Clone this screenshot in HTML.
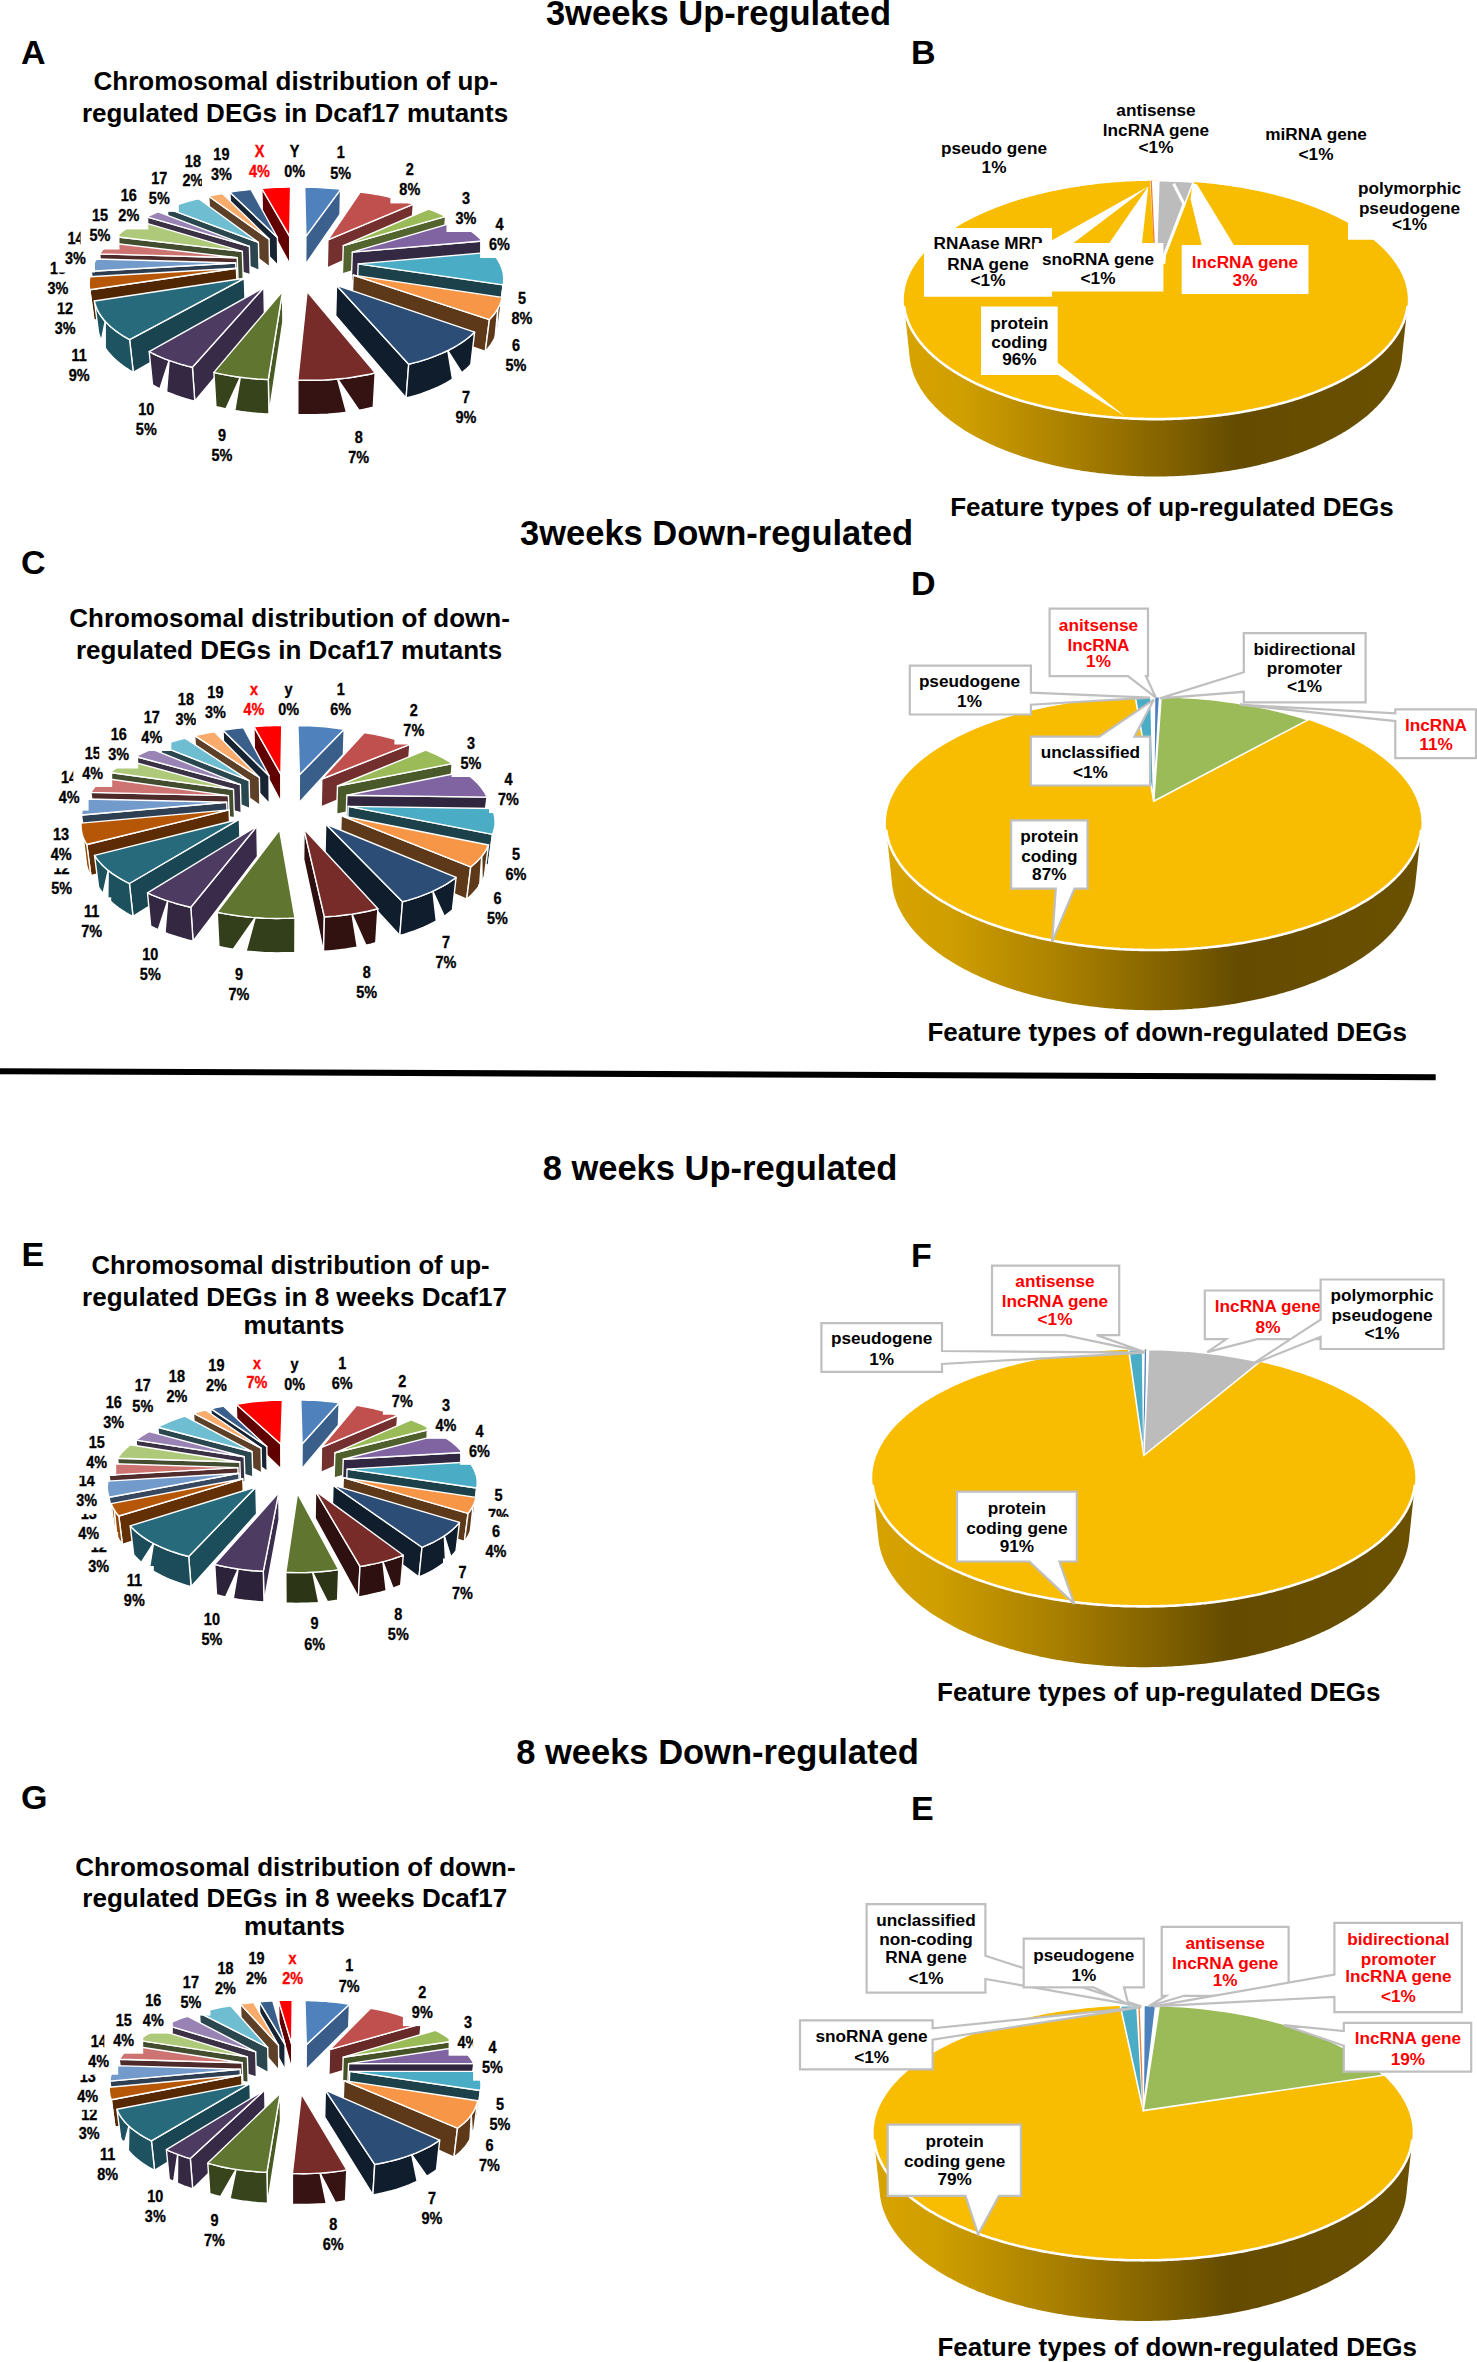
<!DOCTYPE html>
<html><head><meta charset="utf-8"><style>
html,body{margin:0;padding:0;background:#fff;overflow:hidden;}
svg{display:block;}
text{font-family:"Liberation Sans",sans-serif;font-weight:bold;}
</style></head><body>
<svg width="1477" height="2362" viewBox="0 0 1477 2362">
<defs><linearGradient id="gB" gradientUnits="userSpaceOnUse" x1="903.8" y1="0" x2="1407.8" y2="0"><stop offset="0.00" stop-color="#D7A300"/><stop offset="0.12" stop-color="#CF9E00"/><stop offset="0.35" stop-color="#A67D00"/><stop offset="0.55" stop-color="#7D5E00"/><stop offset="0.66" stop-color="#644B00"/><stop offset="1.00" stop-color="#6A5000"/></linearGradient>
<linearGradient id="gD" gradientUnits="userSpaceOnUse" x1="885.9" y1="0" x2="1421.5" y2="0"><stop offset="0.00" stop-color="#D7A300"/><stop offset="0.12" stop-color="#CF9E00"/><stop offset="0.35" stop-color="#A67D00"/><stop offset="0.55" stop-color="#7D5E00"/><stop offset="0.66" stop-color="#644B00"/><stop offset="1.00" stop-color="#6A5000"/></linearGradient>
<linearGradient id="gF" gradientUnits="userSpaceOnUse" x1="872.2" y1="0" x2="1415.3" y2="0"><stop offset="0.00" stop-color="#D7A300"/><stop offset="0.12" stop-color="#CF9E00"/><stop offset="0.35" stop-color="#A67D00"/><stop offset="0.55" stop-color="#7D5E00"/><stop offset="0.66" stop-color="#644B00"/><stop offset="1.00" stop-color="#6A5000"/></linearGradient>
<linearGradient id="gH" gradientUnits="userSpaceOnUse" x1="873.7" y1="0" x2="1412.7" y2="0"><stop offset="0.00" stop-color="#D7A300"/><stop offset="0.12" stop-color="#CF9E00"/><stop offset="0.35" stop-color="#A67D00"/><stop offset="0.55" stop-color="#7D5E00"/><stop offset="0.66" stop-color="#644B00"/><stop offset="1.00" stop-color="#6A5000"/></linearGradient></defs>
<rect width="1477" height="2362" fill="#fff"/>
<text x="718.5" y="24.5" font-size="34.5" text-anchor="middle" fill="#000">3weeks Up-regulated</text>
<text x="716.5" y="545.4" font-size="34.5" text-anchor="middle" fill="#000">3weeks Down-regulated</text>
<text x="720.0" y="1180.3" font-size="34.5" text-anchor="middle" fill="#000">8 weeks Up-regulated</text>
<text x="717.5" y="1764.0" font-size="34.5" text-anchor="middle" fill="#000">8 weeks Down-regulated</text>
<text x="21.0" y="63.5" font-size="34.0" text-anchor="start" fill="#000">A</text>
<text x="911.0" y="64.3" font-size="34.0" text-anchor="start" fill="#000">B</text>
<text x="21.0" y="573.5" font-size="34.0" text-anchor="start" fill="#000">C</text>
<text x="911.0" y="594.8" font-size="34.0" text-anchor="start" fill="#000">D</text>
<text x="21.5" y="1266.3" font-size="34.0" text-anchor="start" fill="#000">E</text>
<text x="911.0" y="1266.7" font-size="34.0" text-anchor="start" fill="#000">F</text>
<text x="21.0" y="1808.7" font-size="34.0" text-anchor="start" fill="#000">G</text>
<text x="911.0" y="1820.0" font-size="34.0" text-anchor="start" fill="#000">E</text>
<text x="295.7" y="90.0" font-size="26.0" text-anchor="middle" fill="#000">Chromosomal distribution of up-</text>
<text x="295.0" y="122.3" font-size="26.0" text-anchor="middle" fill="#000">regulated DEGs in Dcaf17 mutants</text>
<text x="289.6" y="627.3" font-size="26.0" text-anchor="middle" fill="#000">Chromosomal distribution of down-</text>
<text x="289.1" y="659.0" font-size="26.0" text-anchor="middle" fill="#000">regulated DEGs in Dcaf17 mutants</text>
<text x="290.5" y="1274.0" font-size="25.6" text-anchor="middle" fill="#000">Chromosomal distribution of up-</text>
<text x="294.5" y="1305.7" font-size="26.0" text-anchor="middle" fill="#000">regulated DEGs in 8 weeks Dcaf17</text>
<text x="294.0" y="1333.9" font-size="26.0" text-anchor="middle" fill="#000">mutants</text>
<text x="295.4" y="1875.6" font-size="26.0" text-anchor="middle" fill="#000">Chromosomal distribution of down-</text>
<text x="294.8" y="1906.6" font-size="26.0" text-anchor="middle" fill="#000">regulated DEGs in 8 weeks Dcaf17</text>
<text x="294.5" y="1934.8" font-size="26.0" text-anchor="middle" fill="#000">mutants</text>
<text x="1171.9" y="515.5" font-size="26.0" text-anchor="middle" fill="#000">Feature types of up-regulated DEGs</text>
<text x="1167.2" y="1040.5" font-size="26.0" text-anchor="middle" fill="#000">Feature types of down-regulated DEGs</text>
<text x="1158.8" y="1701.0" font-size="26.0" text-anchor="middle" fill="#000">Feature types of up-regulated DEGs</text>
<text x="1177.2" y="2355.7" font-size="26.0" text-anchor="middle" fill="#000">Feature types of down-regulated DEGs</text>
<polygon points="0,1068.2 1435.7,1074.3 1435.7,1080.3 0,1074.3" fill="#000"/>
<polygon points="289.7,236.3 261.8,188.5 262.4,213.5 289.8,264.0" fill="#600000" stroke="#fff" stroke-width="1.4" stroke-linejoin="round"/>
<polygon points="289.7,236.3 290.6,187.1 290.7,212.1 289.8,264.0" fill="#c60000" stroke="#fff" stroke-width="1.4" stroke-linejoin="round"/>
<polygon points="305.9,236.4 304.7,187.2 304.6,212.2 305.7,264.1" fill="#1e3147" stroke="#fff" stroke-width="1.4" stroke-linejoin="round"/>
<polygon points="305.9,236.4 340.6,189.3 340.0,214.4 305.7,264.1" fill="#3b608d" stroke="#fff" stroke-width="1.4" stroke-linejoin="round"/>
<polygon points="277.4,237.5 229.9,192.2 230.9,217.5 277.8,265.3" fill="#162434" stroke="#fff" stroke-width="1.4" stroke-linejoin="round"/>
<polygon points="269.1,239.1 208.7,196.2 210.1,221.7 269.6,267.0" fill="#5e4028" stroke="#fff" stroke-width="1.4" stroke-linejoin="round"/>
<polygon points="327.9,239.9 413.4,204.2 411.5,230.1 327.3,267.8" fill="#74302e" stroke="#fff" stroke-width="1.4" stroke-linejoin="round"/>
<polygon points="258.4,242.3 167.2,208.4 169.3,234.6 259.1,270.3" fill="#2a474f" stroke="#fff" stroke-width="1.4" stroke-linejoin="round"/>
<polygon points="343.3,245.7 445.7,216.4 443.3,243.0 342.4,274.0" fill="#53642f" stroke="#fff" stroke-width="1.4" stroke-linejoin="round"/>
<polygon points="249.4,246.4 146.8,216.9 149.3,243.6 250.2,274.7" fill="#3a3144" stroke="#fff" stroke-width="1.4" stroke-linejoin="round"/>
<polygon points="242.3,251.4 115.9,236.8 119.1,264.5 243.3,279.9" fill="#424c2e" stroke="#fff" stroke-width="1.4" stroke-linejoin="round"/>
<polygon points="352.3,252.1 482.4,241.0 479.1,269.0 351.3,280.7" fill="#342942" stroke="#fff" stroke-width="1.4" stroke-linejoin="round"/>
<polygon points="237.2,257.8 99.6,253.9 103.2,282.5 238.3,286.7" fill="#4d2b2a" stroke="#fff" stroke-width="1.4" stroke-linejoin="round"/>
<polygon points="235.7,263.0 91.2,271.2 95.1,300.8 236.8,292.1" fill="#2d3d50" stroke="#fff" stroke-width="1.4" stroke-linejoin="round"/>
<polygon points="358.2,263.9 503.2,284.9 499.1,315.1 357.0,293.0" fill="#1c414b" stroke="#fff" stroke-width="1.4" stroke-linejoin="round"/>
<polygon points="503.5,282.6 503.2,284.9 499.1,315.1 499.5,312.7" fill="#1c414b" stroke="#fff" stroke-width="1.4" stroke-linejoin="round"/>
<polygon points="236.4,268.3 89.8,289.8 93.9,320.2 237.5,297.6" fill="#512703" stroke="#fff" stroke-width="1.4" stroke-linejoin="round"/>
<polygon points="89.8,289.8 89.4,287.6 93.5,317.9 93.9,320.2" fill="#974806" stroke="#fff" stroke-width="1.4" stroke-linejoin="round"/>
<polygon points="353.1,275.1 489.4,319.6 485.3,351.4 352.0,304.9" fill="#5d391a" stroke="#fff" stroke-width="1.4" stroke-linejoin="round"/>
<polygon points="502.0,297.4 501.5,299.6 500.8,301.9 500.0,304.2 498.9,306.4 497.8,308.7 496.4,310.9 494.9,313.1 493.2,315.3 491.4,317.4 489.4,319.6 485.3,351.4 487.3,349.2 489.1,346.9 490.8,344.7 492.3,342.3 493.6,340.0 494.8,337.7 495.8,335.3 496.7,333.0 497.4,330.6 497.9,328.2" fill="#5d391a" stroke="#fff" stroke-width="1.4" stroke-linejoin="round"/>
<polygon points="497.8,308.7 495.1,337.0 496.7,333.0" fill="#fff" stroke="#fff" stroke-width="1.4" stroke-linejoin="round"/>
<polygon points="244.3,278.3 129.6,339.6 133.3,372.3 245.4,308.2" fill="#194450" stroke="#fff" stroke-width="1.4" stroke-linejoin="round"/>
<polygon points="129.6,339.6 126.1,337.6 122.7,335.6 119.5,333.5 116.5,331.4 113.7,329.2 111.0,327.0 108.6,324.8 106.3,322.5 104.2,320.2 102.3,317.8 100.7,315.5 99.1,313.1 97.8,310.7 96.7,308.3 95.8,305.8 95.0,303.4 94.4,301.0 98.5,332.0 99.1,334.5 99.9,337.1 100.8,339.6 102.0,342.1 103.3,344.6 104.8,347.1 106.4,349.6 108.3,352.1 110.4,354.5 112.6,356.9 115.0,359.2 117.6,361.6 120.4,363.8 123.4,366.0 126.5,368.2 129.8,370.3 133.3,372.3" fill="#1e5361" stroke="#fff" stroke-width="1.4" stroke-linejoin="round"/>
<polygon points="105.2,321.3 105.2,347.9 101.3,340.6" fill="#fff" stroke="#fff" stroke-width="1.4" stroke-linejoin="round"/>
<polygon points="336.5,285.3 408.7,364.2 406.1,398.0 335.7,315.6" fill="#101d2c" stroke="#fff" stroke-width="1.4" stroke-linejoin="round"/>
<polygon points="474.6,332.1 472.2,334.4 469.5,336.7 466.7,339.0 463.7,341.2 460.5,343.4 457.1,345.5 453.5,347.6 449.7,349.6 445.8,351.5 441.7,353.4 437.4,355.2 433.0,356.9 428.4,358.6 423.7,360.1 418.9,361.6 413.8,362.9 408.7,364.2 406.1,398.0 411.2,396.7 416.0,395.3 420.8,393.8 425.4,392.1 429.9,390.4 434.3,388.6 438.4,386.8 442.5,384.8 446.3,382.8 450.0,380.7 453.5,378.6 456.8,376.3 460.0,374.1 463.0,371.7 465.8,369.4 468.4,367.0 470.8,364.5" fill="#101d2c" stroke="#fff" stroke-width="1.4" stroke-linejoin="round"/>
<polygon points="447.8,350.6 452.5,379.2 461.8,372.7" fill="#fff" stroke="#fff" stroke-width="1.4" stroke-linejoin="round"/>
<polygon points="263.9,287.5 192.4,367.3 194.8,401.3 264.5,317.9" fill="#382b48" stroke="#fff" stroke-width="1.4" stroke-linejoin="round"/>
<polygon points="192.4,367.3 187.5,366.1 182.7,364.8 178.0,363.4 173.5,361.9 169.1,360.4 164.8,358.8 160.7,357.1 156.7,355.3 152.9,353.5 149.2,351.6 152.5,384.9 156.1,386.9 159.9,388.8 163.8,390.6 167.8,392.4 172.0,394.0 176.3,395.7 180.8,397.2 185.4,398.6 190.0,400.0 194.8,401.3" fill="#342842" stroke="#fff" stroke-width="1.4" stroke-linejoin="round"/>
<polygon points="169.1,360.4 166.6,391.8 159.9,388.8" fill="#fff" stroke="#fff" stroke-width="1.4" stroke-linejoin="round"/>
<polygon points="282.6,291.2 268.3,379.6 269.0,414.0 282.9,321.7" fill="#495b25" stroke="#fff" stroke-width="1.4" stroke-linejoin="round"/>
<polygon points="268.3,379.6 262.6,379.3 257.0,379.0 251.4,378.5 245.8,377.9 240.3,377.2 234.9,376.5 229.5,375.6 224.2,374.6 219.0,373.6 213.9,372.4 215.9,406.6 220.9,407.8 225.9,408.9 231.1,409.9 236.3,410.8 241.7,411.6 247.0,412.3 252.5,412.9 257.9,413.4 263.5,413.8 269.0,414.0" fill="#36431b" stroke="#fff" stroke-width="1.4" stroke-linejoin="round"/>
<polygon points="240.3,377.2 234.8,410.5 225.9,408.9" fill="#fff" stroke="#fff" stroke-width="1.4" stroke-linejoin="round"/>
<polygon points="375.2,372.9 369.7,374.2 364.0,375.3 358.3,376.3 352.5,377.3 346.6,378.1 340.6,378.7 334.6,379.3 328.5,379.7 322.4,380.1 316.3,380.3 310.1,380.3 303.9,380.3 297.8,380.1 297.8,414.6 303.8,414.8 309.8,414.8 315.8,414.7 321.8,414.5 327.8,414.2 333.7,413.7 339.6,413.1 345.4,412.4 351.2,411.6 356.9,410.7 362.4,409.6 367.9,408.4 373.3,407.1" fill="#341312" stroke="#fff" stroke-width="1.4" stroke-linejoin="round"/>
<polygon points="337.6,379.0 346.5,412.3 359.1,410.3" fill="#fff" stroke="#fff" stroke-width="1.4" stroke-linejoin="round"/>
<polygon points="305.9,236.4 304.7,187.2 308.3,187.2 312.0,187.3 315.6,187.4 319.2,187.5 322.8,187.7 326.4,188.0 330.0,188.2 333.6,188.5 337.1,188.9 340.6,189.3" fill="#4F81BD" stroke="#fff" stroke-width="1.4" stroke-linejoin="round"/>
<polygon points="327.9,239.9 360.2,192.0 364.0,192.5 367.8,193.0 371.5,193.6 375.3,194.2 379.0,194.9 382.6,195.6 386.2,196.4 389.8,197.2 393.3,198.1 396.8,199.0 400.2,199.9 403.6,200.9 406.9,202.0 410.2,203.1 413.4,204.2" fill="#C0504D" stroke="#fff" stroke-width="1.4" stroke-linejoin="round"/>
<polygon points="343.3,245.7 428.5,209.0 431.6,210.1 434.5,211.3 437.4,212.5 440.3,213.8 443.0,215.1 445.7,216.4" fill="#9BBB59" stroke="#fff" stroke-width="1.4" stroke-linejoin="round"/>
<polygon points="352.3,252.1 455.7,221.8 458.6,223.4 461.5,224.9 464.2,226.6 466.9,228.2 469.4,229.9 471.9,231.7 474.2,233.5 476.4,235.3 478.6,237.2 480.5,239.0 482.4,241.0" fill="#8064A2" stroke="#fff" stroke-width="1.4" stroke-linejoin="round"/>
<polygon points="358.2,263.9 491.8,252.1 493.5,254.1 495.2,256.1 496.7,258.2 498.1,260.4 499.3,262.5 500.4,264.7 501.4,266.9 502.2,269.1 502.8,271.3 503.3,273.5 503.6,275.8 503.7,278.1 503.7,280.3 503.5,282.6 503.2,284.9" fill="#4BACC6" stroke="#fff" stroke-width="1.4" stroke-linejoin="round"/>
<polygon points="353.1,275.1 502.0,297.4 501.5,299.6 500.8,301.9 500.0,304.2 498.9,306.4 497.8,308.7 496.4,310.9 494.9,313.1 493.2,315.3 491.4,317.4 489.4,319.6" fill="#F79646" stroke="#fff" stroke-width="1.4" stroke-linejoin="round"/>
<polygon points="336.5,285.3 474.6,332.1 472.2,334.4 469.5,336.7 466.7,339.0 463.7,341.2 460.5,343.4 457.1,345.5 453.5,347.6 449.7,349.6 445.8,351.5 441.7,353.4 437.4,355.2 433.0,356.9 428.4,358.6 423.7,360.1 418.9,361.6 413.8,362.9 408.7,364.2" fill="#2C4D75" stroke="#fff" stroke-width="1.4" stroke-linejoin="round"/>
<polygon points="307.1,291.5 375.2,372.9 369.7,374.2 364.0,375.3 358.3,376.3 352.5,377.3 346.6,378.1 340.6,378.7 334.6,379.3 328.5,379.7 322.4,380.1 316.3,380.3 310.1,380.3 303.9,380.3 297.8,380.1" fill="#772C2A" stroke="#fff" stroke-width="1.4" stroke-linejoin="round"/>
<polygon points="282.6,291.2 268.3,379.6 262.6,379.3 257.0,379.0 251.4,378.5 245.8,377.9 240.3,377.2 234.9,376.5 229.5,375.6 224.2,374.6 219.0,373.6 213.9,372.4" fill="#5F7530" stroke="#fff" stroke-width="1.4" stroke-linejoin="round"/>
<polygon points="263.9,287.5 192.4,367.3 187.5,366.1 182.7,364.8 178.0,363.4 173.5,361.9 169.1,360.4 164.8,358.8 160.7,357.1 156.7,355.3 152.9,353.5 149.2,351.6" fill="#4D3B62" stroke="#fff" stroke-width="1.4" stroke-linejoin="round"/>
<polygon points="244.3,278.3 129.6,339.6 126.1,337.6 122.7,335.6 119.5,333.5 116.5,331.4 113.7,329.2 111.0,327.0 108.6,324.8 106.3,322.5 104.2,320.2 102.3,317.8 100.7,315.5 99.1,313.1 97.8,310.7 96.7,308.3 95.8,305.8 95.0,303.4 94.4,301.0" fill="#276A7C" stroke="#fff" stroke-width="1.4" stroke-linejoin="round"/>
<polygon points="236.4,268.3 89.8,289.8 89.4,287.6 89.2,285.4 89.2,283.2 89.3,281.0 89.5,278.9 89.9,276.7" fill="#B65708" stroke="#fff" stroke-width="1.4" stroke-linejoin="round"/>
<polygon points="235.7,263.0 91.2,271.2 91.7,269.1 92.4,267.1 93.2,265.0 94.1,263.0 95.2,261.0 96.4,259.0" fill="#729ACA" stroke="#fff" stroke-width="1.4" stroke-linejoin="round"/>
<polygon points="237.2,257.8 99.6,253.9 100.9,252.0 102.3,250.1 103.8,248.2 105.4,246.3 107.2,244.5 109.0,242.7" fill="#CD7371" stroke="#fff" stroke-width="1.4" stroke-linejoin="round"/>
<polygon points="242.3,251.4 115.9,236.8 117.8,235.0 119.8,233.4 121.9,231.7 124.1,230.1 126.4,228.5 128.8,227.0 131.2,225.5 133.8,224.0 136.4,222.6 139.1,221.2" fill="#AFC97A" stroke="#fff" stroke-width="1.4" stroke-linejoin="round"/>
<polygon points="249.4,246.4 146.8,216.9 149.5,215.6 152.3,214.3 155.1,213.1 158.1,211.8" fill="#9983B5" stroke="#fff" stroke-width="1.4" stroke-linejoin="round"/>
<polygon points="258.4,242.3 167.2,208.4 170.2,207.3 173.1,206.1 176.2,205.1 179.3,204.0 182.4,203.0 185.6,202.1 188.8,201.2 192.1,200.3 195.4,199.4 198.8,198.7" fill="#6FBDD1" stroke="#fff" stroke-width="1.4" stroke-linejoin="round"/>
<polygon points="269.1,239.1 208.7,196.2 212.1,195.4 215.5,194.7 218.9,194.1 222.4,193.5" fill="#F9AB6B" stroke="#fff" stroke-width="1.4" stroke-linejoin="round"/>
<polygon points="277.4,237.5 229.9,192.2 233.3,191.6 236.8,191.1 240.3,190.6 243.9,190.2 247.4,189.8 251.0,189.4" fill="#3A5F8B" stroke="#fff" stroke-width="1.4" stroke-linejoin="round"/>
<polygon points="289.7,236.3 261.8,188.5 265.4,188.1 269.0,187.9 272.6,187.6 276.2,187.4 279.8,187.3 283.4,187.2 287.0,187.1 290.6,187.1" fill="#FF0000" stroke="#fff" stroke-width="1.4" stroke-linejoin="round"/>
<rect x="321.3" y="137.8" width="38.9" height="49.0" fill="#fff"/><g transform="translate(340.7,0) scale(0.86,1)" fill="#000" stroke="#000" stroke-width="0.35"><text x="0" y="157.8" font-size="16.8" text-anchor="middle">1</text><text x="0" y="178.8" font-size="16.8" text-anchor="middle">5%</text></g>
<rect x="390.4" y="155.3" width="38.9" height="48.1" fill="#fff"/><g transform="translate(409.8,0) scale(0.86,1)" fill="#000" stroke="#000" stroke-width="0.35"><text x="0" y="175.3" font-size="16.8" text-anchor="middle">2</text><text x="0" y="195.4" font-size="16.8" text-anchor="middle">8%</text></g>
<rect x="446.5" y="183.9" width="38.9" height="48.1" fill="#fff"/><g transform="translate(465.9,0) scale(0.86,1)" fill="#000" stroke="#000" stroke-width="0.35"><text x="0" y="203.9" font-size="16.8" text-anchor="middle">3</text><text x="0" y="224.0" font-size="16.8" text-anchor="middle">3%</text></g>
<rect x="480.1" y="210.0" width="38.9" height="48.0" fill="#fff"/><g transform="translate(499.5,0) scale(0.86,1)" fill="#000" stroke="#000" stroke-width="0.35"><text x="0" y="230.0" font-size="16.8" text-anchor="middle">4</text><text x="0" y="250.0" font-size="16.8" text-anchor="middle">6%</text></g>
<rect x="502.6" y="284.0" width="38.9" height="48.0" fill="#fff"/><g transform="translate(522.0,0) scale(0.86,1)" fill="#000" stroke="#000" stroke-width="0.35"><text x="0" y="304.0" font-size="16.8" text-anchor="middle">5</text><text x="0" y="324.0" font-size="16.8" text-anchor="middle">8%</text></g>
<rect x="496.6" y="330.7" width="38.9" height="48.0" fill="#fff"/><g transform="translate(516.0,0) scale(0.86,1)" fill="#000" stroke="#000" stroke-width="0.35"><text x="0" y="350.7" font-size="16.8" text-anchor="middle">6</text><text x="0" y="370.7" font-size="16.8" text-anchor="middle">5%</text></g>
<rect x="446.6" y="382.8" width="38.9" height="48.0" fill="#fff"/><g transform="translate(466.0,0) scale(0.86,1)" fill="#000" stroke="#000" stroke-width="0.35"><text x="0" y="402.8" font-size="16.8" text-anchor="middle">7</text><text x="0" y="422.8" font-size="16.8" text-anchor="middle">9%</text></g>
<rect x="339.3" y="422.9" width="38.9" height="48.1" fill="#fff"/><g transform="translate(358.7,0) scale(0.86,1)" fill="#000" stroke="#000" stroke-width="0.35"><text x="0" y="442.9" font-size="16.8" text-anchor="middle">8</text><text x="0" y="463.0" font-size="16.8" text-anchor="middle">7%</text></g>
<rect x="202.6" y="420.9" width="38.9" height="48.1" fill="#fff"/><g transform="translate(222.0,0) scale(0.86,1)" fill="#000" stroke="#000" stroke-width="0.35"><text x="0" y="440.9" font-size="16.8" text-anchor="middle">9</text><text x="0" y="461.0" font-size="16.8" text-anchor="middle">5%</text></g>
<rect x="126.9" y="395.3" width="38.9" height="48.1" fill="#fff"/><g transform="translate(146.3,0) scale(0.86,1)" fill="#000" stroke="#000" stroke-width="0.35"><text x="0" y="415.3" font-size="16.8" text-anchor="middle">10</text><text x="0" y="435.4" font-size="16.8" text-anchor="middle">5%</text></g>
<rect x="59.8" y="340.7" width="38.9" height="48.1" fill="#fff"/><g transform="translate(79.2,0) scale(0.86,1)" fill="#000" stroke="#000" stroke-width="0.35"><text x="0" y="360.7" font-size="16.8" text-anchor="middle">11</text><text x="0" y="380.8" font-size="16.8" text-anchor="middle">9%</text></g>
<rect x="45.7" y="294.1" width="38.9" height="48.1" fill="#fff"/><g transform="translate(65.1,0) scale(0.86,1)" fill="#000" stroke="#000" stroke-width="0.35"><text x="0" y="314.1" font-size="16.8" text-anchor="middle">12</text><text x="0" y="334.2" font-size="16.8" text-anchor="middle">3%</text></g>
<rect x="38.6" y="254.4" width="38.9" height="48.1" fill="#fff"/><g transform="translate(58.0,0) scale(0.86,1)" fill="#000" stroke="#000" stroke-width="0.35"><text x="0" y="274.4" font-size="16.8" text-anchor="middle">13</text><text x="0" y="294.5" font-size="16.8" text-anchor="middle">3%</text></g>
<rect x="56.1" y="224.0" width="38.9" height="48.5" fill="#fff"/><g transform="translate(75.5,0) scale(0.86,1)" fill="#000" stroke="#000" stroke-width="0.35"><text x="0" y="244.0" font-size="16.8" text-anchor="middle">14</text><text x="0" y="264.5" font-size="16.8" text-anchor="middle">3%</text></g>
<rect x="80.6" y="201.0" width="38.9" height="48.5" fill="#fff"/><g transform="translate(100.0,0) scale(0.86,1)" fill="#000" stroke="#000" stroke-width="0.35"><text x="0" y="221.0" font-size="16.8" text-anchor="middle">15</text><text x="0" y="241.5" font-size="16.8" text-anchor="middle">5%</text></g>
<rect x="109.4" y="181.4" width="38.9" height="48.0" fill="#fff"/><g transform="translate(128.8,0) scale(0.86,1)" fill="#000" stroke="#000" stroke-width="0.35"><text x="0" y="201.4" font-size="16.8" text-anchor="middle">16</text><text x="0" y="221.4" font-size="16.8" text-anchor="middle">2%</text></g>
<rect x="139.9" y="163.9" width="38.9" height="48.0" fill="#fff"/><g transform="translate(159.3,0) scale(0.86,1)" fill="#000" stroke="#000" stroke-width="0.35"><text x="0" y="183.9" font-size="16.8" text-anchor="middle">17</text><text x="0" y="203.9" font-size="16.8" text-anchor="middle">5%</text></g>
<rect x="173.5" y="147.3" width="38.9" height="47.1" fill="#fff"/><g transform="translate(192.9,0) scale(0.86,1)" fill="#000" stroke="#000" stroke-width="0.35"><text x="0" y="167.3" font-size="16.8" text-anchor="middle">18</text><text x="0" y="186.4" font-size="16.8" text-anchor="middle">2%</text></g>
<rect x="202.0" y="139.8" width="38.9" height="48.0" fill="#fff"/><g transform="translate(221.4,0) scale(0.86,1)" fill="#000" stroke="#000" stroke-width="0.35"><text x="0" y="159.8" font-size="16.8" text-anchor="middle">19</text><text x="0" y="179.8" font-size="16.8" text-anchor="middle">3%</text></g>
<rect x="240.1" y="137.3" width="38.9" height="48.0" fill="#fff"/><g transform="translate(259.5,0) scale(0.86,1)" fill="#f00" stroke="#f00" stroke-width="0.35"><text x="0" y="157.3" font-size="16.8" text-anchor="middle">X</text><text x="0" y="177.3" font-size="16.8" text-anchor="middle">4%</text></g>
<rect x="275.2" y="137.3" width="38.9" height="48.0" fill="#fff"/><g transform="translate(294.6,0) scale(0.86,1)" fill="#000" stroke="#000" stroke-width="0.35"><text x="0" y="157.3" font-size="16.8" text-anchor="middle">Y</text><text x="0" y="177.3" font-size="16.8" text-anchor="middle">0%</text></g>
<polygon points="280.9,774.5 253.9,726.7 254.4,751.7 281.0,802.2" fill="#600000" stroke="#fff" stroke-width="1.4" stroke-linejoin="round"/>
<polygon points="280.9,774.5 281.8,725.5 281.9,750.4 281.0,802.2" fill="#c60000" stroke="#fff" stroke-width="1.4" stroke-linejoin="round"/>
<polygon points="299.4,774.8 297.9,725.7 297.7,750.6 299.2,802.5" fill="#1e3147" stroke="#fff" stroke-width="1.4" stroke-linejoin="round"/>
<polygon points="299.4,774.8 344.2,729.3 343.4,754.4 299.2,802.5" fill="#395e8a" stroke="#fff" stroke-width="1.4" stroke-linejoin="round"/>
<polygon points="269.0,775.7 223.0,730.2 224.0,755.4 269.3,803.4" fill="#162434" stroke="#fff" stroke-width="1.4" stroke-linejoin="round"/>
<polygon points="259.4,777.5 194.7,735.7 196.2,761.2 259.9,805.4" fill="#5e4028" stroke="#fff" stroke-width="1.4" stroke-linejoin="round"/>
<polygon points="321.8,779.0 409.9,744.4 408.0,770.4 321.2,806.9" fill="#722f2d" stroke="#fff" stroke-width="1.4" stroke-linejoin="round"/>
<polygon points="249.1,780.6 160.8,745.8 162.8,771.8 249.8,808.6" fill="#2a474f" stroke="#fff" stroke-width="1.4" stroke-linejoin="round"/>
<polygon points="240.4,784.6 135.7,756.5 138.3,783.1 241.2,812.8" fill="#3a3144" stroke="#fff" stroke-width="1.4" stroke-linejoin="round"/>
<polygon points="337.5,786.0 452.4,763.6 449.6,790.7 336.6,814.2" fill="#4a592a" stroke="#fff" stroke-width="1.4" stroke-linejoin="round"/>
<polygon points="233.5,789.4 110.1,772.5 113.2,800.1 234.5,817.8" fill="#424c2e" stroke="#fff" stroke-width="1.4" stroke-linejoin="round"/>
<polygon points="346.9,795.2 487.0,797.1 483.3,826.0 345.9,823.9" fill="#30263d" stroke="#fff" stroke-width="1.4" stroke-linejoin="round"/>
<polygon points="228.4,795.6 90.9,792.4 94.5,821.0 229.5,824.4" fill="#4d2b2a" stroke="#fff" stroke-width="1.4" stroke-linejoin="round"/>
<polygon points="226.7,802.3 81.5,815.0 85.4,844.7 227.8,831.4" fill="#2f3f53" stroke="#fff" stroke-width="1.4" stroke-linejoin="round"/>
<polygon points="348.2,806.4 492.5,834.4 488.4,865.2 347.1,835.8" fill="#1c414b" stroke="#fff" stroke-width="1.4" stroke-linejoin="round"/>
<polygon points="494.9,824.9 494.6,827.3 494.0,829.7 493.4,832.1 492.5,834.4 488.4,865.2 489.2,862.7 490.0,860.2 490.5,857.7 490.8,855.2" fill="#1c414b" stroke="#fff" stroke-width="1.4" stroke-linejoin="round"/>
<polygon points="229.1,809.9 86.8,844.5 90.9,875.6 230.2,839.4" fill="#5d2c04" stroke="#fff" stroke-width="1.4" stroke-linejoin="round"/>
<polygon points="86.8,844.5 85.4,842.1 84.2,839.8 83.2,837.4 82.4,835.0 81.8,832.6 81.4,830.2 85.5,860.7 85.9,863.2 86.6,865.7 87.4,868.2 88.4,870.7 89.5,873.2 90.9,875.6" fill="#954706" stroke="#fff" stroke-width="1.4" stroke-linejoin="round"/>
<polygon points="83.2,837.4 86.7,866.3 86.0,863.7" fill="#fff" stroke="#fff" stroke-width="1.4" stroke-linejoin="round"/>
<polygon points="341.2,815.7 470.7,866.9 466.7,899.1 340.2,845.5" fill="#5d391a" stroke="#fff" stroke-width="1.4" stroke-linejoin="round"/>
<polygon points="488.5,845.0 487.4,847.3 486.3,849.6 484.9,851.8 483.4,854.1 481.7,856.3 479.8,858.4 477.8,860.6 475.6,862.7 473.2,864.8 470.7,866.9 466.7,899.1 469.2,897.0 471.6,894.8 473.7,892.5 475.7,890.3 477.6,888.0 479.3,885.7 480.8,883.3 482.1,881.0 483.3,878.6 484.3,876.3" fill="#5d391a" stroke="#fff" stroke-width="1.4" stroke-linejoin="round"/>
<polygon points="481.7,856.3 479.7,885.0 482.1,881.0" fill="#fff" stroke="#fff" stroke-width="1.4" stroke-linejoin="round"/>
<polygon points="239.4,819.2 129.4,883.5 133.0,916.4 240.3,849.1" fill="#194652" stroke="#fff" stroke-width="1.4" stroke-linejoin="round"/>
<polygon points="129.4,883.5 125.7,881.6 122.1,879.7 118.7,877.7 115.5,875.7 112.4,873.6 109.5,871.4 106.8,869.2 104.3,867.0 102.0,864.7 99.9,862.4 97.9,860.1 96.1,857.8 94.5,855.4 98.6,887.1 100.2,889.6 101.9,892.0 103.9,894.5 106.0,896.9 108.3,899.2 110.8,901.5 113.4,903.8 116.2,906.1 119.2,908.3 122.4,910.4 125.8,912.5 129.3,914.5 133.0,916.4" fill="#1d515e" stroke="#fff" stroke-width="1.4" stroke-linejoin="round"/>
<polygon points="108.2,870.3 107.8,898.8 103.1,893.5" fill="#fff" stroke="#fff" stroke-width="1.4" stroke-linejoin="round"/>
<polygon points="325.7,824.0 402.5,901.8 399.8,935.5 325.0,854.2" fill="#101d2c" stroke="#fff" stroke-width="1.4" stroke-linejoin="round"/>
<polygon points="456.1,877.4 453.1,879.7 449.8,881.9 446.4,884.1 442.8,886.2 439.0,888.2 435.0,890.2 430.8,892.1 426.5,893.9 422.0,895.7 417.3,897.3 412.5,898.9 407.6,900.4 402.5,901.8 399.8,935.5 404.8,934.1 409.7,932.5 414.4,930.9 418.9,929.1 423.3,927.3 427.6,925.4 431.7,923.4 435.6,921.4 439.3,919.2 442.9,917.0 446.2,914.8 449.4,912.4 452.4,910.1" fill="#101d2c" stroke="#fff" stroke-width="1.4" stroke-linejoin="round"/>
<polygon points="432.9,891.2 436.3,921.0 444.2,916.1" fill="#fff" stroke="#fff" stroke-width="1.4" stroke-linejoin="round"/>
<polygon points="256.9,826.2 190.8,907.2 193.1,941.1 257.5,856.5" fill="#392b49" stroke="#fff" stroke-width="1.4" stroke-linejoin="round"/>
<polygon points="190.8,907.2 185.4,906.0 180.2,904.6 175.1,903.2 170.1,901.7 165.3,900.1 160.6,898.4 156.1,896.6 151.7,894.8 147.5,892.8 150.7,926.2 154.8,928.2 159.1,930.1 163.5,932.0 168.1,933.8 172.8,935.4 177.7,937.0 182.7,938.5 187.8,939.9 193.1,941.1" fill="#332741" stroke="#fff" stroke-width="1.4" stroke-linejoin="round"/>
<polygon points="167.7,900.9 165.0,932.6 158.2,929.8" fill="#fff" stroke="#fff" stroke-width="1.4" stroke-linejoin="round"/>
<polygon points="304.0,829.1 324.4,916.9 323.5,951.3 303.7,859.5" fill="#2d100f" stroke="#fff" stroke-width="1.4" stroke-linejoin="round"/>
<polygon points="377.9,908.8 372.9,910.0 367.8,911.2 362.6,912.2 357.4,913.2 352.0,914.1 346.6,914.8 341.1,915.5 335.6,916.1 330.0,916.5 324.4,916.9 323.5,951.3 329.0,950.9 334.4,950.4 339.9,949.8 345.2,949.1 350.5,948.3 355.7,947.4 360.9,946.4 365.9,945.3 370.9,944.1 375.8,942.8" fill="#311211" stroke="#fff" stroke-width="1.4" stroke-linejoin="round"/>
<polygon points="352.0,914.1 357.3,947.1 365.9,945.3" fill="#fff" stroke="#fff" stroke-width="1.4" stroke-linejoin="round"/>
<polygon points="295.0,918.0 288.9,918.3 282.8,918.4 276.6,918.5 270.5,918.4 264.4,918.2 258.3,917.8 252.2,917.4 246.2,916.8 240.2,916.1 234.3,915.3 228.5,914.4 222.8,913.4 217.2,912.2 218.9,946.4 224.4,947.6 229.9,948.6 235.6,949.6 241.3,950.4 247.2,951.2 253.0,951.7 259.0,952.2 264.9,952.6 270.9,952.8 276.9,952.9 282.9,952.8 288.9,952.7 294.9,952.4" fill="#333f1a" stroke="#fff" stroke-width="1.4" stroke-linejoin="round"/>
<polygon points="255.2,917.6 246.1,951.0 233.3,949.2" fill="#fff" stroke="#fff" stroke-width="1.4" stroke-linejoin="round"/>
<polygon points="299.4,774.8 297.9,725.7 301.8,725.8 305.7,725.8 309.7,725.9 313.6,726.1 317.5,726.3 321.3,726.6 325.2,726.9 329.1,727.3 332.9,727.7 336.7,728.2 340.5,728.7 344.2,729.3" fill="#4F81BD" stroke="#fff" stroke-width="1.4" stroke-linejoin="round"/>
<polygon points="321.8,779.0 364.4,732.5 368.1,733.2 371.9,733.8 375.6,734.6 379.2,735.3 382.8,736.1 386.4,737.0 389.9,737.9 393.4,738.9 396.9,739.9 400.2,740.9 403.5,742.0 406.8,743.2 409.9,744.4" fill="#C0504D" stroke="#fff" stroke-width="1.4" stroke-linejoin="round"/>
<polygon points="337.5,786.0 425.6,750.1 429.0,751.4 432.2,752.8 435.4,754.2 438.4,755.6 441.4,757.1 444.3,758.7 447.1,760.3 449.8,761.9 452.4,763.6" fill="#9BBB59" stroke="#fff" stroke-width="1.4" stroke-linejoin="round"/>
<polygon points="346.9,795.2 463.8,771.8 466.3,773.5 468.7,775.3 471.0,777.1 473.2,779.0 475.2,780.9 477.2,782.8 479.0,784.8 480.7,786.8 482.2,788.8 483.6,790.8 484.9,792.9 486.0,795.0 487.0,797.1" fill="#8064A2" stroke="#fff" stroke-width="1.4" stroke-linejoin="round"/>
<polygon points="348.2,806.4 492.2,808.5 493.1,810.8 493.8,813.1 494.4,815.5 494.8,817.8 495.0,820.2 495.0,822.6 494.9,824.9 494.6,827.3 494.0,829.7 493.4,832.1 492.5,834.4" fill="#4BACC6" stroke="#fff" stroke-width="1.4" stroke-linejoin="round"/>
<polygon points="341.2,815.7 488.5,845.0 487.4,847.3 486.3,849.6 484.9,851.8 483.4,854.1 481.7,856.3 479.8,858.4 477.8,860.6 475.6,862.7 473.2,864.8 470.7,866.9" fill="#F79646" stroke="#fff" stroke-width="1.4" stroke-linejoin="round"/>
<polygon points="325.7,824.0 456.1,877.4 453.1,879.7 449.8,881.9 446.4,884.1 442.8,886.2 439.0,888.2 435.0,890.2 430.8,892.1 426.5,893.9 422.0,895.7 417.3,897.3 412.5,898.9 407.6,900.4 402.5,901.8" fill="#2C4D75" stroke="#fff" stroke-width="1.4" stroke-linejoin="round"/>
<polygon points="304.0,829.1 377.9,908.8 372.9,910.0 367.8,911.2 362.6,912.2 357.4,913.2 352.0,914.1 346.6,914.8 341.1,915.5 335.6,916.1 330.0,916.5 324.4,916.9" fill="#772C2A" stroke="#fff" stroke-width="1.4" stroke-linejoin="round"/>
<polygon points="279.6,829.8 295.0,918.0 288.9,918.3 282.8,918.4 276.6,918.5 270.5,918.4 264.4,918.2 258.3,917.8 252.2,917.4 246.2,916.8 240.2,916.1 234.3,915.3 228.5,914.4 222.8,913.4 217.2,912.2" fill="#5F7530" stroke="#fff" stroke-width="1.4" stroke-linejoin="round"/>
<polygon points="256.9,826.2 190.8,907.2 185.4,906.0 180.2,904.6 175.1,903.2 170.1,901.7 165.3,900.1 160.6,898.4 156.1,896.6 151.7,894.8 147.5,892.8" fill="#4D3B62" stroke="#fff" stroke-width="1.4" stroke-linejoin="round"/>
<polygon points="239.4,819.2 129.4,883.5 125.7,881.6 122.1,879.7 118.7,877.7 115.5,875.7 112.4,873.6 109.5,871.4 106.8,869.2 104.3,867.0 102.0,864.7 99.9,862.4 97.9,860.1 96.1,857.8 94.5,855.4" fill="#276A7C" stroke="#fff" stroke-width="1.4" stroke-linejoin="round"/>
<polygon points="229.1,809.9 86.8,844.5 85.4,842.1 84.2,839.8 83.2,837.4 82.4,835.0 81.8,832.6 81.4,830.2 81.1,827.8 81.0,825.5 81.1,823.1" fill="#B65708" stroke="#fff" stroke-width="1.4" stroke-linejoin="round"/>
<polygon points="226.7,802.3 81.5,815.0 81.7,812.6 82.2,810.3 82.8,808.0 83.6,805.7 84.5,803.4 85.6,801.2 86.9,799.0" fill="#729ACA" stroke="#fff" stroke-width="1.4" stroke-linejoin="round"/>
<polygon points="228.4,795.6 90.9,792.4 92.2,790.3 93.8,788.2 95.4,786.1 97.2,784.1 99.2,782.1 101.2,780.1 103.4,778.2" fill="#CD7371" stroke="#fff" stroke-width="1.4" stroke-linejoin="round"/>
<polygon points="233.5,789.4 110.1,772.5 112.4,770.7 114.7,768.9 117.2,767.1 119.8,765.4 122.5,763.8 125.3,762.1 128.2,760.6" fill="#AFC97A" stroke="#fff" stroke-width="1.4" stroke-linejoin="round"/>
<polygon points="240.4,784.6 135.7,756.5 138.3,755.1 140.9,753.9 143.6,752.6 146.3,751.4 149.1,750.2 152.0,749.1" fill="#9983B5" stroke="#fff" stroke-width="1.4" stroke-linejoin="round"/>
<polygon points="249.1,780.6 160.8,745.8 164.1,744.5 167.4,743.4 170.9,742.2 174.3,741.1 177.9,740.1 181.5,739.1 185.1,738.2" fill="#6FBDD1" stroke="#fff" stroke-width="1.4" stroke-linejoin="round"/>
<polygon points="259.4,777.5 194.7,735.7 197.9,734.9 201.1,734.2 204.4,733.5 207.7,732.9 211.0,732.3 214.4,731.7" fill="#F9AB6B" stroke="#fff" stroke-width="1.4" stroke-linejoin="round"/>
<polygon points="269.0,775.7 223.0,730.2 226.4,729.7 229.8,729.2 233.2,728.8 236.6,728.3 240.0,728.0 243.5,727.6" fill="#3A5F8B" stroke="#fff" stroke-width="1.4" stroke-linejoin="round"/>
<polygon points="280.9,774.5 253.9,726.7 257.9,726.4 261.8,726.1 265.8,725.9 269.8,725.7 273.8,725.6 277.8,725.5 281.8,725.5" fill="#FF0000" stroke="#fff" stroke-width="1.4" stroke-linejoin="round"/>
<rect x="321.3" y="675.4" width="38.9" height="48.0" fill="#fff"/><g transform="translate(340.7,0) scale(0.86,1)" fill="#000" stroke="#000" stroke-width="0.35"><text x="0" y="695.4" font-size="16.8" text-anchor="middle">1</text><text x="0" y="715.4" font-size="16.8" text-anchor="middle">6%</text></g>
<rect x="394.4" y="696.4" width="38.9" height="48.1" fill="#fff"/><g transform="translate(413.8,0) scale(0.86,1)" fill="#000" stroke="#000" stroke-width="0.35"><text x="0" y="716.4" font-size="16.8" text-anchor="middle">2</text><text x="0" y="736.5" font-size="16.8" text-anchor="middle">7%</text></g>
<rect x="451.6" y="729.0" width="38.9" height="48.0" fill="#fff"/><g transform="translate(471.0,0) scale(0.86,1)" fill="#000" stroke="#000" stroke-width="0.35"><text x="0" y="749.0" font-size="16.8" text-anchor="middle">3</text><text x="0" y="769.0" font-size="16.8" text-anchor="middle">5%</text></g>
<rect x="489.1" y="765.0" width="38.9" height="48.0" fill="#fff"/><g transform="translate(508.5,0) scale(0.86,1)" fill="#000" stroke="#000" stroke-width="0.35"><text x="0" y="785.0" font-size="16.8" text-anchor="middle">4</text><text x="0" y="805.0" font-size="16.8" text-anchor="middle">7%</text></g>
<rect x="496.6" y="840.2" width="38.9" height="48.1" fill="#fff"/><g transform="translate(516.0,0) scale(0.86,1)" fill="#000" stroke="#000" stroke-width="0.35"><text x="0" y="860.2" font-size="16.8" text-anchor="middle">5</text><text x="0" y="880.3" font-size="16.8" text-anchor="middle">6%</text></g>
<rect x="478.1" y="884.3" width="38.9" height="48.0" fill="#fff"/><g transform="translate(497.5,0) scale(0.86,1)" fill="#000" stroke="#000" stroke-width="0.35"><text x="0" y="904.3" font-size="16.8" text-anchor="middle">6</text><text x="0" y="924.3" font-size="16.8" text-anchor="middle">5%</text></g>
<rect x="426.5" y="927.9" width="38.9" height="48.1" fill="#fff"/><g transform="translate(445.9,0) scale(0.86,1)" fill="#000" stroke="#000" stroke-width="0.35"><text x="0" y="947.9" font-size="16.8" text-anchor="middle">7</text><text x="0" y="968.0" font-size="16.8" text-anchor="middle">7%</text></g>
<rect x="347.3" y="958.0" width="38.9" height="48.0" fill="#fff"/><g transform="translate(366.7,0) scale(0.86,1)" fill="#000" stroke="#000" stroke-width="0.35"><text x="0" y="978.0" font-size="16.8" text-anchor="middle">8</text><text x="0" y="998.0" font-size="16.8" text-anchor="middle">5%</text></g>
<rect x="219.6" y="960.5" width="38.9" height="48.0" fill="#fff"/><g transform="translate(239.0,0) scale(0.86,1)" fill="#000" stroke="#000" stroke-width="0.35"><text x="0" y="980.5" font-size="16.8" text-anchor="middle">9</text><text x="0" y="1000.5" font-size="16.8" text-anchor="middle">7%</text></g>
<rect x="130.9" y="940.4" width="38.9" height="48.0" fill="#fff"/><g transform="translate(150.3,0) scale(0.86,1)" fill="#000" stroke="#000" stroke-width="0.35"><text x="0" y="960.4" font-size="16.8" text-anchor="middle">10</text><text x="0" y="980.4" font-size="16.8" text-anchor="middle">5%</text></g>
<rect x="72.3" y="897.3" width="38.9" height="48.1" fill="#fff"/><g transform="translate(91.7,0) scale(0.86,1)" fill="#000" stroke="#000" stroke-width="0.35"><text x="0" y="917.3" font-size="16.8" text-anchor="middle">11</text><text x="0" y="937.4" font-size="16.8" text-anchor="middle">7%</text></g>
<rect x="42.2" y="854.3" width="38.9" height="48.0" fill="#fff"/><g transform="translate(61.6,0) scale(0.86,1)" fill="#000" stroke="#000" stroke-width="0.35"><text x="0" y="874.3" font-size="16.8" text-anchor="middle">12</text><text x="0" y="894.3" font-size="16.8" text-anchor="middle">5%</text></g>
<rect x="41.7" y="820.2" width="38.9" height="48.0" fill="#fff"/><g transform="translate(61.1,0) scale(0.86,1)" fill="#000" stroke="#000" stroke-width="0.35"><text x="0" y="840.2" font-size="16.8" text-anchor="middle">13</text><text x="0" y="860.2" font-size="16.8" text-anchor="middle">4%</text></g>
<rect x="49.7" y="762.6" width="38.9" height="48.0" fill="#fff"/><g transform="translate(69.1,0) scale(0.86,1)" fill="#000" stroke="#000" stroke-width="0.35"><text x="0" y="782.6" font-size="16.8" text-anchor="middle">14</text><text x="0" y="802.6" font-size="16.8" text-anchor="middle">4%</text></g>
<rect x="73.3" y="739.0" width="38.9" height="48.0" fill="#fff"/><g transform="translate(92.7,0) scale(0.86,1)" fill="#000" stroke="#000" stroke-width="0.35"><text x="0" y="759.0" font-size="16.8" text-anchor="middle">15</text><text x="0" y="779.0" font-size="16.8" text-anchor="middle">4%</text></g>
<rect x="99.3" y="720.5" width="38.9" height="48.0" fill="#fff"/><g transform="translate(118.7,0) scale(0.86,1)" fill="#000" stroke="#000" stroke-width="0.35"><text x="0" y="740.5" font-size="16.8" text-anchor="middle">16</text><text x="0" y="760.5" font-size="16.8" text-anchor="middle">3%</text></g>
<rect x="132.4" y="703.0" width="38.9" height="48.0" fill="#fff"/><g transform="translate(151.8,0) scale(0.86,1)" fill="#000" stroke="#000" stroke-width="0.35"><text x="0" y="723.0" font-size="16.8" text-anchor="middle">17</text><text x="0" y="743.0" font-size="16.8" text-anchor="middle">4%</text></g>
<rect x="166.5" y="685.4" width="38.9" height="48.0" fill="#fff"/><g transform="translate(185.9,0) scale(0.86,1)" fill="#000" stroke="#000" stroke-width="0.35"><text x="0" y="705.4" font-size="16.8" text-anchor="middle">18</text><text x="0" y="725.4" font-size="16.8" text-anchor="middle">3%</text></g>
<rect x="196.0" y="677.9" width="38.9" height="48.0" fill="#fff"/><g transform="translate(215.4,0) scale(0.86,1)" fill="#000" stroke="#000" stroke-width="0.35"><text x="0" y="697.9" font-size="16.8" text-anchor="middle">19</text><text x="0" y="717.9" font-size="16.8" text-anchor="middle">3%</text></g>
<rect x="234.6" y="675.4" width="38.9" height="48.0" fill="#fff"/><g transform="translate(254.0,0) scale(0.86,1)" fill="#f00" stroke="#f00" stroke-width="0.35"><text x="0" y="695.4" font-size="16.8" text-anchor="middle">x</text><text x="0" y="715.4" font-size="16.8" text-anchor="middle">4%</text></g>
<rect x="269.2" y="675.4" width="38.9" height="48.0" fill="#fff"/><g transform="translate(288.6,0) scale(0.86,1)" fill="#000" stroke="#000" stroke-width="0.35"><text x="0" y="695.4" font-size="16.8" text-anchor="middle">y</text><text x="0" y="715.4" font-size="16.8" text-anchor="middle">0%</text></g>
<polygon points="302.1,1444.0 300.8,1400.1 300.7,1422.4 301.9,1468.7" fill="#1e3147" stroke="#fff" stroke-width="1.4" stroke-linejoin="round"/>
<polygon points="302.1,1444.0 339.2,1402.8 338.4,1425.2 301.9,1468.7" fill="#3a5f8b" stroke="#fff" stroke-width="1.4" stroke-linejoin="round"/>
<polygon points="280.9,1444.2 236.2,1404.2 237.0,1426.7 281.1,1468.9" fill="#600000" stroke="#fff" stroke-width="1.4" stroke-linejoin="round"/>
<polygon points="280.9,1444.2 282.4,1400.2 282.5,1422.5 281.1,1468.9" fill="#c60000" stroke="#fff" stroke-width="1.4" stroke-linejoin="round"/>
<polygon points="266.8,1446.5 210.8,1408.7 212.1,1431.5 267.2,1471.4" fill="#162434" stroke="#fff" stroke-width="1.4" stroke-linejoin="round"/>
<polygon points="321.5,1447.4 397.7,1415.5 396.1,1438.6 321.0,1472.3" fill="#74302e" stroke="#fff" stroke-width="1.4" stroke-linejoin="round"/>
<polygon points="261.1,1448.1 193.4,1413.2 195.0,1436.3 261.6,1473.1" fill="#5e4028" stroke="#fff" stroke-width="1.4" stroke-linejoin="round"/>
<polygon points="252.1,1451.7 157.8,1427.2 160.0,1451.0 252.9,1476.9" fill="#2a474f" stroke="#fff" stroke-width="1.4" stroke-linejoin="round"/>
<polygon points="334.9,1452.8 431.0,1429.0 428.7,1452.9 334.1,1478.0" fill="#4f602d" stroke="#fff" stroke-width="1.4" stroke-linejoin="round"/>
<polygon points="244.2,1456.8 136.0,1440.1 138.7,1464.7 245.1,1482.2" fill="#3a3144" stroke="#fff" stroke-width="1.4" stroke-linejoin="round"/>
<polygon points="343.3,1459.3 462.4,1452.5 459.4,1477.7 342.3,1484.8" fill="#322740" stroke="#fff" stroke-width="1.4" stroke-linejoin="round"/>
<polygon points="239.8,1462.0 117.5,1458.3 120.7,1483.8 240.7,1487.7" fill="#424c2e" stroke="#fff" stroke-width="1.4" stroke-linejoin="round"/>
<polygon points="237.9,1467.6 109.0,1475.1 112.5,1501.5 238.9,1493.5" fill="#512d2d" stroke="#fff" stroke-width="1.4" stroke-linejoin="round"/>
<polygon points="347.1,1469.1 476.7,1488.0 473.1,1515.0 346.1,1495.2" fill="#1c414b" stroke="#fff" stroke-width="1.4" stroke-linejoin="round"/>
<polygon points="477.0,1485.9 476.7,1488.0 473.1,1515.0 473.4,1512.8" fill="#1c414b" stroke="#fff" stroke-width="1.4" stroke-linejoin="round"/>
<polygon points="238.9,1473.3 109.1,1497.3 112.8,1524.8 239.9,1499.5" fill="#36485f" stroke="#fff" stroke-width="1.4" stroke-linejoin="round"/>
<polygon points="109.1,1497.3 108.5,1495.3 107.9,1493.3 107.6,1491.2 111.2,1518.4 111.6,1520.5 112.1,1522.7 112.8,1524.8" fill="#5e7fa7" stroke="#fff" stroke-width="1.4" stroke-linejoin="round"/>
<polygon points="343.3,1477.7 468.1,1513.3 464.4,1541.5 342.3,1504.2" fill="#5d391a" stroke="#fff" stroke-width="1.4" stroke-linejoin="round"/>
<polygon points="475.9,1497.4 475.4,1499.5 474.8,1501.5 474.0,1503.5 473.1,1505.5 472.1,1507.4 470.9,1509.4 469.6,1511.4 468.1,1513.3 464.4,1541.5 465.9,1539.5 467.2,1537.4 468.4,1535.4 469.4,1533.3 470.3,1531.2 471.1,1529.1 471.7,1527.0 472.2,1524.9" fill="#5d391a" stroke="#fff" stroke-width="1.4" stroke-linejoin="round"/>
<polygon points="473.1,1505.5 470.4,1531.1 471.3,1528.3" fill="#fff" stroke="#fff" stroke-width="1.4" stroke-linejoin="round"/>
<polygon points="242.8,1478.8 118.8,1516.0 122.4,1544.3 243.7,1505.4" fill="#632f04" stroke="#fff" stroke-width="1.4" stroke-linejoin="round"/>
<polygon points="118.8,1516.0 117.1,1514.0 115.6,1511.9 114.3,1509.9 113.1,1507.8 112.1,1505.7 111.2,1503.6 114.9,1531.4 115.8,1533.6 116.8,1535.8 118.0,1537.9 119.3,1540.1 120.8,1542.2 122.4,1544.3" fill="#934606" stroke="#fff" stroke-width="1.4" stroke-linejoin="round"/>
<polygon points="114.3,1509.9 117.0,1536.2 116.0,1534.0" fill="#fff" stroke="#fff" stroke-width="1.4" stroke-linejoin="round"/>
<polygon points="333.0,1485.2 422.0,1547.3 419.0,1577.0 332.2,1512.1" fill="#101d2c" stroke="#fff" stroke-width="1.4" stroke-linejoin="round"/>
<polygon points="459.5,1522.4 457.7,1524.6 455.6,1526.7 453.4,1528.8 451.0,1530.9 448.5,1532.9 445.7,1534.9 442.8,1536.8 439.8,1538.7 436.5,1540.5 433.1,1542.3 429.5,1544.0 425.8,1545.7 422.0,1547.3 419.0,1577.0 422.8,1575.3 426.5,1573.6 430.0,1571.8 433.3,1570.0 436.5,1568.0 439.5,1566.1 442.4,1564.0 445.1,1562.0 447.6,1559.9 449.9,1557.7 452.1,1555.5 454.1,1553.3 456.0,1551.0" fill="#101d2c" stroke="#fff" stroke-width="1.4" stroke-linejoin="round"/>
<polygon points="444.3,1535.8 445.6,1561.6 450.8,1556.8" fill="#fff" stroke="#fff" stroke-width="1.4" stroke-linejoin="round"/>
<polygon points="255.9,1487.0 188.7,1556.5 191.1,1586.6 256.6,1513.9" fill="#1c4d5b" stroke="#fff" stroke-width="1.4" stroke-linejoin="round"/>
<polygon points="188.7,1556.5 184.1,1555.3 179.5,1554.0 175.1,1552.5 170.8,1551.1 166.7,1549.5 162.7,1547.8 158.9,1546.1 155.2,1544.3 151.7,1542.5 148.4,1540.6 145.3,1538.6 142.3,1536.6 139.5,1534.5 136.9,1532.4 134.5,1530.3 132.3,1528.1 130.2,1525.9 133.7,1554.7 135.8,1557.0 138.0,1559.3 140.3,1561.5 142.9,1563.7 145.6,1565.9 148.5,1568.0 151.6,1570.0 154.9,1572.0 158.3,1573.9 161.9,1575.8 165.6,1577.6 169.5,1579.3 173.6,1580.9 177.8,1582.5 182.1,1584.0 186.5,1585.3 191.1,1586.6" fill="#1c4c59" stroke="#fff" stroke-width="1.4" stroke-linejoin="round"/>
<polygon points="153.5,1543.4 149.4,1568.6 141.3,1562.4" fill="#fff" stroke="#fff" stroke-width="1.4" stroke-linejoin="round"/>
<polygon points="315.6,1491.1 360.0,1566.4 358.4,1597.0 315.1,1518.2" fill="#2d100f" stroke="#fff" stroke-width="1.4" stroke-linejoin="round"/>
<polygon points="403.3,1555.2 399.4,1556.6 395.4,1558.0 391.4,1559.4 387.2,1560.6 382.9,1561.8 378.5,1562.9 374.0,1563.9 369.4,1564.8 364.7,1565.7 360.0,1566.4 358.4,1597.0 363.0,1596.2 367.6,1595.3 372.0,1594.3 376.4,1593.2 380.8,1592.1 385.0,1590.9 389.1,1589.6 393.1,1588.2 397.0,1586.7 400.7,1585.2" fill="#2d100f" stroke="#fff" stroke-width="1.4" stroke-linejoin="round"/>
<polygon points="382.9,1561.8 386.2,1590.5 393.1,1588.2" fill="#fff" stroke="#fff" stroke-width="1.4" stroke-linejoin="round"/>
<polygon points="278.8,1492.6 263.3,1571.3 264.0,1602.0 279.1,1519.8" fill="#3b2d4c" stroke="#fff" stroke-width="1.4" stroke-linejoin="round"/>
<polygon points="263.3,1571.3 258.2,1571.0 253.1,1570.7 248.1,1570.2 243.1,1569.6 238.2,1569.0 233.3,1568.2 228.6,1567.4 223.8,1566.5 219.2,1565.5 214.7,1564.4 216.5,1594.8 220.9,1595.9 225.5,1597.0 230.1,1597.9 234.7,1598.8 239.5,1599.6 244.3,1600.3 249.2,1600.8 254.1,1601.3 259.0,1601.7 264.0,1602.0" fill="#2c2239" stroke="#fff" stroke-width="1.4" stroke-linejoin="round"/>
<polygon points="238.2,1569.0 233.3,1598.5 225.5,1597.0" fill="#fff" stroke="#fff" stroke-width="1.4" stroke-linejoin="round"/>
<polygon points="338.7,1569.6 333.6,1570.4 328.4,1571.0 323.2,1571.5 317.9,1571.9 312.6,1572.2 307.2,1572.5 301.9,1572.6 296.5,1572.6 291.2,1572.5 285.8,1572.3 286.0,1603.1 291.2,1603.3 296.4,1603.4 301.7,1603.3 306.9,1603.2 312.1,1603.0 317.3,1602.7 322.4,1602.2 327.5,1601.7 332.6,1601.0 337.6,1600.3" fill="#2c3616" stroke="#fff" stroke-width="1.4" stroke-linejoin="round"/>
<polygon points="312.6,1572.2 318.8,1602.5 327.5,1601.7" fill="#fff" stroke="#fff" stroke-width="1.4" stroke-linejoin="round"/>
<polygon points="302.1,1444.0 300.8,1400.1 304.4,1400.1 307.9,1400.2 311.4,1400.3 314.9,1400.4 318.4,1400.6 321.9,1400.9 325.4,1401.2 328.9,1401.5 332.3,1401.9 335.8,1402.3 339.2,1402.8" fill="#4F81BD" stroke="#fff" stroke-width="1.4" stroke-linejoin="round"/>
<polygon points="321.5,1447.4 356.6,1405.4 359.9,1405.9 363.3,1406.5 366.6,1407.1 369.9,1407.8 373.2,1408.4 376.4,1409.2 379.6,1410.0 382.8,1410.8 385.9,1411.6 388.9,1412.5 391.9,1413.5 394.8,1414.5 397.7,1415.5" fill="#C0504D" stroke="#fff" stroke-width="1.4" stroke-linejoin="round"/>
<polygon points="334.9,1452.8 411.0,1419.9 413.7,1420.9 416.3,1422.0 418.9,1423.1 421.5,1424.2 423.9,1425.3 426.3,1426.5 428.7,1427.7 431.0,1429.0" fill="#9BBB59" stroke="#fff" stroke-width="1.4" stroke-linejoin="round"/>
<polygon points="343.3,1459.3 440.4,1434.6 442.9,1436.1 445.3,1437.6 447.6,1439.1 449.9,1440.7 452.0,1442.3 454.0,1443.9 455.9,1445.6 457.7,1447.3 459.4,1449.0 461.0,1450.8 462.4,1452.5" fill="#8064A2" stroke="#fff" stroke-width="1.4" stroke-linejoin="round"/>
<polygon points="347.1,1469.1 469.4,1462.0 470.8,1463.9 472.1,1465.8 473.2,1467.8 474.2,1469.7 475.0,1471.7 475.8,1473.7 476.4,1475.7 476.8,1477.7 477.1,1479.8 477.2,1481.8 477.2,1483.9 477.0,1485.9 476.7,1488.0" fill="#4BACC6" stroke="#fff" stroke-width="1.4" stroke-linejoin="round"/>
<polygon points="343.3,1477.7 475.9,1497.4 475.4,1499.5 474.8,1501.5 474.0,1503.5 473.1,1505.5 472.1,1507.4 470.9,1509.4 469.6,1511.4 468.1,1513.3" fill="#F79646" stroke="#fff" stroke-width="1.4" stroke-linejoin="round"/>
<polygon points="333.0,1485.2 459.5,1522.4 457.7,1524.6 455.6,1526.7 453.4,1528.8 451.0,1530.9 448.5,1532.9 445.7,1534.9 442.8,1536.8 439.8,1538.7 436.5,1540.5 433.1,1542.3 429.5,1544.0 425.8,1545.7 422.0,1547.3" fill="#2C4D75" stroke="#fff" stroke-width="1.4" stroke-linejoin="round"/>
<polygon points="315.6,1491.1 403.3,1555.2 399.4,1556.6 395.4,1558.0 391.4,1559.4 387.2,1560.6 382.9,1561.8 378.5,1562.9 374.0,1563.9 369.4,1564.8 364.7,1565.7 360.0,1566.4" fill="#772C2A" stroke="#fff" stroke-width="1.4" stroke-linejoin="round"/>
<polygon points="297.5,1493.3 338.7,1569.6 333.6,1570.4 328.4,1571.0 323.2,1571.5 317.9,1571.9 312.6,1572.2 307.2,1572.5 301.9,1572.6 296.5,1572.6 291.2,1572.5 285.8,1572.3" fill="#5F7530" stroke="#fff" stroke-width="1.4" stroke-linejoin="round"/>
<polygon points="278.8,1492.6 263.3,1571.3 258.2,1571.0 253.1,1570.7 248.1,1570.2 243.1,1569.6 238.2,1569.0 233.3,1568.2 228.6,1567.4 223.8,1566.5 219.2,1565.5 214.7,1564.4" fill="#4D3B62" stroke="#fff" stroke-width="1.4" stroke-linejoin="round"/>
<polygon points="255.9,1487.0 188.7,1556.5 184.1,1555.3 179.5,1554.0 175.1,1552.5 170.8,1551.1 166.7,1549.5 162.7,1547.8 158.9,1546.1 155.2,1544.3 151.7,1542.5 148.4,1540.6 145.3,1538.6 142.3,1536.6 139.5,1534.5 136.9,1532.4 134.5,1530.3 132.3,1528.1 130.2,1525.9" fill="#276A7C" stroke="#fff" stroke-width="1.4" stroke-linejoin="round"/>
<polygon points="242.8,1478.8 118.8,1516.0 117.1,1514.0 115.6,1511.9 114.3,1509.9 113.1,1507.8 112.1,1505.7 111.2,1503.6" fill="#B65708" stroke="#fff" stroke-width="1.4" stroke-linejoin="round"/>
<polygon points="238.9,1473.3 109.1,1497.3 108.5,1495.3 107.9,1493.3 107.6,1491.2 107.4,1489.2 107.3,1487.1 107.4,1485.1 107.6,1483.1 107.9,1481.1" fill="#729ACA" stroke="#fff" stroke-width="1.4" stroke-linejoin="round"/>
<polygon points="237.9,1467.6 109.0,1475.1 109.5,1473.2 110.1,1471.3 110.8,1469.4 111.7,1467.5 112.7,1465.6 113.8,1463.7" fill="#CD7371" stroke="#fff" stroke-width="1.4" stroke-linejoin="round"/>
<polygon points="239.8,1462.0 117.5,1458.3 118.7,1456.5 120.1,1454.8 121.5,1453.0 123.0,1451.3 124.7,1449.7 126.4,1448.0 128.3,1446.4 130.2,1444.8" fill="#AFC97A" stroke="#fff" stroke-width="1.4" stroke-linejoin="round"/>
<polygon points="244.2,1456.8 136.0,1440.1 138.0,1438.6 140.0,1437.2 142.2,1435.7 144.4,1434.3 146.8,1432.9 149.2,1431.6" fill="#9983B5" stroke="#fff" stroke-width="1.4" stroke-linejoin="round"/>
<polygon points="252.1,1451.7 157.8,1427.2 160.2,1425.9 162.7,1424.7 165.2,1423.5 167.9,1422.3 170.5,1421.2 173.3,1420.1 176.1,1419.0 178.9,1418.0 181.8,1417.1 184.8,1416.1" fill="#6FBDD1" stroke="#fff" stroke-width="1.4" stroke-linejoin="round"/>
<polygon points="261.1,1448.1 193.4,1413.2 196.4,1412.4 199.4,1411.5 202.4,1410.7 205.5,1410.0" fill="#F9AB6B" stroke="#fff" stroke-width="1.4" stroke-linejoin="round"/>
<polygon points="266.8,1446.5 210.8,1408.7 213.9,1408.0 217.1,1407.3 220.2,1406.7 223.4,1406.1" fill="#3A5F8B" stroke="#fff" stroke-width="1.4" stroke-linejoin="round"/>
<polygon points="280.9,1444.2 236.2,1404.2 239.3,1403.7 242.5,1403.2 245.8,1402.7 249.0,1402.3 252.3,1401.9 255.6,1401.5 258.9,1401.2 262.3,1401.0 265.6,1400.7 268.9,1400.6 272.3,1400.4 275.7,1400.3 279.0,1400.2 282.4,1400.2" fill="#FF0000" stroke="#fff" stroke-width="1.4" stroke-linejoin="round"/>
<rect x="322.8" y="1349.1" width="38.9" height="48.1" fill="#fff"/><g transform="translate(342.2,0) scale(0.86,1)" fill="#000" stroke="#000" stroke-width="0.35"><text x="0" y="1369.1" font-size="16.8" text-anchor="middle">1</text><text x="0" y="1389.2" font-size="16.8" text-anchor="middle">6%</text></g>
<rect x="382.9" y="1366.7" width="38.9" height="48.0" fill="#fff"/><g transform="translate(402.3,0) scale(0.86,1)" fill="#000" stroke="#000" stroke-width="0.35"><text x="0" y="1386.7" font-size="16.8" text-anchor="middle">2</text><text x="0" y="1406.7" font-size="16.8" text-anchor="middle">7%</text></g>
<rect x="426.5" y="1390.7" width="38.9" height="48.1" fill="#fff"/><g transform="translate(445.9,0) scale(0.86,1)" fill="#000" stroke="#000" stroke-width="0.35"><text x="0" y="1410.7" font-size="16.8" text-anchor="middle">3</text><text x="0" y="1430.8" font-size="16.8" text-anchor="middle">4%</text></g>
<rect x="460.1" y="1416.8" width="38.9" height="48.0" fill="#fff"/><g transform="translate(479.5,0) scale(0.86,1)" fill="#000" stroke="#000" stroke-width="0.35"><text x="0" y="1436.8" font-size="16.8" text-anchor="middle">4</text><text x="0" y="1456.8" font-size="16.8" text-anchor="middle">6%</text></g>
<rect x="479.1" y="1480.9" width="38.9" height="48.1" fill="#fff"/><g transform="translate(498.5,0) scale(0.86,1)" fill="#000" stroke="#000" stroke-width="0.35"><text x="0" y="1500.9" font-size="16.8" text-anchor="middle">5</text><text x="0" y="1521.0" font-size="16.8" text-anchor="middle">7%</text></g>
<rect x="476.6" y="1517.0" width="38.9" height="48.0" fill="#fff"/><g transform="translate(496.0,0) scale(0.86,1)" fill="#000" stroke="#000" stroke-width="0.35"><text x="0" y="1537.0" font-size="16.8" text-anchor="middle">6</text><text x="0" y="1557.0" font-size="16.8" text-anchor="middle">4%</text></g>
<rect x="443.0" y="1558.5" width="38.9" height="48.1" fill="#fff"/><g transform="translate(462.4,0) scale(0.86,1)" fill="#000" stroke="#000" stroke-width="0.35"><text x="0" y="1578.5" font-size="16.8" text-anchor="middle">7</text><text x="0" y="1598.6" font-size="16.8" text-anchor="middle">7%</text></g>
<rect x="378.9" y="1599.6" width="38.9" height="48.1" fill="#fff"/><g transform="translate(398.3,0) scale(0.86,1)" fill="#000" stroke="#000" stroke-width="0.35"><text x="0" y="1619.6" font-size="16.8" text-anchor="middle">8</text><text x="0" y="1639.7" font-size="16.8" text-anchor="middle">5%</text></g>
<rect x="295.2" y="1608.6" width="38.9" height="49.1" fill="#fff"/><g transform="translate(314.6,0) scale(0.86,1)" fill="#000" stroke="#000" stroke-width="0.35"><text x="0" y="1628.6" font-size="16.8" text-anchor="middle">9</text><text x="0" y="1649.7" font-size="16.8" text-anchor="middle">6%</text></g>
<rect x="192.5" y="1604.6" width="38.9" height="48.1" fill="#fff"/><g transform="translate(211.9,0) scale(0.86,1)" fill="#000" stroke="#000" stroke-width="0.35"><text x="0" y="1624.6" font-size="16.8" text-anchor="middle">10</text><text x="0" y="1644.7" font-size="16.8" text-anchor="middle">5%</text></g>
<rect x="114.9" y="1566.0" width="38.9" height="48.0" fill="#fff"/><g transform="translate(134.3,0) scale(0.86,1)" fill="#000" stroke="#000" stroke-width="0.35"><text x="0" y="1586.0" font-size="16.8" text-anchor="middle">11</text><text x="0" y="1606.0" font-size="16.8" text-anchor="middle">9%</text></g>
<rect x="79.3" y="1532.0" width="38.9" height="48.0" fill="#fff"/><g transform="translate(98.7,0) scale(0.86,1)" fill="#000" stroke="#000" stroke-width="0.35"><text x="0" y="1552.0" font-size="16.8" text-anchor="middle">12</text><text x="0" y="1572.0" font-size="16.8" text-anchor="middle">3%</text></g>
<rect x="69.3" y="1499.5" width="38.9" height="48.0" fill="#fff"/><g transform="translate(88.7,0) scale(0.86,1)" fill="#000" stroke="#000" stroke-width="0.35"><text x="0" y="1519.5" font-size="16.8" text-anchor="middle">13</text><text x="0" y="1539.5" font-size="16.8" text-anchor="middle">4%</text></g>
<rect x="67.3" y="1465.9" width="38.9" height="48.0" fill="#fff"/><g transform="translate(86.7,0) scale(0.86,1)" fill="#000" stroke="#000" stroke-width="0.35"><text x="0" y="1485.9" font-size="16.8" text-anchor="middle">14</text><text x="0" y="1505.9" font-size="16.8" text-anchor="middle">3%</text></g>
<rect x="77.3" y="1427.8" width="38.9" height="48.0" fill="#fff"/><g transform="translate(96.7,0) scale(0.86,1)" fill="#000" stroke="#000" stroke-width="0.35"><text x="0" y="1447.8" font-size="16.8" text-anchor="middle">15</text><text x="0" y="1467.8" font-size="16.8" text-anchor="middle">4%</text></g>
<rect x="94.3" y="1388.2" width="38.9" height="48.0" fill="#fff"/><g transform="translate(113.7,0) scale(0.86,1)" fill="#000" stroke="#000" stroke-width="0.35"><text x="0" y="1408.2" font-size="16.8" text-anchor="middle">16</text><text x="0" y="1428.2" font-size="16.8" text-anchor="middle">3%</text></g>
<rect x="123.4" y="1370.7" width="38.9" height="49.0" fill="#fff"/><g transform="translate(142.8,0) scale(0.86,1)" fill="#000" stroke="#000" stroke-width="0.35"><text x="0" y="1390.7" font-size="16.8" text-anchor="middle">17</text><text x="0" y="1411.7" font-size="16.8" text-anchor="middle">5%</text></g>
<rect x="157.5" y="1361.7" width="38.9" height="48.0" fill="#fff"/><g transform="translate(176.9,0) scale(0.86,1)" fill="#000" stroke="#000" stroke-width="0.35"><text x="0" y="1381.7" font-size="16.8" text-anchor="middle">18</text><text x="0" y="1401.7" font-size="16.8" text-anchor="middle">2%</text></g>
<rect x="197.0" y="1350.6" width="38.9" height="48.1" fill="#fff"/><g transform="translate(216.4,0) scale(0.86,1)" fill="#000" stroke="#000" stroke-width="0.35"><text x="0" y="1370.6" font-size="16.8" text-anchor="middle">19</text><text x="0" y="1390.7" font-size="16.8" text-anchor="middle">2%</text></g>
<rect x="237.6" y="1349.1" width="38.9" height="47.1" fill="#fff"/><g transform="translate(257.0,0) scale(0.86,1)" fill="#f00" stroke="#f00" stroke-width="0.35"><text x="0" y="1369.1" font-size="16.8" text-anchor="middle">x</text><text x="0" y="1388.2" font-size="16.8" text-anchor="middle">7%</text></g>
<rect x="275.2" y="1350.1" width="38.9" height="48.1" fill="#fff"/><g transform="translate(294.6,0) scale(0.86,1)" fill="#000" stroke="#000" stroke-width="0.35"><text x="0" y="1370.1" font-size="16.8" text-anchor="middle">y</text><text x="0" y="1390.2" font-size="16.8" text-anchor="middle">0%</text></g>
<polygon points="291.7,2044.2 278.6,2000.6 278.9,2023.0 291.8,2069.1" fill="#600000" stroke="#fff" stroke-width="1.4" stroke-linejoin="round"/>
<polygon points="291.7,2044.2 292.2,2000.3 292.2,2022.6 291.8,2069.1" fill="#c60000" stroke="#fff" stroke-width="1.4" stroke-linejoin="round"/>
<polygon points="285.1,2044.6 259.4,2001.9 259.9,2024.3 285.2,2069.5" fill="#162434" stroke="#fff" stroke-width="1.4" stroke-linejoin="round"/>
<polygon points="306.3,2044.7 304.9,2000.6 304.7,2023.0 306.1,2069.6" fill="#1e3147" stroke="#fff" stroke-width="1.4" stroke-linejoin="round"/>
<polygon points="306.3,2044.7 349.5,2004.3 348.7,2026.9 306.1,2069.6" fill="#395d88" stroke="#fff" stroke-width="1.4" stroke-linejoin="round"/>
<polygon points="278.5,2045.4 240.4,2004.1 241.3,2026.7 278.8,2070.2" fill="#5e4028" stroke="#fff" stroke-width="1.4" stroke-linejoin="round"/>
<polygon points="267.7,2047.5 199.4,2012.8 200.9,2035.9 268.2,2072.5" fill="#2a474f" stroke="#fff" stroke-width="1.4" stroke-linejoin="round"/>
<polygon points="329.5,2049.7 421.1,2023.9 419.0,2047.6 328.9,2074.8" fill="#672a29" stroke="#fff" stroke-width="1.4" stroke-linejoin="round"/>
<polygon points="255.7,2051.8 165.6,2024.9 167.8,2048.6 256.4,2077.0" fill="#3a3144" stroke="#fff" stroke-width="1.4" stroke-linejoin="round"/>
<polygon points="247.4,2056.9 138.6,2040.4 141.3,2065.0 248.2,2082.4" fill="#424c2e" stroke="#fff" stroke-width="1.4" stroke-linejoin="round"/>
<polygon points="343.2,2057.2 452.7,2041.2 450.0,2065.8 342.4,2082.7" fill="#455327" stroke="#fff" stroke-width="1.4" stroke-linejoin="round"/>
<polygon points="242.1,2062.8 119.2,2059.3 122.3,2084.9 243.1,2088.6" fill="#4d2b2a" stroke="#fff" stroke-width="1.4" stroke-linejoin="round"/>
<polygon points="348.6,2063.6 473.8,2063.6 470.5,2089.5 347.6,2089.5" fill="#30263d" stroke="#fff" stroke-width="1.4" stroke-linejoin="round"/>
<polygon points="240.2,2069.2 109.9,2081.1 113.4,2107.9 241.3,2095.4" fill="#2f3f53" stroke="#fff" stroke-width="1.4" stroke-linejoin="round"/>
<polygon points="349.7,2071.4 480.4,2090.5 476.8,2117.7 348.7,2097.7" fill="#1c414b" stroke="#fff" stroke-width="1.4" stroke-linejoin="round"/>
<polygon points="480.7,2088.6 480.4,2090.5 476.8,2117.7 477.1,2115.7" fill="#1c414b" stroke="#fff" stroke-width="1.4" stroke-linejoin="round"/>
<polygon points="241.7,2075.0 111.3,2099.7 115.0,2127.3 242.7,2101.4" fill="#562903" stroke="#fff" stroke-width="1.4" stroke-linejoin="round"/>
<polygon points="111.3,2099.7 110.6,2097.6 110.0,2095.5 109.6,2093.5 113.3,2120.8 113.7,2123.0 114.3,2125.1 115.0,2127.3" fill="#964806" stroke="#fff" stroke-width="1.4" stroke-linejoin="round"/>
<polygon points="343.9,2080.6 457.5,2128.2 454.0,2157.1 343.0,2107.3" fill="#5d391a" stroke="#fff" stroke-width="1.4" stroke-linejoin="round"/>
<polygon points="477.7,2100.7 477.2,2102.9 476.5,2105.1 475.6,2107.3 474.6,2109.5 473.4,2111.7 472.0,2113.8 470.5,2116.0 468.8,2118.1 466.9,2120.2 464.8,2122.2 462.5,2124.3 460.1,2126.2 457.5,2128.2 454.0,2157.1 456.6,2155.1 459.0,2153.0 461.2,2150.9 463.2,2148.8 465.1,2146.6 466.8,2144.4 468.3,2142.1 469.7,2139.9 470.9,2137.6 471.9,2135.3 472.8,2133.0 473.5,2130.7 474.0,2128.4" fill="#5d391a" stroke="#fff" stroke-width="1.4" stroke-linejoin="round"/>
<polygon points="471.3,2114.9 470.0,2139.4 472.3,2134.4" fill="#fff" stroke="#fff" stroke-width="1.4" stroke-linejoin="round"/>
<polygon points="250.0,2083.4 151.4,2140.8 154.6,2170.3 250.8,2110.3" fill="#194652" stroke="#fff" stroke-width="1.4" stroke-linejoin="round"/>
<polygon points="151.4,2140.8 148.0,2139.1 144.8,2137.4 141.8,2135.6 138.9,2133.8 136.2,2131.9 133.6,2130.0 131.2,2128.1 128.9,2126.1 126.8,2124.0 124.9,2122.0 123.2,2119.9 121.6,2117.8 120.2,2115.7 118.9,2113.6 117.9,2111.4 116.9,2109.3 120.6,2137.4 121.5,2139.6 122.6,2141.9 123.9,2144.1 125.3,2146.3 126.8,2148.5 128.6,2150.7 130.4,2152.8 132.5,2154.9 134.7,2157.0 137.1,2159.1 139.6,2161.1 142.3,2163.0 145.1,2164.9 148.1,2166.8 151.3,2168.6 154.6,2170.3" fill="#1e5260" stroke="#fff" stroke-width="1.4" stroke-linejoin="round"/>
<polygon points="128.9,2126.1 128.4,2150.5 124.1,2144.5" fill="#fff" stroke="#fff" stroke-width="1.4" stroke-linejoin="round"/>
<polygon points="264.7,2090.0 190.3,2158.6 192.7,2188.9 265.3,2117.2" fill="#372a46" stroke="#fff" stroke-width="1.4" stroke-linejoin="round"/>
<polygon points="190.3,2158.6 186.0,2157.3 181.8,2155.9 177.7,2154.4 173.8,2152.9 170.0,2151.3 166.4,2149.6 169.3,2179.5 172.9,2181.2 176.6,2182.9 180.4,2184.5 184.4,2186.1 188.5,2187.5 192.7,2188.9" fill="#342842" stroke="#fff" stroke-width="1.4" stroke-linejoin="round"/>
<polygon points="177.7,2154.4 177.4,2183.3 173.6,2181.6" fill="#fff" stroke="#fff" stroke-width="1.4" stroke-linejoin="round"/>
<polygon points="325.3,2090.1 374.7,2164.4 372.9,2194.9 324.7,2117.2" fill="#101d2c" stroke="#fff" stroke-width="1.4" stroke-linejoin="round"/>
<polygon points="439.7,2140.2 436.8,2142.2 433.7,2144.2 430.5,2146.1 427.0,2147.9 423.4,2149.7 419.7,2151.4 415.8,2153.1 411.7,2154.7 407.6,2156.2 403.2,2157.6 398.8,2159.0 394.2,2160.2 389.5,2161.4 384.7,2162.5 379.8,2163.5 374.7,2164.4 372.9,2194.9 377.8,2194.0 382.6,2192.9 387.3,2191.8 391.9,2190.6 396.4,2189.3 400.7,2187.9 405.0,2186.4 409.1,2184.8 413.0,2183.1 416.9,2181.4 420.5,2179.6 424.1,2177.8 427.4,2175.8 430.6,2173.8 433.7,2171.8 436.5,2169.7" fill="#101d2c" stroke="#fff" stroke-width="1.4" stroke-linejoin="round"/>
<polygon points="411.7,2154.7 417.2,2181.3 426.8,2176.2" fill="#fff" stroke="#fff" stroke-width="1.4" stroke-linejoin="round"/>
<polygon points="280.2,2093.3 266.9,2172.3 267.6,2203.2 280.5,2120.6" fill="#495b25" stroke="#fff" stroke-width="1.4" stroke-linejoin="round"/>
<polygon points="266.9,2172.3 261.7,2172.1 256.5,2171.7 251.3,2171.3 246.2,2170.8 241.1,2170.1 236.1,2169.4 231.1,2168.6 226.3,2167.7 221.5,2166.7 216.8,2165.6 212.2,2164.4 207.8,2163.1 209.8,2193.6 214.2,2194.9 218.7,2196.1 223.2,2197.3 227.9,2198.3 232.6,2199.3 237.5,2200.1 242.4,2200.9 247.3,2201.5 252.3,2202.1 257.4,2202.6 262.5,2202.9 267.6,2203.2" fill="#37441c" stroke="#fff" stroke-width="1.4" stroke-linejoin="round"/>
<polygon points="236.1,2169.4 230.0,2198.7 220.5,2196.6" fill="#fff" stroke="#fff" stroke-width="1.4" stroke-linejoin="round"/>
<polygon points="346.8,2170.0 341.5,2170.9 336.2,2171.6 330.9,2172.2 325.5,2172.7 320.0,2173.1 314.5,2173.4 309.0,2173.6 303.4,2173.7 297.9,2173.6 292.4,2173.5 292.4,2204.3 297.8,2204.5 303.2,2204.5 308.6,2204.5 314.0,2204.3 319.4,2204.0 324.7,2203.6 330.0,2203.0 335.3,2202.4 340.4,2201.6 345.5,2200.8" fill="#371413" stroke="#fff" stroke-width="1.4" stroke-linejoin="round"/>
<polygon points="320.0,2173.1 326.3,2203.4 335.3,2202.4" fill="#fff" stroke="#fff" stroke-width="1.4" stroke-linejoin="round"/>
<polygon points="306.3,2044.7 304.9,2000.6 308.4,2000.6 311.9,2000.7 315.3,2000.8 318.8,2001.0 322.3,2001.2 325.8,2001.4 329.2,2001.7 332.7,2002.0 336.1,2002.4 339.5,2002.8 342.9,2003.3 346.2,2003.8 349.5,2004.3" fill="#4F81BD" stroke="#fff" stroke-width="1.4" stroke-linejoin="round"/>
<polygon points="329.5,2049.7 370.6,2008.2 373.9,2008.8 377.2,2009.5 380.4,2010.1 383.6,2010.8 386.8,2011.6 390.0,2012.4 393.1,2013.3 396.1,2014.1 399.1,2015.1 402.1,2016.0 405.0,2017.0 407.8,2018.1 410.6,2019.2 413.3,2020.3 416.0,2021.5 418.6,2022.7 421.1,2023.9" fill="#C0504D" stroke="#fff" stroke-width="1.4" stroke-linejoin="round"/>
<polygon points="343.2,2057.2 435.5,2030.3 437.9,2031.5 440.3,2032.8 442.5,2034.1 444.7,2035.5 446.8,2036.9 448.9,2038.3 450.8,2039.7 452.7,2041.2" fill="#9BBB59" stroke="#fff" stroke-width="1.4" stroke-linejoin="round"/>
<polygon points="348.6,2063.6 459.7,2047.0 461.6,2048.6 463.3,2050.2 465.0,2051.8 466.5,2053.4 468.0,2055.0 469.4,2056.7 470.6,2058.4 471.8,2060.1 472.8,2061.9 473.8,2063.6" fill="#8064A2" stroke="#fff" stroke-width="1.4" stroke-linejoin="round"/>
<polygon points="349.7,2071.4 477.6,2071.4 478.4,2073.3 479.2,2075.2 479.8,2077.1 480.3,2079.0 480.6,2080.9 480.9,2082.8 481.0,2084.7 480.9,2086.7 480.7,2088.6 480.4,2090.5" fill="#4BACC6" stroke="#fff" stroke-width="1.4" stroke-linejoin="round"/>
<polygon points="343.9,2080.6 477.7,2100.7 477.2,2102.9 476.5,2105.1 475.6,2107.3 474.6,2109.5 473.4,2111.7 472.0,2113.8 470.5,2116.0 468.8,2118.1 466.9,2120.2 464.8,2122.2 462.5,2124.3 460.1,2126.2 457.5,2128.2" fill="#F79646" stroke="#fff" stroke-width="1.4" stroke-linejoin="round"/>
<polygon points="325.3,2090.1 439.7,2140.2 436.8,2142.2 433.7,2144.2 430.5,2146.1 427.0,2147.9 423.4,2149.7 419.7,2151.4 415.8,2153.1 411.7,2154.7 407.6,2156.2 403.2,2157.6 398.8,2159.0 394.2,2160.2 389.5,2161.4 384.7,2162.5 379.8,2163.5 374.7,2164.4" fill="#2C4D75" stroke="#fff" stroke-width="1.4" stroke-linejoin="round"/>
<polygon points="301.4,2094.0 346.8,2170.0 341.5,2170.9 336.2,2171.6 330.9,2172.2 325.5,2172.7 320.0,2173.1 314.5,2173.4 309.0,2173.6 303.4,2173.7 297.9,2173.6 292.4,2173.5" fill="#772C2A" stroke="#fff" stroke-width="1.4" stroke-linejoin="round"/>
<polygon points="280.2,2093.3 266.9,2172.3 261.7,2172.1 256.5,2171.7 251.3,2171.3 246.2,2170.8 241.1,2170.1 236.1,2169.4 231.1,2168.6 226.3,2167.7 221.5,2166.7 216.8,2165.6 212.2,2164.4 207.8,2163.1" fill="#5F7530" stroke="#fff" stroke-width="1.4" stroke-linejoin="round"/>
<polygon points="264.7,2090.0 190.3,2158.6 186.0,2157.3 181.8,2155.9 177.7,2154.4 173.8,2152.9 170.0,2151.3 166.4,2149.6" fill="#4D3B62" stroke="#fff" stroke-width="1.4" stroke-linejoin="round"/>
<polygon points="250.0,2083.4 151.4,2140.8 148.0,2139.1 144.8,2137.4 141.8,2135.6 138.9,2133.8 136.2,2131.9 133.6,2130.0 131.2,2128.1 128.9,2126.1 126.8,2124.0 124.9,2122.0 123.2,2119.9 121.6,2117.8 120.2,2115.7 118.9,2113.6 117.9,2111.4 116.9,2109.3" fill="#276A7C" stroke="#fff" stroke-width="1.4" stroke-linejoin="round"/>
<polygon points="241.7,2075.0 111.3,2099.7 110.6,2097.6 110.0,2095.5 109.6,2093.5 109.4,2091.4 109.2,2089.3 109.3,2087.3" fill="#B65708" stroke="#fff" stroke-width="1.4" stroke-linejoin="round"/>
<polygon points="240.2,2069.2 109.9,2081.1 110.1,2079.2 110.4,2077.2 110.9,2075.2 111.5,2073.3 112.2,2071.3 113.1,2069.4 114.0,2067.5 115.2,2065.6" fill="#729ACA" stroke="#fff" stroke-width="1.4" stroke-linejoin="round"/>
<polygon points="242.1,2062.8 119.2,2059.3 120.4,2057.5 121.7,2055.8 123.1,2054.0 124.6,2052.3 126.3,2050.6 128.0,2049.0 129.9,2047.3 131.8,2045.7" fill="#CD7371" stroke="#fff" stroke-width="1.4" stroke-linejoin="round"/>
<polygon points="247.4,2056.9 138.6,2040.4 140.6,2038.8 142.6,2037.4 144.8,2035.9 147.0,2034.5 149.4,2033.1 151.8,2031.8 154.3,2030.4 156.8,2029.2" fill="#AFC97A" stroke="#fff" stroke-width="1.4" stroke-linejoin="round"/>
<polygon points="255.7,2051.8 165.6,2024.9 168.2,2023.7 170.8,2022.5 173.5,2021.4 176.2,2020.3 179.0,2019.2 181.9,2018.2 184.8,2017.2 187.8,2016.3" fill="#9983B5" stroke="#fff" stroke-width="1.4" stroke-linejoin="round"/>
<polygon points="267.7,2047.5 199.4,2012.8 202.4,2011.9 205.4,2011.1 208.4,2010.3 211.5,2009.5 214.6,2008.8 217.8,2008.1 220.9,2007.4 224.2,2006.8 227.4,2006.3 230.7,2005.8" fill="#6FBDD1" stroke="#fff" stroke-width="1.4" stroke-linejoin="round"/>
<polygon points="278.5,2045.4 240.4,2004.1 243.7,2003.6 247.0,2003.2 250.3,2002.8 253.6,2002.4" fill="#F9AB6B" stroke="#fff" stroke-width="1.4" stroke-linejoin="round"/>
<polygon points="285.1,2044.6 259.4,2001.9 262.7,2001.6 266.1,2001.3 269.4,2001.1 272.8,2000.9" fill="#3A5F8B" stroke="#fff" stroke-width="1.4" stroke-linejoin="round"/>
<polygon points="291.7,2044.2 278.6,2000.6 282.0,2000.4 285.4,2000.3 288.8,2000.3 292.2,2000.3" fill="#FF0000" stroke="#fff" stroke-width="1.4" stroke-linejoin="round"/>
<rect x="329.8" y="1951.5" width="38.9" height="48.1" fill="#fff"/><g transform="translate(349.2,0) scale(0.86,1)" fill="#000" stroke="#000" stroke-width="0.35"><text x="0" y="1971.5" font-size="16.8" text-anchor="middle">1</text><text x="0" y="1991.6" font-size="16.8" text-anchor="middle">7%</text></g>
<rect x="402.9" y="1978.1" width="38.9" height="48.0" fill="#fff"/><g transform="translate(422.3,0) scale(0.86,1)" fill="#000" stroke="#000" stroke-width="0.35"><text x="0" y="1998.1" font-size="16.8" text-anchor="middle">2</text><text x="0" y="2018.1" font-size="16.8" text-anchor="middle">9%</text></g>
<rect x="448.6" y="2007.6" width="38.9" height="48.1" fill="#fff"/><g transform="translate(468.0,0) scale(0.86,1)" fill="#000" stroke="#000" stroke-width="0.35"><text x="0" y="2027.6" font-size="16.8" text-anchor="middle">3</text><text x="0" y="2047.7" font-size="16.8" text-anchor="middle">4%</text></g>
<rect x="473.1" y="2032.7" width="38.9" height="48.0" fill="#fff"/><g transform="translate(492.5,0) scale(0.86,1)" fill="#000" stroke="#000" stroke-width="0.35"><text x="0" y="2052.7" font-size="16.8" text-anchor="middle">4</text><text x="0" y="2072.7" font-size="16.8" text-anchor="middle">5%</text></g>
<rect x="480.6" y="2090.3" width="38.9" height="48.0" fill="#fff"/><g transform="translate(500.0,0) scale(0.86,1)" fill="#000" stroke="#000" stroke-width="0.35"><text x="0" y="2110.3" font-size="16.8" text-anchor="middle">5</text><text x="0" y="2130.3" font-size="16.8" text-anchor="middle">5%</text></g>
<rect x="470.1" y="2130.9" width="38.9" height="48.0" fill="#fff"/><g transform="translate(489.5,0) scale(0.86,1)" fill="#000" stroke="#000" stroke-width="0.35"><text x="0" y="2150.9" font-size="16.8" text-anchor="middle">6</text><text x="0" y="2170.9" font-size="16.8" text-anchor="middle">7%</text></g>
<rect x="412.5" y="2184.5" width="38.9" height="48.0" fill="#fff"/><g transform="translate(431.9,0) scale(0.86,1)" fill="#000" stroke="#000" stroke-width="0.35"><text x="0" y="2204.5" font-size="16.8" text-anchor="middle">7</text><text x="0" y="2224.5" font-size="16.8" text-anchor="middle">9%</text></g>
<rect x="313.8" y="2209.6" width="38.9" height="48.0" fill="#fff"/><g transform="translate(333.2,0) scale(0.86,1)" fill="#000" stroke="#000" stroke-width="0.35"><text x="0" y="2229.6" font-size="16.8" text-anchor="middle">8</text><text x="0" y="2249.6" font-size="16.8" text-anchor="middle">6%</text></g>
<rect x="195.0" y="2206.0" width="38.9" height="48.0" fill="#fff"/><g transform="translate(214.4,0) scale(0.86,1)" fill="#000" stroke="#000" stroke-width="0.35"><text x="0" y="2226.0" font-size="16.8" text-anchor="middle">9</text><text x="0" y="2246.0" font-size="16.8" text-anchor="middle">7%</text></g>
<rect x="135.9" y="2182.0" width="38.9" height="48.0" fill="#fff"/><g transform="translate(155.3,0) scale(0.86,1)" fill="#000" stroke="#000" stroke-width="0.35"><text x="0" y="2202.0" font-size="16.8" text-anchor="middle">10</text><text x="0" y="2222.0" font-size="16.8" text-anchor="middle">3%</text></g>
<rect x="88.3" y="2140.4" width="38.9" height="48.0" fill="#fff"/><g transform="translate(107.7,0) scale(0.86,1)" fill="#000" stroke="#000" stroke-width="0.35"><text x="0" y="2160.4" font-size="16.8" text-anchor="middle">11</text><text x="0" y="2180.4" font-size="16.8" text-anchor="middle">8%</text></g>
<rect x="69.8" y="2099.8" width="38.9" height="47.1" fill="#fff"/><g transform="translate(89.2,0) scale(0.86,1)" fill="#000" stroke="#000" stroke-width="0.35"><text x="0" y="2119.8" font-size="16.8" text-anchor="middle">12</text><text x="0" y="2138.9" font-size="16.8" text-anchor="middle">3%</text></g>
<rect x="68.3" y="2061.8" width="38.9" height="48.0" fill="#fff"/><g transform="translate(87.7,0) scale(0.86,1)" fill="#000" stroke="#000" stroke-width="0.35"><text x="0" y="2081.8" font-size="16.8" text-anchor="middle">13</text><text x="0" y="2101.8" font-size="16.8" text-anchor="middle">4%</text></g>
<rect x="79.3" y="2026.7" width="38.9" height="48.0" fill="#fff"/><g transform="translate(98.7,0) scale(0.86,1)" fill="#000" stroke="#000" stroke-width="0.35"><text x="0" y="2046.7" font-size="16.8" text-anchor="middle">14</text><text x="0" y="2066.7" font-size="16.8" text-anchor="middle">4%</text></g>
<rect x="104.3" y="2005.6" width="38.9" height="48.1" fill="#fff"/><g transform="translate(123.7,0) scale(0.86,1)" fill="#000" stroke="#000" stroke-width="0.35"><text x="0" y="2025.6" font-size="16.8" text-anchor="middle">15</text><text x="0" y="2045.7" font-size="16.8" text-anchor="middle">4%</text></g>
<rect x="133.9" y="1985.6" width="38.9" height="48.0" fill="#fff"/><g transform="translate(153.3,0) scale(0.86,1)" fill="#000" stroke="#000" stroke-width="0.35"><text x="0" y="2005.6" font-size="16.8" text-anchor="middle">16</text><text x="0" y="2025.6" font-size="16.8" text-anchor="middle">4%</text></g>
<rect x="171.5" y="1967.6" width="38.9" height="48.0" fill="#fff"/><g transform="translate(190.9,0) scale(0.86,1)" fill="#000" stroke="#000" stroke-width="0.35"><text x="0" y="1987.6" font-size="16.8" text-anchor="middle">17</text><text x="0" y="2007.6" font-size="16.8" text-anchor="middle">5%</text></g>
<rect x="206.1" y="1954.0" width="38.9" height="48.0" fill="#fff"/><g transform="translate(225.5,0) scale(0.86,1)" fill="#000" stroke="#000" stroke-width="0.35"><text x="0" y="1974.0" font-size="16.8" text-anchor="middle">18</text><text x="0" y="1994.0" font-size="16.8" text-anchor="middle">2%</text></g>
<rect x="237.1" y="1944.0" width="38.9" height="48.0" fill="#fff"/><g transform="translate(256.5,0) scale(0.86,1)" fill="#000" stroke="#000" stroke-width="0.35"><text x="0" y="1964.0" font-size="16.8" text-anchor="middle">19</text><text x="0" y="1984.0" font-size="16.8" text-anchor="middle">2%</text></g>
<rect x="273.2" y="1944.0" width="38.9" height="48.0" fill="#fff"/><g transform="translate(292.6,0) scale(0.86,1)" fill="#f00" stroke="#f00" stroke-width="0.35"><text x="0" y="1964.0" font-size="16.8" text-anchor="middle">x</text><text x="0" y="1984.0" font-size="16.8" text-anchor="middle">2%</text></g>
<polygon points="1407.5,306.1 1407.4,307.2 1407.2,308.2 1407.0,309.3 1406.9,310.4 1406.7,311.4 1406.4,312.5 1406.2,313.6 1405.9,314.6 1405.6,315.7 1405.3,316.8 1405.0,317.9 1404.6,318.9 1404.2,320.0 1403.8,321.1 1403.4,322.2 1403.0,323.2 1402.5,324.3 1402.0,325.4 1401.5,326.4 1401.0,327.5 1400.4,328.6 1399.9,329.6 1399.3,330.7 1398.7,331.8 1398.0,332.8 1397.4,333.9 1396.7,335.0 1396.0,336.0 1395.3,337.1 1394.5,338.1 1393.8,339.2 1393.0,340.3 1392.2,341.3 1391.3,342.4 1390.5,343.4 1389.6,344.4 1388.7,345.5 1387.8,346.5 1386.8,347.6 1385.9,348.6 1384.9,349.6 1383.9,350.7 1382.8,351.7 1381.8,352.7 1380.7,353.7 1379.6,354.7 1378.5,355.8 1377.3,356.8 1376.2,357.8 1375.0,358.8 1373.8,359.8 1372.5,360.8 1371.3,361.7 1370.0,362.7 1368.7,363.7 1367.4,364.7 1366.1,365.6 1364.7,366.6 1363.3,367.6 1361.9,368.5 1360.5,369.5 1359.0,370.4 1357.6,371.4 1356.1,372.3 1354.6,373.2 1353.0,374.1 1351.5,375.0 1349.9,376.0 1348.3,376.9 1346.7,377.7 1345.1,378.6 1343.4,379.5 1341.7,380.4 1340.0,381.3 1338.3,382.1 1336.6,383.0 1334.8,383.8 1333.1,384.7 1331.3,385.5 1329.4,386.3 1327.6,387.1 1325.8,387.9 1323.9,388.7 1322.0,389.5 1320.1,390.3 1318.2,391.1 1316.2,391.9 1314.2,392.6 1312.3,393.4 1310.3,394.1 1308.2,394.8 1306.2,395.6 1304.1,396.3 1302.1,397.0 1300.0,397.7 1297.9,398.4 1295.8,399.0 1293.6,399.7 1291.5,400.4 1289.3,401.0 1287.1,401.7 1284.9,402.3 1282.7,402.9 1280.5,403.5 1278.2,404.1 1276.0,404.7 1273.7,405.3 1271.4,405.8 1269.1,406.4 1266.8,406.9 1264.5,407.5 1262.1,408.0 1259.8,408.5 1257.4,409.0 1255.0,409.5 1252.6,410.0 1250.2,410.4 1247.8,410.9 1245.4,411.3 1243.0,411.8 1240.5,412.2 1238.1,412.6 1235.6,413.0 1233.1,413.4 1230.6,413.7 1228.2,414.1 1225.6,414.4 1223.1,414.8 1220.6,415.1 1218.1,415.4 1215.6,415.7 1213.0,416.0 1210.5,416.3 1207.9,416.5 1205.3,416.8 1202.8,417.0 1200.2,417.2 1197.6,417.5 1195.0,417.7 1192.4,417.8 1189.8,418.0 1187.2,418.2 1184.6,418.3 1182.0,418.5 1179.4,418.6 1176.8,418.7 1174.2,418.8 1171.6,418.9 1169.0,418.9 1166.3,419.0 1163.7,419.1 1161.1,419.1 1158.5,419.1 1155.8,419.1 1153.2,419.1 1150.6,419.1 1148.0,419.1 1145.3,419.0 1142.7,418.9 1140.1,418.9 1137.5,418.8 1134.9,418.7 1132.2,418.6 1129.6,418.5 1127.0,418.3 1124.4,418.2 1121.8,418.0 1119.2,417.8 1116.6,417.7 1114.1,417.5 1111.5,417.2 1108.9,417.0 1106.3,416.8 1103.8,416.5 1101.2,416.3 1098.7,416.0 1096.1,415.7 1093.6,415.4 1091.1,415.1 1088.5,414.8 1086.0,414.4 1083.5,414.1 1081.0,413.7 1078.5,413.4 1076.1,413.0 1073.6,412.6 1071.1,412.2 1068.7,411.8 1066.3,411.3 1063.8,410.9 1061.4,410.4 1059.0,410.0 1056.6,409.5 1054.2,409.0 1051.9,408.5 1049.5,408.0 1047.2,407.5 1044.9,406.9 1042.5,406.4 1040.2,405.8 1038.0,405.3 1035.7,404.7 1033.4,404.1 1031.2,403.5 1029.0,402.9 1026.7,402.3 1024.5,401.7 1022.4,401.0 1020.2,400.4 1018.0,399.7 1015.9,399.0 1013.8,398.4 1011.7,397.7 1009.6,397.0 1007.5,396.3 1005.5,395.6 1003.4,394.8 1001.4,394.1 999.4,393.4 997.4,392.6 995.5,391.9 993.5,391.1 991.6,390.3 989.7,389.5 987.8,388.7 985.9,387.9 984.1,387.1 982.2,386.3 980.4,385.5 978.6,384.7 976.8,383.8 975.1,383.0 973.3,382.1 971.6,381.3 969.9,380.4 968.3,379.5 966.6,378.6 965.0,377.7 963.3,376.9 961.8,376.0 960.2,375.0 958.6,374.1 957.1,373.2 955.6,372.3 954.1,371.4 952.6,370.4 951.2,369.5 949.8,368.5 948.4,367.6 947.0,366.6 945.6,365.6 944.3,364.7 942.9,363.7 941.7,362.7 940.4,361.7 939.1,360.8 937.9,359.8 936.7,358.8 935.5,357.8 934.3,356.8 933.2,355.8 932.1,354.7 931.0,353.7 929.9,352.7 928.8,351.7 927.8,350.7 926.8,349.6 925.8,348.6 924.8,347.6 923.9,346.5 923.0,345.5 922.1,344.4 921.2,343.4 920.3,342.4 919.5,341.3 918.7,340.3 917.9,339.2 917.1,338.1 916.4,337.1 915.7,336.0 915.0,335.0 914.3,333.9 913.6,332.8 913.0,331.8 912.4,330.7 911.8,329.6 911.2,328.6 910.7,327.5 910.1,326.4 909.6,325.4 909.2,324.3 908.7,323.2 908.3,322.2 907.8,321.1 907.4,320.0 907.1,318.9 906.7,317.9 906.4,316.8 906.1,315.7 905.8,314.6 905.5,313.6 905.2,312.5 905.0,311.4 904.8,310.4 904.6,309.3 904.5,308.2 904.3,307.2 904.2,306.1 909.7,358.0 909.9,359.2 910.0,360.3 910.2,361.4 910.4,362.5 910.6,363.6 910.8,364.8 911.1,365.9 911.4,367.0 911.6,368.2 912.0,369.3 912.3,370.4 912.6,371.5 913.0,372.7 913.4,373.8 913.8,374.9 914.3,376.0 914.7,377.2 915.2,378.3 915.7,379.4 916.2,380.5 916.8,381.7 917.4,382.8 917.9,383.9 918.6,385.0 919.2,386.1 919.8,387.3 920.5,388.4 921.2,389.5 921.9,390.6 922.6,391.7 923.4,392.8 924.2,393.9 925.0,395.0 925.8,396.1 926.6,397.2 927.5,398.3 928.4,399.4 929.3,400.5 930.2,401.6 931.2,402.7 932.2,403.8 933.2,404.8 934.2,405.9 935.2,407.0 936.3,408.1 937.3,409.1 938.4,410.2 939.6,411.2 940.7,412.3 941.9,413.3 943.1,414.4 944.3,415.4 945.5,416.5 946.8,417.5 948.0,418.5 949.3,419.5 950.6,420.6 952.0,421.6 953.3,422.6 954.7,423.6 956.1,424.6 957.5,425.6 959.0,426.5 960.4,427.5 961.9,428.5 963.4,429.4 964.9,430.4 966.5,431.4 968.0,432.3 969.6,433.2 971.2,434.2 972.8,435.1 974.5,436.0 976.1,436.9 977.8,437.8 979.5,438.7 981.2,439.6 983.0,440.5 984.7,441.3 986.5,442.2 988.3,443.1 990.1,443.9 991.9,444.7 993.8,445.6 995.6,446.4 997.5,447.2 999.4,448.0 1001.4,448.8 1003.3,449.6 1005.2,450.4 1007.2,451.1 1009.2,451.9 1011.2,452.6 1013.2,453.4 1015.3,454.1 1017.3,454.8 1019.4,455.5 1021.5,456.2 1023.6,456.9 1025.7,457.6 1027.8,458.2 1030.0,458.9 1032.1,459.6 1034.3,460.2 1036.5,460.8 1038.7,461.4 1040.9,462.0 1043.2,462.6 1045.4,463.2 1047.7,463.8 1049.9,464.3 1052.2,464.9 1054.5,465.4 1056.8,465.9 1059.1,466.4 1061.5,466.9 1063.8,467.4 1066.2,467.9 1068.5,468.4 1070.9,468.8 1073.3,469.2 1075.7,469.7 1078.1,470.1 1080.5,470.5 1082.9,470.9 1085.4,471.3 1087.8,471.6 1090.2,472.0 1092.7,472.3 1095.2,472.6 1097.6,472.9 1100.1,473.2 1102.6,473.5 1105.1,473.8 1107.6,474.1 1110.1,474.3 1112.6,474.5 1115.1,474.8 1117.6,475.0 1120.2,475.2 1122.7,475.3 1125.2,475.5 1127.8,475.7 1130.3,475.8 1132.8,475.9 1135.4,476.1 1137.9,476.2 1140.5,476.2 1143.0,476.3 1145.6,476.4 1148.2,476.4 1150.7,476.5 1153.3,476.5 1155.8,476.5 1158.4,476.5 1160.9,476.5 1163.5,476.4 1166.1,476.4 1168.6,476.3 1171.2,476.2 1173.7,476.2 1176.3,476.1 1178.8,475.9 1181.4,475.8 1183.9,475.7 1186.4,475.5 1189.0,475.3 1191.5,475.2 1194.0,475.0 1196.5,474.8 1199.1,474.5 1201.6,474.3 1204.1,474.1 1206.6,473.8 1209.1,473.5 1211.6,473.2 1214.0,472.9 1216.5,472.6 1219.0,472.3 1221.4,472.0 1223.9,471.6 1226.3,471.3 1228.7,470.9 1231.2,470.5 1233.6,470.1 1236.0,469.7 1238.4,469.2 1240.8,468.8 1243.1,468.4 1245.5,467.9 1247.9,467.4 1250.2,466.9 1252.5,466.4 1254.8,465.9 1257.2,465.4 1259.5,464.9 1261.7,464.3 1264.0,463.8 1266.3,463.2 1268.5,462.6 1270.7,462.0 1273.0,461.4 1275.2,460.8 1277.4,460.2 1279.5,459.6 1281.7,458.9 1283.8,458.2 1286.0,457.6 1288.1,456.9 1290.2,456.2 1292.3,455.5 1294.3,454.8 1296.4,454.1 1298.4,453.4 1300.5,452.6 1302.5,451.9 1304.5,451.1 1306.4,450.4 1308.4,449.6 1310.3,448.8 1312.2,448.0 1314.1,447.2 1316.0,446.4 1317.9,445.6 1319.7,444.7 1321.6,443.9 1323.4,443.1 1325.2,442.2 1326.9,441.3 1328.7,440.5 1330.4,439.6 1332.2,438.7 1333.9,437.8 1335.5,436.9 1337.2,436.0 1338.8,435.1 1340.5,434.2 1342.1,433.2 1343.6,432.3 1345.2,431.4 1346.7,430.4 1348.3,429.4 1349.8,428.5 1351.2,427.5 1352.7,426.5 1354.1,425.6 1355.6,424.6 1357.0,423.6 1358.3,422.6 1359.7,421.6 1361.0,420.6 1362.3,419.5 1363.6,418.5 1364.9,417.5 1366.2,416.5 1367.4,415.4 1368.6,414.4 1369.8,413.3 1370.9,412.3 1372.1,411.2 1373.2,410.2 1374.3,409.1 1375.4,408.1 1376.5,407.0 1377.5,405.9 1378.5,404.8 1379.5,403.8 1380.5,402.7 1381.4,401.6 1382.4,400.5 1383.3,399.4 1384.2,398.3 1385.0,397.2 1385.9,396.1 1386.7,395.0 1387.5,393.9 1388.3,392.8 1389.0,391.7 1389.8,390.6 1390.5,389.5 1391.2,388.4 1391.8,387.3 1392.5,386.1 1393.1,385.0 1393.7,383.9 1394.3,382.8 1394.9,381.7 1395.4,380.5 1395.9,379.4 1396.4,378.3 1396.9,377.2 1397.4,376.0 1397.8,374.9 1398.2,373.8 1398.6,372.7 1399.0,371.5 1399.4,370.4 1399.7,369.3 1400.0,368.2 1400.3,367.0 1400.6,365.9 1400.8,364.8 1401.1,363.6 1401.3,362.5 1401.5,361.4 1401.7,360.3 1401.8,359.2 1401.9,358.0" fill="url(#gB)"/>
<polygon points="1155.8,180.8 1157.7,180.8 1159.5,180.8 1161.4,180.8 1163.2,180.8 1165.0,180.9 1166.9,180.9 1168.7,180.9 1170.6,181.0 1172.4,181.0 1174.2,181.1 1176.1,181.2 1177.9,181.2 1179.8,181.3 1181.6,181.4 1183.4,181.5 1185.3,181.6 1187.1,181.7 1188.9,181.8 1190.7,181.9 1192.6,182.0 1194.4,182.2 1196.2,182.3 1198.0,182.5 1199.9,182.6 1201.7,182.8 1203.5,182.9 1205.3,183.1 1207.1,183.3 1208.9,183.5 1210.7,183.6 1212.6,183.8 1214.4,184.0 1216.2,184.2 1218.0,184.5 1219.8,184.7 1221.5,184.9 1223.3,185.1 1225.1,185.4 1226.9,185.6 1228.7,185.9 1230.5,186.1 1232.2,186.4 1234.0,186.7 1235.8,186.9 1237.5,187.2 1239.3,187.5 1241.1,187.8 1242.8,188.1 1244.6,188.4 1246.3,188.7 1248.0,189.0 1249.8,189.4 1251.5,189.7 1253.2,190.0 1255.0,190.4 1256.7,190.7 1258.4,191.1 1260.1,191.5 1261.8,191.8 1263.5,192.2 1265.2,192.6 1266.9,193.0 1268.6,193.4 1270.3,193.8 1272.0,194.2 1273.6,194.6 1275.3,195.0 1277.0,195.4 1278.6,195.9 1280.3,196.3 1281.9,196.8 1283.5,197.2 1285.2,197.7 1286.8,198.1 1288.4,198.6 1290.0,199.1 1291.6,199.6 1293.2,200.1 1294.8,200.5 1296.4,201.0 1298.0,201.6 1299.6,202.1 1301.1,202.6 1302.7,203.1 1304.3,203.6 1305.8,204.2 1307.3,204.7 1308.9,205.3 1310.4,205.8 1311.9,206.4 1313.4,207.0 1314.9,207.5 1316.4,208.1 1317.9,208.7 1319.4,209.3 1320.8,209.9 1322.3,210.5 1323.8,211.1 1325.2,211.7 1326.6,212.3 1328.1,213.0 1329.5,213.6 1330.9,214.2 1332.3,214.9 1333.7,215.5 1335.1,216.2 1336.4,216.8 1337.8,217.5 1339.1,218.2 1340.5,218.9 1341.8,219.5 1343.2,220.2 1344.5,220.9 1345.8,221.6 1347.1,222.3 1348.3,223.0 1349.6,223.8 1350.9,224.5 1352.1,225.2 1353.4,226.0 1354.6,226.7 1355.8,227.4 1357.0,228.2 1358.2,229.0 1359.4,229.7 1360.6,230.5 1361.8,231.3 1362.9,232.0 1364.0,232.8 1365.2,233.6 1366.3,234.4 1367.4,235.2 1368.5,236.0 1369.6,236.8 1370.6,237.6 1371.7,238.5 1372.7,239.3 1373.8,240.1 1374.8,240.9 1375.8,241.8 1376.8,242.6 1377.7,243.5 1378.7,244.3 1379.7,245.2 1380.6,246.1 1381.5,246.9 1382.4,247.8 1383.3,248.7 1384.2,249.6 1385.1,250.5 1385.9,251.4 1386.8,252.2 1387.6,253.2 1388.4,254.1 1389.2,255.0 1390.0,255.9 1390.7,256.8 1391.5,257.7 1392.2,258.7 1392.9,259.6 1393.6,260.5 1394.3,261.5 1395.0,262.4 1395.7,263.4 1396.3,264.3 1396.9,265.3 1397.5,266.2 1398.1,267.2 1398.7,268.2 1399.3,269.1 1399.8,270.1 1400.3,271.1 1400.8,272.1 1401.3,273.1 1401.8,274.1 1402.3,275.0 1402.7,276.0 1403.1,277.0 1403.5,278.0 1403.9,279.1 1404.3,280.1 1404.6,281.1 1405.0,282.1 1405.3,283.1 1405.6,284.1 1405.9,285.2 1406.1,286.2 1406.4,287.2 1406.6,288.2 1406.8,289.3 1407.0,290.3 1407.2,291.4 1407.3,292.4 1407.5,293.4 1407.6,294.5 1407.7,295.5 1407.7,296.6 1407.8,297.6 1407.8,298.7 1407.8,299.7 1407.8,300.8 1407.8,301.9 1407.7,302.9 1407.7,304.0 1407.6,305.0 1407.5,306.1 1407.4,307.2 1407.2,308.2 1407.0,309.3 1406.9,310.4 1406.7,311.4 1406.4,312.5 1406.2,313.6 1405.9,314.6 1405.6,315.7 1405.3,316.8 1405.0,317.9 1404.6,318.9 1404.2,320.0 1403.8,321.1 1403.4,322.2 1403.0,323.2 1402.5,324.3 1402.0,325.4 1401.5,326.4 1401.0,327.5 1400.4,328.6 1399.9,329.6 1399.3,330.7 1398.7,331.8 1398.0,332.8 1397.4,333.9 1396.7,335.0 1396.0,336.0 1395.3,337.1 1394.5,338.1 1393.8,339.2 1393.0,340.3 1392.2,341.3 1391.3,342.4 1390.5,343.4 1389.6,344.4 1388.7,345.5 1387.8,346.5 1386.8,347.6 1385.9,348.6 1384.9,349.6 1383.9,350.7 1382.8,351.7 1381.8,352.7 1380.7,353.7 1379.6,354.7 1378.5,355.8 1377.3,356.8 1376.2,357.8 1375.0,358.8 1373.8,359.8 1372.5,360.8 1371.3,361.7 1370.0,362.7 1368.7,363.7 1367.4,364.7 1366.1,365.6 1364.7,366.6 1363.3,367.6 1361.9,368.5 1360.5,369.5 1359.0,370.4 1357.6,371.4 1356.1,372.3 1354.6,373.2 1353.0,374.1 1351.5,375.0 1349.9,376.0 1348.3,376.9 1346.7,377.7 1345.1,378.6 1343.4,379.5 1341.7,380.4 1340.0,381.3 1338.3,382.1 1336.6,383.0 1334.8,383.8 1333.1,384.7 1331.3,385.5 1329.4,386.3 1327.6,387.1 1325.8,387.9 1323.9,388.7 1322.0,389.5 1320.1,390.3 1318.2,391.1 1316.2,391.9 1314.2,392.6 1312.3,393.4 1310.3,394.1 1308.2,394.8 1306.2,395.6 1304.1,396.3 1302.1,397.0 1300.0,397.7 1297.9,398.4 1295.8,399.0 1293.6,399.7 1291.5,400.4 1289.3,401.0 1287.1,401.7 1284.9,402.3 1282.7,402.9 1280.5,403.5 1278.2,404.1 1276.0,404.7 1273.7,405.3 1271.4,405.8 1269.1,406.4 1266.8,406.9 1264.5,407.5 1262.1,408.0 1259.8,408.5 1257.4,409.0 1255.0,409.5 1252.6,410.0 1250.2,410.4 1247.8,410.9 1245.4,411.3 1243.0,411.8 1240.5,412.2 1238.1,412.6 1235.6,413.0 1233.1,413.4 1230.6,413.7 1228.2,414.1 1225.6,414.4 1223.1,414.8 1220.6,415.1 1218.1,415.4 1215.6,415.7 1213.0,416.0 1210.5,416.3 1207.9,416.5 1205.3,416.8 1202.8,417.0 1200.2,417.2 1197.6,417.5 1195.0,417.7 1192.4,417.8 1189.8,418.0 1187.2,418.2 1184.6,418.3 1182.0,418.5 1179.4,418.6 1176.8,418.7 1174.2,418.8 1171.6,418.9 1169.0,418.9 1166.3,419.0 1163.7,419.1 1161.1,419.1 1158.5,419.1 1155.8,419.1 1153.2,419.1 1150.6,419.1 1148.0,419.1 1145.3,419.0 1142.7,418.9 1140.1,418.9 1137.5,418.8 1134.9,418.7 1132.2,418.6 1129.6,418.5 1127.0,418.3 1124.4,418.2 1121.8,418.0 1119.2,417.8 1116.6,417.7 1114.1,417.5 1111.5,417.2 1108.9,417.0 1106.3,416.8 1103.8,416.5 1101.2,416.3 1098.7,416.0 1096.1,415.7 1093.6,415.4 1091.1,415.1 1088.5,414.8 1086.0,414.4 1083.5,414.1 1081.0,413.7 1078.5,413.4 1076.1,413.0 1073.6,412.6 1071.1,412.2 1068.7,411.8 1066.3,411.3 1063.8,410.9 1061.4,410.4 1059.0,410.0 1056.6,409.5 1054.2,409.0 1051.9,408.5 1049.5,408.0 1047.2,407.5 1044.9,406.9 1042.5,406.4 1040.2,405.8 1038.0,405.3 1035.7,404.7 1033.4,404.1 1031.2,403.5 1029.0,402.9 1026.7,402.3 1024.5,401.7 1022.4,401.0 1020.2,400.4 1018.0,399.7 1015.9,399.0 1013.8,398.4 1011.7,397.7 1009.6,397.0 1007.5,396.3 1005.5,395.6 1003.4,394.8 1001.4,394.1 999.4,393.4 997.4,392.6 995.5,391.9 993.5,391.1 991.6,390.3 989.7,389.5 987.8,388.7 985.9,387.9 984.1,387.1 982.2,386.3 980.4,385.5 978.6,384.7 976.8,383.8 975.1,383.0 973.3,382.1 971.6,381.3 969.9,380.4 968.3,379.5 966.6,378.6 965.0,377.7 963.3,376.9 961.8,376.0 960.2,375.0 958.6,374.1 957.1,373.2 955.6,372.3 954.1,371.4 952.6,370.4 951.2,369.5 949.8,368.5 948.4,367.6 947.0,366.6 945.6,365.6 944.3,364.7 942.9,363.7 941.7,362.7 940.4,361.7 939.1,360.8 937.9,359.8 936.7,358.8 935.5,357.8 934.3,356.8 933.2,355.8 932.1,354.7 931.0,353.7 929.9,352.7 928.8,351.7 927.8,350.7 926.8,349.6 925.8,348.6 924.8,347.6 923.9,346.5 923.0,345.5 922.1,344.4 921.2,343.4 920.3,342.4 919.5,341.3 918.7,340.3 917.9,339.2 917.1,338.1 916.4,337.1 915.7,336.0 915.0,335.0 914.3,333.9 913.6,332.8 913.0,331.8 912.4,330.7 911.8,329.6 911.2,328.6 910.7,327.5 910.1,326.4 909.6,325.4 909.2,324.3 908.7,323.2 908.3,322.2 907.8,321.1 907.4,320.0 907.1,318.9 906.7,317.9 906.4,316.8 906.1,315.7 905.8,314.6 905.5,313.6 905.2,312.5 905.0,311.4 904.8,310.4 904.6,309.3 904.5,308.2 904.3,307.2 904.2,306.1 904.1,305.0 904.0,304.0 903.9,302.9 903.9,301.9 903.8,300.8 903.8,299.7 903.9,298.7 903.9,297.6 903.9,296.6 904.0,295.5 904.1,294.5 904.2,293.4 904.3,292.4 904.5,291.4 904.7,290.3 904.9,289.3 905.1,288.2 905.3,287.2 905.5,286.2 905.8,285.2 906.1,284.1 906.4,283.1 906.7,282.1 907.0,281.1 907.4,280.1 907.7,279.1 908.1,278.0 908.5,277.0 909.0,276.0 909.4,275.0 909.9,274.1 910.3,273.1 910.8,272.1 911.3,271.1 911.9,270.1 912.4,269.1 913.0,268.2 913.5,267.2 914.1,266.2 914.7,265.3 915.4,264.3 916.0,263.4 916.7,262.4 917.3,261.5 918.0,260.5 918.7,259.6 919.4,258.7 920.2,257.7 920.9,256.8 921.7,255.9 922.5,255.0 923.3,254.1 924.1,253.2 924.9,252.2 925.7,251.4 926.6,250.5 927.5,249.6 928.3,248.7 929.2,247.8 930.1,246.9 931.1,246.1 932.0,245.2 933.0,244.3 933.9,243.5 934.9,242.6 935.9,241.8 936.9,240.9 937.9,240.1 938.9,239.3 940.0,238.5 941.0,237.6 942.1,236.8 943.2,236.0 944.3,235.2 945.4,234.4 946.5,233.6 947.6,232.8 948.8,232.0 949.9,231.3 951.1,230.5 952.3,229.7 953.4,229.0 954.6,228.2 955.8,227.4 957.1,226.7 958.3,226.0 959.5,225.2 960.8,224.5 962.0,223.8 963.3,223.0 964.6,222.3 965.9,221.6 967.2,220.9 968.5,220.2 969.8,219.5 971.2,218.9 972.5,218.2 973.9,217.5 975.2,216.8 976.6,216.2 978.0,215.5 979.4,214.9 980.8,214.2 982.2,213.6 983.6,213.0 985.0,212.3 986.5,211.7 987.9,211.1 989.4,210.5 990.8,209.9 992.3,209.3 993.8,208.7 995.2,208.1 996.7,207.5 998.2,207.0 999.8,206.4 1001.3,205.8 1002.8,205.3 1004.3,204.7 1005.9,204.2 1007.4,203.6 1009.0,203.1 1010.5,202.6 1012.1,202.1 1013.7,201.6 1015.2,201.0 1016.8,200.5 1018.4,200.1 1020.0,199.6 1021.6,199.1 1023.2,198.6 1024.9,198.1 1026.5,197.7 1028.1,197.2 1029.8,196.8 1031.4,196.3 1033.0,195.9 1034.7,195.4 1036.4,195.0 1038.0,194.6 1039.7,194.2 1041.4,193.8 1043.1,193.4 1044.7,193.0 1046.4,192.6 1048.1,192.2 1049.8,191.8 1051.5,191.5 1053.3,191.1 1055.0,190.7 1056.7,190.4 1058.4,190.0 1060.1,189.7 1061.9,189.4 1063.6,189.0 1065.4,188.7 1067.1,188.4 1068.9,188.1 1070.6,187.8 1072.4,187.5 1074.1,187.2 1075.9,186.9 1077.7,186.7 1079.4,186.4 1081.2,186.1 1083.0,185.9 1084.8,185.6 1086.5,185.4 1088.3,185.1 1090.1,184.9 1091.9,184.7 1093.7,184.5 1095.5,184.2 1097.3,184.0 1099.1,183.8 1100.9,183.6 1102.7,183.5 1104.5,183.3 1106.4,183.1 1108.2,182.9 1110.0,182.8 1111.8,182.6 1113.6,182.5 1115.4,182.3 1117.3,182.2 1119.1,182.0 1120.9,181.9 1122.8,181.8 1124.6,181.7 1126.4,181.6 1128.2,181.5 1130.1,181.4 1131.9,181.3 1133.7,181.2 1135.6,181.2 1137.4,181.1 1139.3,181.0 1141.1,181.0 1142.9,180.9 1144.8,180.9 1146.6,180.9 1148.5,180.8 1150.3,180.8 1152.1,180.8 1154.0,180.8 1155.8,180.8" fill="#F8BC00"/>
<polygon points="1155.8,279.1 1149.9,180.8 1151.7,180.8 1153.5,180.8 1155.2,180.8 1157.0,180.8 1158.8,180.8" fill="#fff"/>
<line x1="1155.8" y1="279.1" x2="1151.2" y2="180.8" stroke="#ED7D31" stroke-width="1.3"/>
<polygon points="1155.8,279.1 1158.8,180.8 1163.7,180.8 1168.7,180.9 1173.6,181.1 1178.5,181.3 1183.5,181.5 1188.4,181.8 1193.3,182.1" fill="#BCBCBC" stroke="#fff" stroke-width="1.6" stroke-linejoin="round"/>
<polyline points="1407.5,306.1 1407.4,307.2 1407.2,308.2 1407.0,309.3 1406.9,310.4 1406.7,311.4 1406.4,312.5 1406.2,313.6 1405.9,314.6 1405.6,315.7 1405.3,316.8 1405.0,317.9 1404.6,318.9 1404.2,320.0 1403.8,321.1 1403.4,322.2 1403.0,323.2 1402.5,324.3 1402.0,325.4 1401.5,326.4 1401.0,327.5 1400.4,328.6 1399.9,329.6 1399.3,330.7 1398.7,331.8 1398.0,332.8 1397.4,333.9 1396.7,335.0 1396.0,336.0 1395.3,337.1 1394.5,338.1 1393.8,339.2 1393.0,340.3 1392.2,341.3 1391.3,342.4 1390.5,343.4 1389.6,344.4 1388.7,345.5 1387.8,346.5 1386.8,347.6 1385.9,348.6 1384.9,349.6 1383.9,350.7 1382.8,351.7 1381.8,352.7 1380.7,353.7 1379.6,354.7 1378.5,355.8 1377.3,356.8 1376.2,357.8 1375.0,358.8 1373.8,359.8 1372.5,360.8 1371.3,361.7 1370.0,362.7 1368.7,363.7 1367.4,364.7 1366.1,365.6 1364.7,366.6 1363.3,367.6 1361.9,368.5 1360.5,369.5 1359.0,370.4 1357.6,371.4 1356.1,372.3 1354.6,373.2 1353.0,374.1 1351.5,375.0 1349.9,376.0 1348.3,376.9 1346.7,377.7 1345.1,378.6 1343.4,379.5 1341.7,380.4 1340.0,381.3 1338.3,382.1 1336.6,383.0 1334.8,383.8 1333.1,384.7 1331.3,385.5 1329.4,386.3 1327.6,387.1 1325.8,387.9 1323.9,388.7 1322.0,389.5 1320.1,390.3 1318.2,391.1 1316.2,391.9 1314.2,392.6 1312.3,393.4 1310.3,394.1 1308.2,394.8 1306.2,395.6 1304.1,396.3 1302.1,397.0 1300.0,397.7 1297.9,398.4 1295.8,399.0 1293.6,399.7 1291.5,400.4 1289.3,401.0 1287.1,401.7 1284.9,402.3 1282.7,402.9 1280.5,403.5 1278.2,404.1 1276.0,404.7 1273.7,405.3 1271.4,405.8 1269.1,406.4 1266.8,406.9 1264.5,407.5 1262.1,408.0 1259.8,408.5 1257.4,409.0 1255.0,409.5 1252.6,410.0 1250.2,410.4 1247.8,410.9 1245.4,411.3 1243.0,411.8 1240.5,412.2 1238.1,412.6 1235.6,413.0 1233.1,413.4 1230.6,413.7 1228.2,414.1 1225.6,414.4 1223.1,414.8 1220.6,415.1 1218.1,415.4 1215.6,415.7 1213.0,416.0 1210.5,416.3 1207.9,416.5 1205.3,416.8 1202.8,417.0 1200.2,417.2 1197.6,417.5 1195.0,417.7 1192.4,417.8 1189.8,418.0 1187.2,418.2 1184.6,418.3 1182.0,418.5 1179.4,418.6 1176.8,418.7 1174.2,418.8 1171.6,418.9 1169.0,418.9 1166.3,419.0 1163.7,419.1 1161.1,419.1 1158.5,419.1 1155.8,419.1 1153.2,419.1 1150.6,419.1 1148.0,419.1 1145.3,419.0 1142.7,418.9 1140.1,418.9 1137.5,418.8 1134.9,418.7 1132.2,418.6 1129.6,418.5 1127.0,418.3 1124.4,418.2 1121.8,418.0 1119.2,417.8 1116.6,417.7 1114.1,417.5 1111.5,417.2 1108.9,417.0 1106.3,416.8 1103.8,416.5 1101.2,416.3 1098.7,416.0 1096.1,415.7 1093.6,415.4 1091.1,415.1 1088.5,414.8 1086.0,414.4 1083.5,414.1 1081.0,413.7 1078.5,413.4 1076.1,413.0 1073.6,412.6 1071.1,412.2 1068.7,411.8 1066.3,411.3 1063.8,410.9 1061.4,410.4 1059.0,410.0 1056.6,409.5 1054.2,409.0 1051.9,408.5 1049.5,408.0 1047.2,407.5 1044.9,406.9 1042.5,406.4 1040.2,405.8 1038.0,405.3 1035.7,404.7 1033.4,404.1 1031.2,403.5 1029.0,402.9 1026.7,402.3 1024.5,401.7 1022.4,401.0 1020.2,400.4 1018.0,399.7 1015.9,399.0 1013.8,398.4 1011.7,397.7 1009.6,397.0 1007.5,396.3 1005.5,395.6 1003.4,394.8 1001.4,394.1 999.4,393.4 997.4,392.6 995.5,391.9 993.5,391.1 991.6,390.3 989.7,389.5 987.8,388.7 985.9,387.9 984.1,387.1 982.2,386.3 980.4,385.5 978.6,384.7 976.8,383.8 975.1,383.0 973.3,382.1 971.6,381.3 969.9,380.4 968.3,379.5 966.6,378.6 965.0,377.7 963.3,376.9 961.8,376.0 960.2,375.0 958.6,374.1 957.1,373.2 955.6,372.3 954.1,371.4 952.6,370.4 951.2,369.5 949.8,368.5 948.4,367.6 947.0,366.6 945.6,365.6 944.3,364.7 942.9,363.7 941.7,362.7 940.4,361.7 939.1,360.8 937.9,359.8 936.7,358.8 935.5,357.8 934.3,356.8 933.2,355.8 932.1,354.7 931.0,353.7 929.9,352.7 928.8,351.7 927.8,350.7 926.8,349.6 925.8,348.6 924.8,347.6 923.9,346.5 923.0,345.5 922.1,344.4 921.2,343.4 920.3,342.4 919.5,341.3 918.7,340.3 917.9,339.2 917.1,338.1 916.4,337.1 915.7,336.0 915.0,335.0 914.3,333.9 913.6,332.8 913.0,331.8 912.4,330.7 911.8,329.6 911.2,328.6 910.7,327.5 910.1,326.4 909.6,325.4 909.2,324.3 908.7,323.2 908.3,322.2 907.8,321.1 907.4,320.0 907.1,318.9 906.7,317.9 906.4,316.8 906.1,315.7 905.8,314.6 905.5,313.6 905.2,312.5 905.0,311.4 904.8,310.4 904.6,309.3 904.5,308.2 904.3,307.2 904.2,306.1" fill="none" stroke="#fff" stroke-width="2.6"/>
<polygon points="1148.4,186.2 1052.5,239.9 1030.0,252.0 1045.0,262.0 1073.6,243.1" fill="#fff"/>
<polygon points="1148.4,186.2 1108.6,244.0 1141.9,244.0" fill="#fff"/>
<polygon points="1192.5,183.0 1197.1,184.6 1234.5,246.0 1202.0,246.0 1190.6,199.2" fill="#fff"/>
<polyline points="1173.6,183.8 1184,204 1164.6,254.5 1163.8,264" fill="none" stroke="#fff" stroke-width="3"/>
<polygon points="1056.7,361.9 1125.4,416.5 1056.7,374.2" fill="#fff"/>
<polygon points="1348.0,177.0 1474.0,177.0 1474.0,239.7 1348.0,239.7" fill="#fff"/>
<text x="1409.5" y="194.0" font-size="17.2" text-anchor="middle" fill="#000">polymorphic</text><text x="1409.5" y="213.6" font-size="17.2" text-anchor="middle" fill="#000">pseudogene</text><text x="1409.5" y="229.5" font-size="17.2" text-anchor="middle" fill="#000">&lt;1%</text>
<text x="994.0" y="154.2" font-size="17.2" text-anchor="middle" fill="#000">pseudo gene</text><text x="994.0" y="173.4" font-size="17.2" text-anchor="middle" fill="#000">1%</text>
<text x="1156.0" y="116.0" font-size="17.2" text-anchor="middle" fill="#000">antisense</text><text x="1156.0" y="136.3" font-size="17.2" text-anchor="middle" fill="#000">lncRNA gene</text><text x="1156.0" y="153.0" font-size="17.2" text-anchor="middle" fill="#000">&lt;1%</text>
<text x="1316.0" y="140.0" font-size="17.2" text-anchor="middle" fill="#000">miRNA gene</text><text x="1316.0" y="160.0" font-size="17.2" text-anchor="middle" fill="#000">&lt;1%</text>
<polygon points="924.0,228.0 1052.0,228.0 1052.0,296.8 924.0,296.8" fill="#fff"/>
<text x="988.0" y="249.2" font-size="17.2" text-anchor="middle" fill="#000">RNAase MRP</text><text x="988.0" y="270.4" font-size="17.2" text-anchor="middle" fill="#000">RNA gene</text><text x="988.0" y="286.2" font-size="17.2" text-anchor="middle" fill="#000">&lt;1%</text>
<polygon points="1033.8,243.1 1163.4,243.1 1163.4,291.5 1033.8,291.5" fill="#fff"/>
<text x="1098.0" y="265.0" font-size="17.2" text-anchor="middle" fill="#000">snoRNA gene</text><text x="1098.0" y="284.4" font-size="17.2" text-anchor="middle" fill="#000">&lt;1%</text>
<polygon points="1181.7,245.0 1308.5,245.0 1308.5,294.0 1181.7,294.0" fill="#fff"/>
<text x="1245.0" y="267.5" font-size="17.2" text-anchor="middle" fill="#f00">lncRNA gene</text><text x="1245.0" y="286.2" font-size="17.2" text-anchor="middle" fill="#f00">3%</text>
<polygon points="981.0,306.6 1057.7,306.6 1057.7,375.0 981.0,375.0" fill="#fff"/>
<text x="1019.4" y="328.5" font-size="17.2" text-anchor="middle" fill="#000">protein</text><text x="1019.4" y="347.8" font-size="17.2" text-anchor="middle" fill="#000">coding</text><text x="1019.4" y="365.4" font-size="17.2" text-anchor="middle" fill="#000">96%</text>
<polygon points="1421.1,829.9 1421.0,831.1 1420.8,832.2 1420.7,833.3 1420.5,834.5 1420.2,835.6 1420.0,836.8 1419.7,837.9 1419.4,839.0 1419.1,840.2 1418.8,841.3 1418.4,842.4 1418.1,843.6 1417.7,844.7 1417.2,845.9 1416.8,847.0 1416.3,848.1 1415.8,849.3 1415.3,850.4 1414.8,851.6 1414.2,852.7 1413.6,853.8 1413.0,855.0 1412.4,856.1 1411.8,857.2 1411.1,858.4 1410.4,859.5 1409.7,860.6 1408.9,861.7 1408.1,862.9 1407.3,864.0 1406.5,865.1 1405.7,866.2 1404.8,867.4 1403.9,868.5 1403.0,869.6 1402.1,870.7 1401.1,871.8 1400.2,872.9 1399.2,874.0 1398.1,875.1 1397.1,876.2 1396.0,877.3 1394.9,878.4 1393.8,879.5 1392.7,880.6 1391.5,881.6 1390.3,882.7 1389.1,883.8 1387.8,884.9 1386.6,885.9 1385.3,887.0 1384.0,888.0 1382.7,889.1 1381.3,890.1 1379.9,891.2 1378.5,892.2 1377.1,893.2 1375.6,894.2 1374.2,895.3 1372.7,896.3 1371.2,897.3 1369.6,898.3 1368.1,899.3 1366.5,900.3 1364.9,901.3 1363.3,902.2 1361.6,903.2 1359.9,904.2 1358.2,905.1 1356.5,906.1 1354.8,907.0 1353.0,908.0 1351.2,908.9 1349.4,909.8 1347.6,910.7 1345.8,911.6 1343.9,912.5 1342.0,913.4 1340.1,914.3 1338.2,915.2 1336.2,916.1 1334.3,916.9 1332.3,917.8 1330.3,918.6 1328.2,919.4 1326.2,920.3 1324.1,921.1 1322.0,921.9 1319.9,922.7 1317.8,923.5 1315.6,924.3 1313.5,925.0 1311.3,925.8 1309.1,926.5 1306.9,927.3 1304.7,928.0 1302.4,928.7 1300.1,929.4 1297.8,930.1 1295.5,930.8 1293.2,931.5 1290.9,932.2 1288.5,932.8 1286.2,933.5 1283.8,934.1 1281.4,934.7 1279.0,935.3 1276.5,935.9 1274.1,936.5 1271.6,937.1 1269.1,937.7 1266.7,938.2 1264.2,938.8 1261.6,939.3 1259.1,939.8 1256.6,940.3 1254.0,940.8 1251.5,941.3 1248.9,941.8 1246.3,942.2 1243.7,942.7 1241.1,943.1 1238.5,943.5 1235.8,943.9 1233.2,944.3 1230.5,944.7 1227.9,945.1 1225.2,945.4 1222.5,945.8 1219.8,946.1 1217.2,946.4 1214.4,946.7 1211.7,947.0 1209.0,947.3 1206.3,947.6 1203.6,947.8 1200.8,948.1 1198.1,948.3 1195.3,948.5 1192.6,948.7 1189.8,948.9 1187.1,949.1 1184.3,949.2 1181.5,949.4 1178.8,949.5 1176.0,949.6 1173.2,949.7 1170.4,949.8 1167.6,949.9 1164.8,949.9 1162.1,950.0 1159.3,950.0 1156.5,950.0 1153.7,950.0 1150.9,950.0 1148.1,950.0 1145.3,950.0 1142.5,949.9 1139.7,949.9 1137.0,949.8 1134.2,949.7 1131.4,949.6 1128.6,949.5 1125.8,949.4 1123.1,949.2 1120.3,949.1 1117.5,948.9 1114.8,948.7 1112.0,948.5 1109.3,948.3 1106.5,948.1 1103.8,947.8 1101.1,947.6 1098.4,947.3 1095.6,947.0 1092.9,946.7 1090.2,946.4 1087.5,946.1 1084.8,945.8 1082.2,945.4 1079.5,945.1 1076.8,944.7 1074.2,944.3 1071.5,943.9 1068.9,943.5 1066.3,943.1 1063.7,942.7 1061.1,942.2 1058.5,941.8 1055.9,941.3 1053.4,940.8 1050.8,940.3 1048.3,939.8 1045.7,939.3 1043.2,938.8 1040.7,938.2 1038.2,937.7 1035.8,937.1 1033.3,936.5 1030.9,935.9 1028.4,935.3 1026.0,934.7 1023.6,934.1 1021.2,933.5 1018.9,932.8 1016.5,932.2 1014.2,931.5 1011.8,930.8 1009.5,930.1 1007.3,929.4 1005.0,928.7 1002.7,928.0 1000.5,927.3 998.3,926.5 996.1,925.8 993.9,925.0 991.7,924.3 989.6,923.5 987.5,922.7 985.4,921.9 983.3,921.1 981.2,920.3 979.1,919.4 977.1,918.6 975.1,917.8 973.1,916.9 971.1,916.1 969.2,915.2 967.3,914.3 965.4,913.4 963.5,912.5 961.6,911.6 959.8,910.7 957.9,909.8 956.1,908.9 954.4,908.0 952.6,907.0 950.9,906.1 949.1,905.1 947.4,904.2 945.8,903.2 944.1,902.2 942.5,901.3 940.9,900.3 939.3,899.3 937.7,898.3 936.2,897.3 934.7,896.3 933.2,895.3 931.7,894.2 930.3,893.2 928.9,892.2 927.5,891.2 926.1,890.1 924.7,889.1 923.4,888.0 922.1,887.0 920.8,885.9 919.5,884.9 918.3,883.8 917.1,882.7 915.9,881.6 914.7,880.6 913.6,879.5 912.5,878.4 911.4,877.3 910.3,876.2 909.2,875.1 908.2,874.0 907.2,872.9 906.2,871.8 905.3,870.7 904.3,869.6 903.4,868.5 902.5,867.4 901.7,866.2 900.8,865.1 900.0,864.0 899.2,862.9 898.5,861.7 897.7,860.6 897.0,859.5 896.3,858.4 895.6,857.2 895.0,856.1 894.3,855.0 893.7,853.8 893.2,852.7 892.6,851.6 892.1,850.4 891.5,849.3 891.1,848.1 890.6,847.0 890.1,845.9 889.7,844.7 889.3,843.6 888.9,842.4 888.6,841.3 888.3,840.2 887.9,839.0 887.7,837.9 887.4,836.8 887.1,835.6 886.9,834.5 886.7,833.3 886.5,832.2 886.4,831.1 886.3,829.9 892.1,884.4 892.2,885.6 892.4,886.8 892.6,888.0 892.8,889.2 893.0,890.4 893.2,891.6 893.5,892.8 893.8,894.0 894.1,895.2 894.4,896.4 894.8,897.6 895.2,898.8 895.6,900.0 896.0,901.2 896.5,902.4 896.9,903.6 897.4,904.8 897.9,906.0 898.5,907.1 899.0,908.3 899.6,909.5 900.2,910.7 900.8,911.9 901.5,913.1 902.1,914.3 902.8,915.5 903.5,916.7 904.3,917.8 905.0,919.0 905.8,920.2 906.6,921.4 907.4,922.6 908.3,923.7 909.2,924.9 910.1,926.1 911.0,927.2 911.9,928.4 912.9,929.6 913.9,930.7 914.9,931.9 915.9,933.0 917.0,934.2 918.1,935.3 919.2,936.4 920.3,937.6 921.4,938.7 922.6,939.8 923.8,941.0 925.0,942.1 926.3,943.2 927.5,944.3 928.8,945.4 930.1,946.5 931.4,947.6 932.8,948.7 934.2,949.8 935.6,950.8 937.0,951.9 938.4,953.0 939.9,954.1 941.4,955.1 942.9,956.2 944.4,957.2 946.0,958.2 947.5,959.3 949.1,960.3 950.7,961.3 952.4,962.3 954.0,963.3 955.7,964.3 957.4,965.3 959.1,966.3 960.9,967.3 962.7,968.2 964.4,969.2 966.2,970.1 968.1,971.1 969.9,972.0 971.8,972.9 973.7,973.8 975.6,974.7 977.5,975.6 979.5,976.5 981.4,977.4 983.4,978.3 985.4,979.1 987.4,980.0 989.5,980.8 991.5,981.7 993.6,982.5 995.7,983.3 997.8,984.1 999.9,984.9 1002.1,985.7 1004.3,986.5 1006.4,987.2 1008.6,988.0 1010.9,988.7 1013.1,989.5 1015.3,990.2 1017.6,990.9 1019.9,991.6 1022.2,992.3 1024.5,992.9 1026.8,993.6 1029.2,994.3 1031.5,994.9 1033.9,995.5 1036.3,996.1 1038.7,996.7 1041.1,997.3 1043.5,997.9 1046.0,998.5 1048.4,999.0 1050.9,999.6 1053.4,1000.1 1055.9,1000.6 1058.4,1001.1 1060.9,1001.6 1063.4,1002.1 1065.9,1002.6 1068.5,1003.0 1071.0,1003.5 1073.6,1003.9 1076.2,1004.3 1078.8,1004.7 1081.4,1005.1 1084.0,1005.5 1086.6,1005.8 1089.2,1006.2 1091.8,1006.5 1094.5,1006.8 1097.1,1007.1 1099.8,1007.4 1102.4,1007.7 1105.1,1007.9 1107.7,1008.2 1110.4,1008.4 1113.1,1008.6 1115.8,1008.9 1118.5,1009.0 1121.2,1009.2 1123.9,1009.4 1126.6,1009.5 1129.3,1009.7 1132.0,1009.8 1134.7,1009.9 1137.4,1010.0 1140.1,1010.1 1142.8,1010.1 1145.5,1010.2 1148.3,1010.2 1151.0,1010.2 1153.7,1010.3 1156.4,1010.2 1159.1,1010.2 1161.8,1010.2 1164.6,1010.1 1167.3,1010.1 1170.0,1010.0 1172.7,1009.9 1175.4,1009.8 1178.1,1009.7 1180.8,1009.5 1183.5,1009.4 1186.2,1009.2 1188.9,1009.0 1191.6,1008.9 1194.3,1008.6 1197.0,1008.4 1199.6,1008.2 1202.3,1007.9 1205.0,1007.7 1207.6,1007.4 1210.3,1007.1 1212.9,1006.8 1215.6,1006.5 1218.2,1006.2 1220.8,1005.8 1223.4,1005.5 1226.0,1005.1 1228.6,1004.7 1231.2,1004.3 1233.8,1003.9 1236.3,1003.5 1238.9,1003.0 1241.4,1002.6 1244.0,1002.1 1246.5,1001.6 1249.0,1001.1 1251.5,1000.6 1254.0,1000.1 1256.5,999.6 1258.9,999.0 1261.4,998.5 1263.8,997.9 1266.3,997.3 1268.7,996.7 1271.1,996.1 1273.5,995.5 1275.8,994.9 1278.2,994.3 1280.5,993.6 1282.9,992.9 1285.2,992.3 1287.5,991.6 1289.8,990.9 1292.0,990.2 1294.3,989.5 1296.5,988.7 1298.7,988.0 1300.9,987.2 1303.1,986.5 1305.3,985.7 1307.4,984.9 1309.6,984.1 1311.7,983.3 1313.8,982.5 1315.8,981.7 1317.9,980.8 1320.0,980.0 1322.0,979.1 1324.0,978.3 1326.0,977.4 1327.9,976.5 1329.9,975.6 1331.8,974.7 1333.7,973.8 1335.6,972.9 1337.5,972.0 1339.3,971.1 1341.1,970.1 1342.9,969.2 1344.7,968.2 1346.5,967.3 1348.2,966.3 1350.0,965.3 1351.7,964.3 1353.3,963.3 1355.0,962.3 1356.6,961.3 1358.2,960.3 1359.8,959.3 1361.4,958.2 1363.0,957.2 1364.5,956.2 1366.0,955.1 1367.5,954.1 1369.0,953.0 1370.4,951.9 1371.8,950.8 1373.2,949.8 1374.6,948.7 1375.9,947.6 1377.3,946.5 1378.6,945.4 1379.9,944.3 1381.1,943.2 1382.4,942.1 1383.6,941.0 1384.8,939.8 1385.9,938.7 1387.1,937.6 1388.2,936.4 1389.3,935.3 1390.4,934.2 1391.5,933.0 1392.5,931.9 1393.5,930.7 1394.5,929.6 1395.5,928.4 1396.4,927.2 1397.3,926.1 1398.2,924.9 1399.1,923.7 1399.9,922.6 1400.8,921.4 1401.6,920.2 1402.4,919.0 1403.1,917.8 1403.8,916.7 1404.6,915.5 1405.3,914.3 1405.9,913.1 1406.6,911.9 1407.2,910.7 1407.8,909.5 1408.4,908.3 1408.9,907.1 1409.5,906.0 1410.0,904.8 1410.5,903.6 1410.9,902.4 1411.4,901.2 1411.8,900.0 1412.2,898.8 1412.6,897.6 1412.9,896.4 1413.3,895.2 1413.6,894.0 1413.9,892.8 1414.1,891.6 1414.4,890.4 1414.6,889.2 1414.8,888.0 1415.0,886.8 1415.2,885.6 1415.3,884.4" fill="url(#gD)"/>
<polygon points="1153.7,696.8 1155.6,696.8 1157.6,696.8 1159.6,696.8 1161.5,696.8 1163.5,696.8 1165.4,696.9 1167.4,696.9 1169.3,697.0 1171.3,697.0 1173.3,697.1 1175.2,697.2 1177.2,697.2 1179.1,697.3 1181.1,697.4 1183.0,697.5 1185.0,697.6 1186.9,697.7 1188.8,697.9 1190.8,698.0 1192.7,698.1 1194.7,698.3 1196.6,698.4 1198.5,698.5 1200.5,698.7 1202.4,698.9 1204.3,699.0 1206.3,699.2 1208.2,699.4 1210.1,699.6 1212.0,699.8 1214.0,700.0 1215.9,700.2 1217.8,700.4 1219.7,700.7 1221.6,700.9 1223.5,701.1 1225.4,701.4 1227.3,701.6 1229.2,701.9 1231.1,702.2 1233.0,702.4 1234.9,702.7 1236.8,703.0 1238.6,703.3 1240.5,703.6 1242.4,703.9 1244.3,704.2 1246.1,704.5 1248.0,704.9 1249.8,705.2 1251.7,705.5 1253.5,705.9 1255.4,706.2 1257.2,706.6 1259.0,707.0 1260.9,707.3 1262.7,707.7 1264.5,708.1 1266.3,708.5 1268.1,708.9 1269.9,709.3 1271.7,709.7 1273.5,710.1 1275.3,710.6 1277.1,711.0 1278.9,711.5 1280.6,711.9 1282.4,712.4 1284.2,712.8 1285.9,713.3 1287.7,713.7 1289.4,714.2 1291.1,714.7 1292.9,715.2 1294.6,715.7 1296.3,716.2 1298.0,716.7 1299.7,717.2 1301.4,717.8 1303.1,718.3 1304.8,718.8 1306.4,719.4 1308.1,719.9 1309.8,720.5 1311.4,721.1 1313.1,721.6 1314.7,722.2 1316.3,722.8 1317.9,723.4 1319.6,724.0 1321.2,724.6 1322.8,725.2 1324.3,725.8 1325.9,726.4 1327.5,727.1 1329.0,727.7 1330.6,728.3 1332.1,729.0 1333.7,729.6 1335.2,730.3 1336.7,731.0 1338.2,731.6 1339.7,732.3 1341.2,733.0 1342.7,733.7 1344.2,734.4 1345.6,735.1 1347.1,735.8 1348.5,736.5 1349.9,737.2 1351.3,738.0 1352.8,738.7 1354.1,739.4 1355.5,740.2 1356.9,740.9 1358.3,741.7 1359.6,742.4 1361.0,743.2 1362.3,744.0 1363.6,744.8 1364.9,745.6 1366.2,746.4 1367.5,747.2 1368.8,748.0 1370.0,748.8 1371.3,749.6 1372.5,750.4 1373.7,751.2 1375.0,752.1 1376.2,752.9 1377.3,753.7 1378.5,754.6 1379.7,755.5 1380.8,756.3 1382.0,757.2 1383.1,758.1 1384.2,758.9 1385.3,759.8 1386.4,760.7 1387.4,761.6 1388.5,762.5 1389.5,763.4 1390.5,764.3 1391.5,765.2 1392.5,766.1 1393.5,767.1 1394.5,768.0 1395.4,768.9 1396.4,769.9 1397.3,770.8 1398.2,771.8 1399.1,772.7 1400.0,773.7 1400.8,774.6 1401.7,775.6 1402.5,776.6 1403.3,777.6 1404.1,778.5 1404.9,779.5 1405.7,780.5 1406.4,781.5 1407.1,782.5 1407.9,783.5 1408.6,784.5 1409.2,785.5 1409.9,786.6 1410.5,787.6 1411.2,788.6 1411.8,789.6 1412.4,790.7 1413.0,791.7 1413.5,792.7 1414.1,793.8 1414.6,794.8 1415.1,795.9 1415.6,796.9 1416.0,798.0 1416.5,799.1 1416.9,800.1 1417.3,801.2 1417.7,802.3 1418.1,803.4 1418.5,804.4 1418.8,805.5 1419.1,806.6 1419.4,807.7 1419.7,808.8 1419.9,809.9 1420.2,811.0 1420.4,812.1 1420.6,813.2 1420.8,814.3 1420.9,815.4 1421.1,816.5 1421.2,817.6 1421.3,818.7 1421.4,819.8 1421.4,820.9 1421.5,822.1 1421.5,823.2 1421.5,824.3 1421.4,825.4 1421.4,826.6 1421.3,827.7 1421.2,828.8 1421.1,829.9 1421.0,831.1 1420.8,832.2 1420.7,833.3 1420.5,834.5 1420.2,835.6 1420.0,836.8 1419.7,837.9 1419.4,839.0 1419.1,840.2 1418.8,841.3 1418.4,842.4 1418.1,843.6 1417.7,844.7 1417.2,845.9 1416.8,847.0 1416.3,848.1 1415.8,849.3 1415.3,850.4 1414.8,851.6 1414.2,852.7 1413.6,853.8 1413.0,855.0 1412.4,856.1 1411.8,857.2 1411.1,858.4 1410.4,859.5 1409.7,860.6 1408.9,861.7 1408.1,862.9 1407.3,864.0 1406.5,865.1 1405.7,866.2 1404.8,867.4 1403.9,868.5 1403.0,869.6 1402.1,870.7 1401.1,871.8 1400.2,872.9 1399.2,874.0 1398.1,875.1 1397.1,876.2 1396.0,877.3 1394.9,878.4 1393.8,879.5 1392.7,880.6 1391.5,881.6 1390.3,882.7 1389.1,883.8 1387.8,884.9 1386.6,885.9 1385.3,887.0 1384.0,888.0 1382.7,889.1 1381.3,890.1 1379.9,891.2 1378.5,892.2 1377.1,893.2 1375.6,894.2 1374.2,895.3 1372.7,896.3 1371.2,897.3 1369.6,898.3 1368.1,899.3 1366.5,900.3 1364.9,901.3 1363.3,902.2 1361.6,903.2 1359.9,904.2 1358.2,905.1 1356.5,906.1 1354.8,907.0 1353.0,908.0 1351.2,908.9 1349.4,909.8 1347.6,910.7 1345.8,911.6 1343.9,912.5 1342.0,913.4 1340.1,914.3 1338.2,915.2 1336.2,916.1 1334.3,916.9 1332.3,917.8 1330.3,918.6 1328.2,919.4 1326.2,920.3 1324.1,921.1 1322.0,921.9 1319.9,922.7 1317.8,923.5 1315.6,924.3 1313.5,925.0 1311.3,925.8 1309.1,926.5 1306.9,927.3 1304.7,928.0 1302.4,928.7 1300.1,929.4 1297.8,930.1 1295.5,930.8 1293.2,931.5 1290.9,932.2 1288.5,932.8 1286.2,933.5 1283.8,934.1 1281.4,934.7 1279.0,935.3 1276.5,935.9 1274.1,936.5 1271.6,937.1 1269.1,937.7 1266.7,938.2 1264.2,938.8 1261.6,939.3 1259.1,939.8 1256.6,940.3 1254.0,940.8 1251.5,941.3 1248.9,941.8 1246.3,942.2 1243.7,942.7 1241.1,943.1 1238.5,943.5 1235.8,943.9 1233.2,944.3 1230.5,944.7 1227.9,945.1 1225.2,945.4 1222.5,945.8 1219.8,946.1 1217.2,946.4 1214.4,946.7 1211.7,947.0 1209.0,947.3 1206.3,947.6 1203.6,947.8 1200.8,948.1 1198.1,948.3 1195.3,948.5 1192.6,948.7 1189.8,948.9 1187.1,949.1 1184.3,949.2 1181.5,949.4 1178.8,949.5 1176.0,949.6 1173.2,949.7 1170.4,949.8 1167.6,949.9 1164.8,949.9 1162.1,950.0 1159.3,950.0 1156.5,950.0 1153.7,950.0 1150.9,950.0 1148.1,950.0 1145.3,950.0 1142.5,949.9 1139.7,949.9 1137.0,949.8 1134.2,949.7 1131.4,949.6 1128.6,949.5 1125.8,949.4 1123.1,949.2 1120.3,949.1 1117.5,948.9 1114.8,948.7 1112.0,948.5 1109.3,948.3 1106.5,948.1 1103.8,947.8 1101.1,947.6 1098.4,947.3 1095.6,947.0 1092.9,946.7 1090.2,946.4 1087.5,946.1 1084.8,945.8 1082.2,945.4 1079.5,945.1 1076.8,944.7 1074.2,944.3 1071.5,943.9 1068.9,943.5 1066.3,943.1 1063.7,942.7 1061.1,942.2 1058.5,941.8 1055.9,941.3 1053.4,940.8 1050.8,940.3 1048.3,939.8 1045.7,939.3 1043.2,938.8 1040.7,938.2 1038.2,937.7 1035.8,937.1 1033.3,936.5 1030.9,935.9 1028.4,935.3 1026.0,934.7 1023.6,934.1 1021.2,933.5 1018.9,932.8 1016.5,932.2 1014.2,931.5 1011.8,930.8 1009.5,930.1 1007.3,929.4 1005.0,928.7 1002.7,928.0 1000.5,927.3 998.3,926.5 996.1,925.8 993.9,925.0 991.7,924.3 989.6,923.5 987.5,922.7 985.4,921.9 983.3,921.1 981.2,920.3 979.1,919.4 977.1,918.6 975.1,917.8 973.1,916.9 971.1,916.1 969.2,915.2 967.3,914.3 965.4,913.4 963.5,912.5 961.6,911.6 959.8,910.7 957.9,909.8 956.1,908.9 954.4,908.0 952.6,907.0 950.9,906.1 949.1,905.1 947.4,904.2 945.8,903.2 944.1,902.2 942.5,901.3 940.9,900.3 939.3,899.3 937.7,898.3 936.2,897.3 934.7,896.3 933.2,895.3 931.7,894.2 930.3,893.2 928.9,892.2 927.5,891.2 926.1,890.1 924.7,889.1 923.4,888.0 922.1,887.0 920.8,885.9 919.5,884.9 918.3,883.8 917.1,882.7 915.9,881.6 914.7,880.6 913.6,879.5 912.5,878.4 911.4,877.3 910.3,876.2 909.2,875.1 908.2,874.0 907.2,872.9 906.2,871.8 905.3,870.7 904.3,869.6 903.4,868.5 902.5,867.4 901.7,866.2 900.8,865.1 900.0,864.0 899.2,862.9 898.5,861.7 897.7,860.6 897.0,859.5 896.3,858.4 895.6,857.2 895.0,856.1 894.3,855.0 893.7,853.8 893.2,852.7 892.6,851.6 892.1,850.4 891.5,849.3 891.1,848.1 890.6,847.0 890.1,845.9 889.7,844.7 889.3,843.6 888.9,842.4 888.6,841.3 888.3,840.2 887.9,839.0 887.7,837.9 887.4,836.8 887.1,835.6 886.9,834.5 886.7,833.3 886.5,832.2 886.4,831.1 886.3,829.9 886.1,828.8 886.0,827.7 886.0,826.6 885.9,825.4 885.9,824.3 885.9,823.2 885.9,822.1 885.9,820.9 886.0,819.8 886.1,818.7 886.2,817.6 886.3,816.5 886.4,815.4 886.6,814.3 886.8,813.2 887.0,812.1 887.2,811.0 887.4,809.9 887.7,808.8 888.0,807.7 888.3,806.6 888.6,805.5 888.9,804.4 889.3,803.4 889.6,802.3 890.0,801.2 890.5,800.1 890.9,799.1 891.3,798.0 891.8,796.9 892.3,795.9 892.8,794.8 893.3,793.8 893.9,792.7 894.4,791.7 895.0,790.7 895.6,789.6 896.2,788.6 896.8,787.6 897.5,786.6 898.1,785.5 898.8,784.5 899.5,783.5 900.2,782.5 901.0,781.5 901.7,780.5 902.5,779.5 903.3,778.5 904.1,777.6 904.9,776.6 905.7,775.6 906.5,774.6 907.4,773.7 908.3,772.7 909.2,771.8 910.1,770.8 911.0,769.9 911.9,768.9 912.9,768.0 913.9,767.1 914.8,766.1 915.8,765.2 916.8,764.3 917.9,763.4 918.9,762.5 920.0,761.6 921.0,760.7 922.1,759.8 923.2,758.9 924.3,758.1 925.4,757.2 926.6,756.3 927.7,755.5 928.9,754.6 930.0,753.7 931.2,752.9 932.4,752.1 933.6,751.2 934.9,750.4 936.1,749.6 937.3,748.8 938.6,748.0 939.9,747.2 941.2,746.4 942.5,745.6 943.8,744.8 945.1,744.0 946.4,743.2 947.8,742.4 949.1,741.7 950.5,740.9 951.8,740.2 953.2,739.4 954.6,738.7 956.0,738.0 957.5,737.2 958.9,736.5 960.3,735.8 961.8,735.1 963.2,734.4 964.7,733.7 966.2,733.0 967.7,732.3 969.2,731.6 970.7,731.0 972.2,730.3 973.7,729.6 975.2,729.0 976.8,728.3 978.3,727.7 979.9,727.1 981.5,726.4 983.0,725.8 984.6,725.2 986.2,724.6 987.8,724.0 989.4,723.4 991.1,722.8 992.7,722.2 994.3,721.6 996.0,721.1 997.6,720.5 999.3,719.9 1000.9,719.4 1002.6,718.8 1004.3,718.3 1006.0,717.8 1007.7,717.2 1009.4,716.7 1011.1,716.2 1012.8,715.7 1014.5,715.2 1016.2,714.7 1018.0,714.2 1019.7,713.7 1021.5,713.3 1023.2,712.8 1025.0,712.4 1026.7,711.9 1028.5,711.5 1030.3,711.0 1032.1,710.6 1033.8,710.1 1035.6,709.7 1037.4,709.3 1039.2,708.9 1041.0,708.5 1042.9,708.1 1044.7,707.7 1046.5,707.3 1048.3,707.0 1050.2,706.6 1052.0,706.2 1053.8,705.9 1055.7,705.5 1057.5,705.2 1059.4,704.9 1061.3,704.5 1063.1,704.2 1065.0,703.9 1066.9,703.6 1068.7,703.3 1070.6,703.0 1072.5,702.7 1074.4,702.4 1076.3,702.2 1078.2,701.9 1080.1,701.6 1082.0,701.4 1083.9,701.1 1085.8,700.9 1087.7,700.7 1089.6,700.4 1091.5,700.2 1093.4,700.0 1095.3,699.8 1097.3,699.6 1099.2,699.4 1101.1,699.2 1103.0,699.0 1105.0,698.9 1106.9,698.7 1108.8,698.5 1110.8,698.4 1112.7,698.3 1114.6,698.1 1116.6,698.0 1118.5,697.9 1120.5,697.7 1122.4,697.6 1124.4,697.5 1126.3,697.4 1128.3,697.3 1130.2,697.2 1132.2,697.2 1134.1,697.1 1136.1,697.0 1138.0,697.0 1140.0,696.9 1141.9,696.9 1143.9,696.8 1145.9,696.8 1147.8,696.8 1149.8,696.8 1151.7,696.8 1153.7,696.8" fill="#F8BC00"/>
<polygon points="1153.7,801.2 1135.3,697.1 1140.5,696.9 1145.6,696.8 1150.8,696.8 1156.0,696.8 1161.1,696.8" fill="#fff"/>
<polygon points="1153.7,801.2 1135.3,697.1 1140.5,696.9 1145.7,696.8 1150.9,696.8" fill="#4BACC6" stroke="#fff" stroke-width="1.6" stroke-linejoin="round"/>
<polygon points="1153.7,801.2 1154.5,696.8 1159.6,696.8" fill="#4F81BD" stroke="#fff" stroke-width="1.6" stroke-linejoin="round"/>
<polygon points="1153.7,801.2 1161.1,696.8 1166.9,696.9 1172.6,697.1 1178.3,697.3 1184.0,697.6 1189.8,697.9 1195.4,698.3 1201.1,698.8 1206.8,699.3 1212.4,699.8 1218.0,700.5 1223.6,701.2 1229.2,701.9 1234.8,702.7 1240.3,703.6 1245.8,704.5 1251.2,705.5 1256.6,706.5 1262.0,707.6 1267.3,708.7 1272.6,709.9 1277.8,711.2 1283.0,712.5 1288.1,713.9 1293.2,715.3 1298.2,716.8 1303.2,718.3 1308.1,719.9" fill="#9BBB59" stroke="#fff" stroke-width="1.6" stroke-linejoin="round"/>
<polyline points="1421.1,829.9 1421.0,831.1 1420.8,832.2 1420.7,833.3 1420.5,834.5 1420.2,835.6 1420.0,836.8 1419.7,837.9 1419.4,839.0 1419.1,840.2 1418.8,841.3 1418.4,842.4 1418.1,843.6 1417.7,844.7 1417.2,845.9 1416.8,847.0 1416.3,848.1 1415.8,849.3 1415.3,850.4 1414.8,851.6 1414.2,852.7 1413.6,853.8 1413.0,855.0 1412.4,856.1 1411.8,857.2 1411.1,858.4 1410.4,859.5 1409.7,860.6 1408.9,861.7 1408.1,862.9 1407.3,864.0 1406.5,865.1 1405.7,866.2 1404.8,867.4 1403.9,868.5 1403.0,869.6 1402.1,870.7 1401.1,871.8 1400.2,872.9 1399.2,874.0 1398.1,875.1 1397.1,876.2 1396.0,877.3 1394.9,878.4 1393.8,879.5 1392.7,880.6 1391.5,881.6 1390.3,882.7 1389.1,883.8 1387.8,884.9 1386.6,885.9 1385.3,887.0 1384.0,888.0 1382.7,889.1 1381.3,890.1 1379.9,891.2 1378.5,892.2 1377.1,893.2 1375.6,894.2 1374.2,895.3 1372.7,896.3 1371.2,897.3 1369.6,898.3 1368.1,899.3 1366.5,900.3 1364.9,901.3 1363.3,902.2 1361.6,903.2 1359.9,904.2 1358.2,905.1 1356.5,906.1 1354.8,907.0 1353.0,908.0 1351.2,908.9 1349.4,909.8 1347.6,910.7 1345.8,911.6 1343.9,912.5 1342.0,913.4 1340.1,914.3 1338.2,915.2 1336.2,916.1 1334.3,916.9 1332.3,917.8 1330.3,918.6 1328.2,919.4 1326.2,920.3 1324.1,921.1 1322.0,921.9 1319.9,922.7 1317.8,923.5 1315.6,924.3 1313.5,925.0 1311.3,925.8 1309.1,926.5 1306.9,927.3 1304.7,928.0 1302.4,928.7 1300.1,929.4 1297.8,930.1 1295.5,930.8 1293.2,931.5 1290.9,932.2 1288.5,932.8 1286.2,933.5 1283.8,934.1 1281.4,934.7 1279.0,935.3 1276.5,935.9 1274.1,936.5 1271.6,937.1 1269.1,937.7 1266.7,938.2 1264.2,938.8 1261.6,939.3 1259.1,939.8 1256.6,940.3 1254.0,940.8 1251.5,941.3 1248.9,941.8 1246.3,942.2 1243.7,942.7 1241.1,943.1 1238.5,943.5 1235.8,943.9 1233.2,944.3 1230.5,944.7 1227.9,945.1 1225.2,945.4 1222.5,945.8 1219.8,946.1 1217.2,946.4 1214.4,946.7 1211.7,947.0 1209.0,947.3 1206.3,947.6 1203.6,947.8 1200.8,948.1 1198.1,948.3 1195.3,948.5 1192.6,948.7 1189.8,948.9 1187.1,949.1 1184.3,949.2 1181.5,949.4 1178.8,949.5 1176.0,949.6 1173.2,949.7 1170.4,949.8 1167.6,949.9 1164.8,949.9 1162.1,950.0 1159.3,950.0 1156.5,950.0 1153.7,950.0 1150.9,950.0 1148.1,950.0 1145.3,950.0 1142.5,949.9 1139.7,949.9 1137.0,949.8 1134.2,949.7 1131.4,949.6 1128.6,949.5 1125.8,949.4 1123.1,949.2 1120.3,949.1 1117.5,948.9 1114.8,948.7 1112.0,948.5 1109.3,948.3 1106.5,948.1 1103.8,947.8 1101.1,947.6 1098.4,947.3 1095.6,947.0 1092.9,946.7 1090.2,946.4 1087.5,946.1 1084.8,945.8 1082.2,945.4 1079.5,945.1 1076.8,944.7 1074.2,944.3 1071.5,943.9 1068.9,943.5 1066.3,943.1 1063.7,942.7 1061.1,942.2 1058.5,941.8 1055.9,941.3 1053.4,940.8 1050.8,940.3 1048.3,939.8 1045.7,939.3 1043.2,938.8 1040.7,938.2 1038.2,937.7 1035.8,937.1 1033.3,936.5 1030.9,935.9 1028.4,935.3 1026.0,934.7 1023.6,934.1 1021.2,933.5 1018.9,932.8 1016.5,932.2 1014.2,931.5 1011.8,930.8 1009.5,930.1 1007.3,929.4 1005.0,928.7 1002.7,928.0 1000.5,927.3 998.3,926.5 996.1,925.8 993.9,925.0 991.7,924.3 989.6,923.5 987.5,922.7 985.4,921.9 983.3,921.1 981.2,920.3 979.1,919.4 977.1,918.6 975.1,917.8 973.1,916.9 971.1,916.1 969.2,915.2 967.3,914.3 965.4,913.4 963.5,912.5 961.6,911.6 959.8,910.7 957.9,909.8 956.1,908.9 954.4,908.0 952.6,907.0 950.9,906.1 949.1,905.1 947.4,904.2 945.8,903.2 944.1,902.2 942.5,901.3 940.9,900.3 939.3,899.3 937.7,898.3 936.2,897.3 934.7,896.3 933.2,895.3 931.7,894.2 930.3,893.2 928.9,892.2 927.5,891.2 926.1,890.1 924.7,889.1 923.4,888.0 922.1,887.0 920.8,885.9 919.5,884.9 918.3,883.8 917.1,882.7 915.9,881.6 914.7,880.6 913.6,879.5 912.5,878.4 911.4,877.3 910.3,876.2 909.2,875.1 908.2,874.0 907.2,872.9 906.2,871.8 905.3,870.7 904.3,869.6 903.4,868.5 902.5,867.4 901.7,866.2 900.8,865.1 900.0,864.0 899.2,862.9 898.5,861.7 897.7,860.6 897.0,859.5 896.3,858.4 895.6,857.2 895.0,856.1 894.3,855.0 893.7,853.8 893.2,852.7 892.6,851.6 892.1,850.4 891.5,849.3 891.1,848.1 890.6,847.0 890.1,845.9 889.7,844.7 889.3,843.6 888.9,842.4 888.6,841.3 888.3,840.2 887.9,839.0 887.7,837.9 887.4,836.8 887.1,835.6 886.9,834.5 886.7,833.3 886.5,832.2 886.4,831.1 886.3,829.9" fill="none" stroke="#fff" stroke-width="2.6"/>
<polygon points="909.8,665.6 1030.9,665.6 1030.9,692.6 1150.0,697.7 1030.9,704.7 1030.9,714.5 909.8,714.5" fill="#fff" stroke="#BFBFBF" stroke-width="2.2" stroke-linejoin="miter"/>
<text x="969.5" y="686.7" font-size="17.2" text-anchor="middle" fill="#000">pseudogene</text><text x="969.5" y="707.4" font-size="17.2" text-anchor="middle" fill="#000">1%</text>
<polygon points="1049.6,608.6 1148.0,608.6 1148.0,676.2 1146.0,676.2 1155.9,697.7 1128.0,676.2 1049.6,676.2" fill="#fff" stroke="#BFBFBF" stroke-width="2.2" stroke-linejoin="miter"/>
<text x="1098.5" y="630.5" font-size="17.2" text-anchor="middle" fill="#f00">anitsense</text><text x="1098.5" y="650.8" font-size="17.2" text-anchor="middle" fill="#f00">lncRNA</text><text x="1098.5" y="667.2" font-size="17.2" text-anchor="middle" fill="#f00">1%</text>
<polygon points="1243.8,633.2 1365.6,633.2 1365.6,702.3 1243.8,702.3 1243.8,691.8 1159.8,698.4 1243.8,672.3" fill="#fff" stroke="#BFBFBF" stroke-width="2.2" stroke-linejoin="miter"/>
<text x="1304.5" y="654.7" font-size="17.2" text-anchor="middle" fill="#000">bidirectional</text><text x="1304.5" y="674.2" font-size="17.2" text-anchor="middle" fill="#000">promoter</text><text x="1304.5" y="691.5" font-size="17.2" text-anchor="middle" fill="#000">&lt;1%</text>
<polygon points="1395.3,709.4 1476.0,709.4 1476.0,758.2 1395.3,758.2 1395.3,721.1 1239.8,704.7 1395.3,713.3" fill="#fff" stroke="#BFBFBF" stroke-width="2.2" stroke-linejoin="miter"/>
<text x="1436.0" y="730.9" font-size="17.2" text-anchor="middle" fill="#f00">lncRNA</text><text x="1436.0" y="750.4" font-size="17.2" text-anchor="middle" fill="#f00">11%</text>
<polygon points="1030.9,736.7 1099.2,736.7 1153.9,699.6 1134.4,736.7 1150.0,736.7 1150.0,785.5 1030.9,785.5" fill="#fff" stroke="#BFBFBF" stroke-width="2.2" stroke-linejoin="miter"/>
<text x="1090.4" y="758.2" font-size="17.2" text-anchor="middle" fill="#000">unclassified</text><text x="1090.4" y="777.7" font-size="17.2" text-anchor="middle" fill="#000">&lt;1%</text>
<polygon points="1011.1,820.3 1087.5,820.3 1087.5,888.6 1074.5,888.6 1052.1,941.8 1055.8,888.6 1011.1,888.6" fill="#fff" stroke="#BFBFBF" stroke-width="2.2" stroke-linejoin="miter"/>
<text x="1049.3" y="842.2" font-size="17.2" text-anchor="middle" fill="#000">protein</text><text x="1049.3" y="862.1" font-size="17.2" text-anchor="middle" fill="#000">coding</text><text x="1049.3" y="879.6" font-size="17.2" text-anchor="middle" fill="#000">87%</text>
<polygon points="1414.9,1484.6 1414.8,1485.8 1414.6,1486.9 1414.4,1488.1 1414.2,1489.2 1414.0,1490.4 1413.8,1491.5 1413.5,1492.7 1413.2,1493.8 1412.9,1495.0 1412.5,1496.2 1412.2,1497.3 1411.8,1498.5 1411.4,1499.6 1411.0,1500.8 1410.5,1501.9 1410.0,1503.1 1409.5,1504.2 1409.0,1505.4 1408.5,1506.5 1407.9,1507.7 1407.3,1508.8 1406.7,1510.0 1406.1,1511.2 1405.4,1512.3 1404.7,1513.4 1404.0,1514.6 1403.3,1515.7 1402.5,1516.9 1401.7,1518.0 1400.9,1519.2 1400.1,1520.3 1399.3,1521.4 1398.4,1522.6 1397.5,1523.7 1396.6,1524.8 1395.6,1526.0 1394.7,1527.1 1393.7,1528.2 1392.6,1529.3 1391.6,1530.4 1390.5,1531.5 1389.4,1532.7 1388.3,1533.8 1387.2,1534.9 1386.0,1536.0 1384.9,1537.0 1383.6,1538.1 1382.4,1539.2 1381.2,1540.3 1379.9,1541.4 1378.6,1542.5 1377.3,1543.5 1375.9,1544.6 1374.5,1545.6 1373.1,1546.7 1371.7,1547.8 1370.3,1548.8 1368.8,1549.8 1367.3,1550.9 1365.8,1551.9 1364.3,1552.9 1362.7,1553.9 1361.1,1554.9 1359.5,1555.9 1357.9,1556.9 1356.2,1557.9 1354.6,1558.9 1352.9,1559.9 1351.1,1560.9 1349.4,1561.8 1347.6,1562.8 1345.9,1563.7 1344.1,1564.7 1342.2,1565.6 1340.4,1566.5 1338.5,1567.5 1336.6,1568.4 1334.7,1569.3 1332.8,1570.2 1330.8,1571.1 1328.8,1571.9 1326.8,1572.8 1324.8,1573.7 1322.8,1574.5 1320.7,1575.4 1318.6,1576.2 1316.6,1577.0 1314.4,1577.9 1312.3,1578.7 1310.1,1579.5 1308.0,1580.3 1305.8,1581.0 1303.6,1581.8 1301.3,1582.6 1299.1,1583.3 1296.8,1584.1 1294.5,1584.8 1292.2,1585.5 1289.9,1586.2 1287.6,1586.9 1285.2,1587.6 1282.8,1588.3 1280.5,1588.9 1278.1,1589.6 1275.6,1590.2 1273.2,1590.9 1270.8,1591.5 1268.3,1592.1 1265.8,1592.7 1263.3,1593.3 1260.8,1593.9 1258.3,1594.4 1255.8,1595.0 1253.2,1595.5 1250.6,1596.0 1248.1,1596.5 1245.5,1597.0 1242.9,1597.5 1240.3,1598.0 1237.6,1598.5 1235.0,1598.9 1232.4,1599.4 1229.7,1599.8 1227.0,1600.2 1224.4,1600.6 1221.7,1601.0 1219.0,1601.4 1216.3,1601.7 1213.6,1602.1 1210.8,1602.4 1208.1,1602.7 1205.4,1603.1 1202.6,1603.3 1199.9,1603.6 1197.1,1603.9 1194.3,1604.2 1191.6,1604.4 1188.8,1604.6 1186.0,1604.8 1183.2,1605.0 1180.4,1605.2 1177.6,1605.4 1174.8,1605.6 1172.0,1605.7 1169.2,1605.8 1166.4,1606.0 1163.5,1606.1 1160.7,1606.1 1157.9,1606.2 1155.1,1606.3 1152.2,1606.3 1149.4,1606.4 1146.6,1606.4 1143.8,1606.4 1140.9,1606.4 1138.1,1606.4 1135.3,1606.3 1132.4,1606.3 1129.6,1606.2 1126.8,1606.1 1124.0,1606.1 1121.2,1606.0 1118.3,1605.8 1115.5,1605.7 1112.7,1605.6 1109.9,1605.4 1107.1,1605.2 1104.3,1605.0 1101.5,1604.8 1098.7,1604.6 1096.0,1604.4 1093.2,1604.2 1090.4,1603.9 1087.7,1603.6 1084.9,1603.3 1082.2,1603.1 1079.4,1602.7 1076.7,1602.4 1074.0,1602.1 1071.2,1601.7 1068.5,1601.4 1065.8,1601.0 1063.1,1600.6 1060.5,1600.2 1057.8,1599.8 1055.1,1599.4 1052.5,1598.9 1049.9,1598.5 1047.2,1598.0 1044.6,1597.5 1042.0,1597.0 1039.4,1596.5 1036.9,1596.0 1034.3,1595.5 1031.8,1595.0 1029.2,1594.4 1026.7,1593.9 1024.2,1593.3 1021.7,1592.7 1019.2,1592.1 1016.8,1591.5 1014.3,1590.9 1011.9,1590.2 1009.5,1589.6 1007.0,1588.9 1004.7,1588.3 1002.3,1587.6 999.9,1586.9 997.6,1586.2 995.3,1585.5 993.0,1584.8 990.7,1584.1 988.4,1583.3 986.2,1582.6 984.0,1581.8 981.7,1581.0 979.5,1580.3 977.4,1579.5 975.2,1578.7 973.1,1577.9 971.0,1577.0 968.9,1576.2 966.8,1575.4 964.7,1574.5 962.7,1573.7 960.7,1572.8 958.7,1571.9 956.7,1571.1 954.7,1570.2 952.8,1569.3 950.9,1568.4 949.0,1567.5 947.1,1566.5 945.3,1565.6 943.5,1564.7 941.6,1563.7 939.9,1562.8 938.1,1561.8 936.4,1560.9 934.6,1559.9 932.9,1558.9 931.3,1557.9 929.6,1556.9 928.0,1555.9 926.4,1554.9 924.8,1553.9 923.3,1552.9 921.7,1551.9 920.2,1550.9 918.7,1549.8 917.2,1548.8 915.8,1547.8 914.4,1546.7 913.0,1545.6 911.6,1544.6 910.3,1543.5 908.9,1542.5 907.6,1541.4 906.4,1540.3 905.1,1539.2 903.9,1538.1 902.7,1537.0 901.5,1536.0 900.3,1534.9 899.2,1533.8 898.1,1532.7 897.0,1531.5 895.9,1530.4 894.9,1529.3 893.9,1528.2 892.9,1527.1 891.9,1526.0 890.9,1524.8 890.0,1523.7 889.1,1522.6 888.2,1521.4 887.4,1520.3 886.6,1519.2 885.8,1518.0 885.0,1516.9 884.2,1515.7 883.5,1514.6 882.8,1513.4 882.1,1512.3 881.4,1511.2 880.8,1510.0 880.2,1508.8 879.6,1507.7 879.0,1506.5 878.5,1505.4 878.0,1504.2 877.5,1503.1 877.0,1501.9 876.5,1500.8 876.1,1499.6 875.7,1498.5 875.3,1497.3 875.0,1496.2 874.6,1495.0 874.3,1493.8 874.0,1492.7 873.8,1491.5 873.5,1490.4 873.3,1489.2 873.1,1488.1 872.9,1486.9 872.7,1485.8 872.6,1484.6 878.5,1539.7 878.6,1540.9 878.8,1542.1 879.0,1543.3 879.2,1544.5 879.4,1545.7 879.7,1546.9 879.9,1548.1 880.2,1549.3 880.6,1550.6 880.9,1551.8 881.3,1553.0 881.6,1554.2 882.0,1555.4 882.5,1556.6 882.9,1557.8 883.4,1559.0 883.9,1560.3 884.4,1561.5 884.9,1562.7 885.5,1563.9 886.1,1565.1 886.7,1566.3 887.3,1567.5 888.0,1568.7 888.7,1569.9 889.4,1571.1 890.1,1572.3 890.8,1573.5 891.6,1574.7 892.4,1575.9 893.2,1577.1 894.1,1578.3 894.9,1579.5 895.8,1580.7 896.7,1581.9 897.7,1583.0 898.6,1584.2 899.6,1585.4 900.6,1586.6 901.6,1587.7 902.7,1588.9 903.7,1590.1 904.8,1591.2 905.9,1592.4 907.1,1593.5 908.3,1594.7 909.4,1595.8 910.6,1596.9 911.9,1598.1 913.1,1599.2 914.4,1600.3 915.7,1601.5 917.0,1602.6 918.4,1603.7 919.8,1604.8 921.2,1605.9 922.6,1607.0 924.0,1608.1 925.5,1609.1 927.0,1610.2 928.5,1611.3 930.0,1612.4 931.5,1613.4 933.1,1614.5 934.7,1615.5 936.3,1616.5 938.0,1617.6 939.6,1618.6 941.3,1619.6 943.0,1620.6 944.7,1621.6 946.5,1622.6 948.3,1623.6 950.0,1624.6 951.9,1625.6 953.7,1626.5 955.5,1627.5 957.4,1628.4 959.3,1629.4 961.2,1630.3 963.2,1631.2 965.1,1632.1 967.1,1633.0 969.1,1633.9 971.1,1634.8 973.1,1635.7 975.2,1636.5 977.2,1637.4 979.3,1638.2 981.4,1639.1 983.6,1639.9 985.7,1640.7 987.9,1641.5 990.0,1642.3 992.2,1643.1 994.5,1643.9 996.7,1644.6 998.9,1645.4 1001.2,1646.1 1003.5,1646.8 1005.8,1647.6 1008.1,1648.3 1010.4,1649.0 1012.8,1649.6 1015.1,1650.3 1017.5,1651.0 1019.9,1651.6 1022.3,1652.3 1024.7,1652.9 1027.2,1653.5 1029.6,1654.1 1032.1,1654.7 1034.5,1655.3 1037.0,1655.8 1039.5,1656.4 1042.0,1656.9 1044.6,1657.4 1047.1,1657.9 1049.6,1658.4 1052.2,1658.9 1054.8,1659.4 1057.4,1659.9 1060.0,1660.3 1062.6,1660.7 1065.2,1661.2 1067.8,1661.6 1070.4,1661.9 1073.1,1662.3 1075.7,1662.7 1078.4,1663.0 1081.0,1663.4 1083.7,1663.7 1086.4,1664.0 1089.1,1664.3 1091.8,1664.6 1094.5,1664.8 1097.2,1665.1 1099.9,1665.3 1102.6,1665.6 1105.3,1665.8 1108.0,1666.0 1110.8,1666.1 1113.5,1666.3 1116.2,1666.5 1119.0,1666.6 1121.7,1666.7 1124.5,1666.8 1127.2,1666.9 1130.0,1667.0 1132.7,1667.1 1135.5,1667.1 1138.2,1667.2 1141.0,1667.2 1143.8,1667.2 1146.5,1667.2 1149.3,1667.2 1152.0,1667.1 1154.8,1667.1 1157.5,1667.0 1160.3,1666.9 1163.0,1666.8 1165.8,1666.7 1168.5,1666.6 1171.3,1666.5 1174.0,1666.3 1176.7,1666.1 1179.5,1666.0 1182.2,1665.8 1184.9,1665.6 1187.6,1665.3 1190.4,1665.1 1193.1,1664.8 1195.8,1664.6 1198.4,1664.3 1201.1,1664.0 1203.8,1663.7 1206.5,1663.4 1209.2,1663.0 1211.8,1662.7 1214.5,1662.3 1217.1,1661.9 1219.7,1661.6 1222.3,1661.2 1225.0,1660.7 1227.6,1660.3 1230.2,1659.9 1232.7,1659.4 1235.3,1658.9 1237.9,1658.4 1240.4,1657.9 1242.9,1657.4 1245.5,1656.9 1248.0,1656.4 1250.5,1655.8 1253.0,1655.3 1255.4,1654.7 1257.9,1654.1 1260.4,1653.5 1262.8,1652.9 1265.2,1652.3 1267.6,1651.6 1270.0,1651.0 1272.4,1650.3 1274.7,1649.6 1277.1,1649.0 1279.4,1648.3 1281.7,1647.6 1284.0,1646.8 1286.3,1646.1 1288.6,1645.4 1290.8,1644.6 1293.1,1643.9 1295.3,1643.1 1297.5,1642.3 1299.6,1641.5 1301.8,1640.7 1304.0,1639.9 1306.1,1639.1 1308.2,1638.2 1310.3,1637.4 1312.3,1636.5 1314.4,1635.7 1316.4,1634.8 1318.4,1633.9 1320.4,1633.0 1322.4,1632.1 1324.4,1631.2 1326.3,1630.3 1328.2,1629.4 1330.1,1628.4 1332.0,1627.5 1333.8,1626.5 1335.7,1625.6 1337.5,1624.6 1339.3,1623.6 1341.0,1622.6 1342.8,1621.6 1344.5,1620.6 1346.2,1619.6 1347.9,1618.6 1349.5,1617.6 1351.2,1616.5 1352.8,1615.5 1354.4,1614.5 1356.0,1613.4 1357.5,1612.4 1359.0,1611.3 1360.6,1610.2 1362.0,1609.1 1363.5,1608.1 1364.9,1607.0 1366.4,1605.9 1367.7,1604.8 1369.1,1603.7 1370.5,1602.6 1371.8,1601.5 1373.1,1600.3 1374.4,1599.2 1375.6,1598.1 1376.9,1596.9 1378.1,1595.8 1379.3,1594.7 1380.4,1593.5 1381.6,1592.4 1382.7,1591.2 1383.8,1590.1 1384.9,1588.9 1385.9,1587.7 1386.9,1586.6 1387.9,1585.4 1388.9,1584.2 1389.9,1583.0 1390.8,1581.9 1391.7,1580.7 1392.6,1579.5 1393.4,1578.3 1394.3,1577.1 1395.1,1575.9 1395.9,1574.7 1396.7,1573.5 1397.4,1572.3 1398.1,1571.1 1398.8,1569.9 1399.5,1568.7 1400.2,1567.5 1400.8,1566.3 1401.4,1565.1 1402.0,1563.9 1402.6,1562.7 1403.1,1561.5 1403.6,1560.3 1404.1,1559.0 1404.6,1557.8 1405.0,1556.6 1405.5,1555.4 1405.9,1554.2 1406.3,1553.0 1406.6,1551.8 1407.0,1550.6 1407.3,1549.3 1407.6,1548.1 1407.8,1546.9 1408.1,1545.7 1408.3,1544.5 1408.5,1543.3 1408.7,1542.1 1408.9,1540.9 1409.0,1539.7" fill="url(#gF)"/>
<polygon points="1143.8,1349.6 1145.7,1349.6 1147.7,1349.6 1149.7,1349.6 1151.7,1349.7 1153.7,1349.7 1155.7,1349.7 1157.6,1349.8 1159.6,1349.8 1161.6,1349.9 1163.6,1349.9 1165.6,1350.0 1167.5,1350.1 1169.5,1350.2 1171.5,1350.3 1173.5,1350.4 1175.5,1350.5 1177.4,1350.6 1179.4,1350.7 1181.4,1350.8 1183.3,1351.0 1185.3,1351.1 1187.3,1351.3 1189.2,1351.4 1191.2,1351.6 1193.2,1351.7 1195.1,1351.9 1197.1,1352.1 1199.0,1352.3 1201.0,1352.5 1202.9,1352.7 1204.9,1352.9 1206.8,1353.1 1208.8,1353.3 1210.7,1353.6 1212.6,1353.8 1214.6,1354.0 1216.5,1354.3 1218.4,1354.6 1220.3,1354.8 1222.3,1355.1 1224.2,1355.4 1226.1,1355.6 1228.0,1355.9 1229.9,1356.2 1231.8,1356.5 1233.7,1356.9 1235.6,1357.2 1237.5,1357.5 1239.4,1357.8 1241.2,1358.2 1243.1,1358.5 1245.0,1358.9 1246.9,1359.2 1248.7,1359.6 1250.6,1360.0 1252.4,1360.3 1254.3,1360.7 1256.1,1361.1 1258.0,1361.5 1259.8,1361.9 1261.6,1362.3 1263.4,1362.8 1265.3,1363.2 1267.1,1363.6 1268.9,1364.1 1270.7,1364.5 1272.5,1364.9 1274.3,1365.4 1276.1,1365.9 1277.8,1366.3 1279.6,1366.8 1281.4,1367.3 1283.1,1367.8 1284.9,1368.3 1286.6,1368.8 1288.4,1369.3 1290.1,1369.8 1291.8,1370.4 1293.5,1370.9 1295.2,1371.4 1296.9,1372.0 1298.6,1372.5 1300.3,1373.1 1302.0,1373.7 1303.7,1374.2 1305.3,1374.8 1307.0,1375.4 1308.7,1376.0 1310.3,1376.6 1311.9,1377.2 1313.6,1377.8 1315.2,1378.4 1316.8,1379.1 1318.4,1379.7 1320.0,1380.3 1321.6,1381.0 1323.1,1381.6 1324.7,1382.3 1326.2,1382.9 1327.8,1383.6 1329.3,1384.3 1330.9,1385.0 1332.4,1385.6 1333.9,1386.3 1335.4,1387.0 1336.9,1387.7 1338.3,1388.5 1339.8,1389.2 1341.3,1389.9 1342.7,1390.6 1344.2,1391.4 1345.6,1392.1 1347.0,1392.9 1348.4,1393.6 1349.8,1394.4 1351.2,1395.1 1352.6,1395.9 1353.9,1396.7 1355.3,1397.5 1356.6,1398.3 1357.9,1399.1 1359.2,1399.9 1360.5,1400.7 1361.8,1401.5 1363.1,1402.3 1364.4,1403.2 1365.6,1404.0 1366.9,1404.8 1368.1,1405.7 1369.3,1406.5 1370.5,1407.4 1371.7,1408.2 1372.9,1409.1 1374.0,1410.0 1375.2,1410.9 1376.3,1411.7 1377.5,1412.6 1378.6,1413.5 1379.7,1414.4 1380.7,1415.3 1381.8,1416.2 1382.9,1417.2 1383.9,1418.1 1384.9,1419.0 1385.9,1419.9 1386.9,1420.9 1387.9,1421.8 1388.9,1422.8 1389.8,1423.7 1390.8,1424.7 1391.7,1425.6 1392.6,1426.6 1393.5,1427.6 1394.3,1428.6 1395.2,1429.5 1396.0,1430.5 1396.9,1431.5 1397.7,1432.5 1398.5,1433.5 1399.2,1434.5 1400.0,1435.5 1400.7,1436.5 1401.5,1437.6 1402.2,1438.6 1402.9,1439.6 1403.5,1440.6 1404.2,1441.7 1404.8,1442.7 1405.4,1443.8 1406.0,1444.8 1406.6,1445.9 1407.2,1446.9 1407.7,1448.0 1408.3,1449.0 1408.8,1450.1 1409.3,1451.2 1409.8,1452.3 1410.2,1453.3 1410.6,1454.4 1411.1,1455.5 1411.5,1456.6 1411.8,1457.7 1412.2,1458.8 1412.5,1459.9 1412.9,1461.0 1413.2,1462.1 1413.5,1463.2 1413.7,1464.3 1414.0,1465.4 1414.2,1466.5 1414.4,1467.6 1414.6,1468.7 1414.7,1469.9 1414.9,1471.0 1415.0,1472.1 1415.1,1473.2 1415.2,1474.4 1415.2,1475.5 1415.3,1476.6 1415.3,1477.8 1415.3,1478.9 1415.2,1480.1 1415.2,1481.2 1415.1,1482.3 1415.0,1483.5 1414.9,1484.6 1414.8,1485.8 1414.6,1486.9 1414.4,1488.1 1414.2,1489.2 1414.0,1490.4 1413.8,1491.5 1413.5,1492.7 1413.2,1493.8 1412.9,1495.0 1412.5,1496.2 1412.2,1497.3 1411.8,1498.5 1411.4,1499.6 1411.0,1500.8 1410.5,1501.9 1410.0,1503.1 1409.5,1504.2 1409.0,1505.4 1408.5,1506.5 1407.9,1507.7 1407.3,1508.8 1406.7,1510.0 1406.1,1511.2 1405.4,1512.3 1404.7,1513.4 1404.0,1514.6 1403.3,1515.7 1402.5,1516.9 1401.7,1518.0 1400.9,1519.2 1400.1,1520.3 1399.3,1521.4 1398.4,1522.6 1397.5,1523.7 1396.6,1524.8 1395.6,1526.0 1394.7,1527.1 1393.7,1528.2 1392.6,1529.3 1391.6,1530.4 1390.5,1531.5 1389.4,1532.7 1388.3,1533.8 1387.2,1534.9 1386.0,1536.0 1384.9,1537.0 1383.6,1538.1 1382.4,1539.2 1381.2,1540.3 1379.9,1541.4 1378.6,1542.5 1377.3,1543.5 1375.9,1544.6 1374.5,1545.6 1373.1,1546.7 1371.7,1547.8 1370.3,1548.8 1368.8,1549.8 1367.3,1550.9 1365.8,1551.9 1364.3,1552.9 1362.7,1553.9 1361.1,1554.9 1359.5,1555.9 1357.9,1556.9 1356.2,1557.9 1354.6,1558.9 1352.9,1559.9 1351.1,1560.9 1349.4,1561.8 1347.6,1562.8 1345.9,1563.7 1344.1,1564.7 1342.2,1565.6 1340.4,1566.5 1338.5,1567.5 1336.6,1568.4 1334.7,1569.3 1332.8,1570.2 1330.8,1571.1 1328.8,1571.9 1326.8,1572.8 1324.8,1573.7 1322.8,1574.5 1320.7,1575.4 1318.6,1576.2 1316.6,1577.0 1314.4,1577.9 1312.3,1578.7 1310.1,1579.5 1308.0,1580.3 1305.8,1581.0 1303.6,1581.8 1301.3,1582.6 1299.1,1583.3 1296.8,1584.1 1294.5,1584.8 1292.2,1585.5 1289.9,1586.2 1287.6,1586.9 1285.2,1587.6 1282.8,1588.3 1280.5,1588.9 1278.1,1589.6 1275.6,1590.2 1273.2,1590.9 1270.8,1591.5 1268.3,1592.1 1265.8,1592.7 1263.3,1593.3 1260.8,1593.9 1258.3,1594.4 1255.8,1595.0 1253.2,1595.5 1250.6,1596.0 1248.1,1596.5 1245.5,1597.0 1242.9,1597.5 1240.3,1598.0 1237.6,1598.5 1235.0,1598.9 1232.4,1599.4 1229.7,1599.8 1227.0,1600.2 1224.4,1600.6 1221.7,1601.0 1219.0,1601.4 1216.3,1601.7 1213.6,1602.1 1210.8,1602.4 1208.1,1602.7 1205.4,1603.1 1202.6,1603.3 1199.9,1603.6 1197.1,1603.9 1194.3,1604.2 1191.6,1604.4 1188.8,1604.6 1186.0,1604.8 1183.2,1605.0 1180.4,1605.2 1177.6,1605.4 1174.8,1605.6 1172.0,1605.7 1169.2,1605.8 1166.4,1606.0 1163.5,1606.1 1160.7,1606.1 1157.9,1606.2 1155.1,1606.3 1152.2,1606.3 1149.4,1606.4 1146.6,1606.4 1143.8,1606.4 1140.9,1606.4 1138.1,1606.4 1135.3,1606.3 1132.4,1606.3 1129.6,1606.2 1126.8,1606.1 1124.0,1606.1 1121.2,1606.0 1118.3,1605.8 1115.5,1605.7 1112.7,1605.6 1109.9,1605.4 1107.1,1605.2 1104.3,1605.0 1101.5,1604.8 1098.7,1604.6 1096.0,1604.4 1093.2,1604.2 1090.4,1603.9 1087.7,1603.6 1084.9,1603.3 1082.2,1603.1 1079.4,1602.7 1076.7,1602.4 1074.0,1602.1 1071.2,1601.7 1068.5,1601.4 1065.8,1601.0 1063.1,1600.6 1060.5,1600.2 1057.8,1599.8 1055.1,1599.4 1052.5,1598.9 1049.9,1598.5 1047.2,1598.0 1044.6,1597.5 1042.0,1597.0 1039.4,1596.5 1036.9,1596.0 1034.3,1595.5 1031.8,1595.0 1029.2,1594.4 1026.7,1593.9 1024.2,1593.3 1021.7,1592.7 1019.2,1592.1 1016.8,1591.5 1014.3,1590.9 1011.9,1590.2 1009.5,1589.6 1007.0,1588.9 1004.7,1588.3 1002.3,1587.6 999.9,1586.9 997.6,1586.2 995.3,1585.5 993.0,1584.8 990.7,1584.1 988.4,1583.3 986.2,1582.6 984.0,1581.8 981.7,1581.0 979.5,1580.3 977.4,1579.5 975.2,1578.7 973.1,1577.9 971.0,1577.0 968.9,1576.2 966.8,1575.4 964.7,1574.5 962.7,1573.7 960.7,1572.8 958.7,1571.9 956.7,1571.1 954.7,1570.2 952.8,1569.3 950.9,1568.4 949.0,1567.5 947.1,1566.5 945.3,1565.6 943.5,1564.7 941.6,1563.7 939.9,1562.8 938.1,1561.8 936.4,1560.9 934.6,1559.9 932.9,1558.9 931.3,1557.9 929.6,1556.9 928.0,1555.9 926.4,1554.9 924.8,1553.9 923.3,1552.9 921.7,1551.9 920.2,1550.9 918.7,1549.8 917.2,1548.8 915.8,1547.8 914.4,1546.7 913.0,1545.6 911.6,1544.6 910.3,1543.5 908.9,1542.5 907.6,1541.4 906.4,1540.3 905.1,1539.2 903.9,1538.1 902.7,1537.0 901.5,1536.0 900.3,1534.9 899.2,1533.8 898.1,1532.7 897.0,1531.5 895.9,1530.4 894.9,1529.3 893.9,1528.2 892.9,1527.1 891.9,1526.0 890.9,1524.8 890.0,1523.7 889.1,1522.6 888.2,1521.4 887.4,1520.3 886.6,1519.2 885.8,1518.0 885.0,1516.9 884.2,1515.7 883.5,1514.6 882.8,1513.4 882.1,1512.3 881.4,1511.2 880.8,1510.0 880.2,1508.8 879.6,1507.7 879.0,1506.5 878.5,1505.4 878.0,1504.2 877.5,1503.1 877.0,1501.9 876.5,1500.8 876.1,1499.6 875.7,1498.5 875.3,1497.3 875.0,1496.2 874.6,1495.0 874.3,1493.8 874.0,1492.7 873.8,1491.5 873.5,1490.4 873.3,1489.2 873.1,1488.1 872.9,1486.9 872.7,1485.8 872.6,1484.6 872.5,1483.5 872.4,1482.3 872.3,1481.2 872.3,1480.1 872.3,1478.9 872.2,1477.8 872.3,1476.6 872.3,1475.5 872.4,1474.4 872.4,1473.2 872.5,1472.1 872.6,1471.0 872.8,1469.9 872.9,1468.7 873.1,1467.6 873.3,1466.5 873.6,1465.4 873.8,1464.3 874.1,1463.2 874.3,1462.1 874.6,1461.0 875.0,1459.9 875.3,1458.8 875.7,1457.7 876.0,1456.6 876.4,1455.5 876.9,1454.4 877.3,1453.3 877.8,1452.3 878.2,1451.2 878.7,1450.1 879.2,1449.0 879.8,1448.0 880.3,1446.9 880.9,1445.9 881.5,1444.8 882.1,1443.8 882.7,1442.7 883.3,1441.7 884.0,1440.6 884.7,1439.6 885.4,1438.6 886.1,1437.6 886.8,1436.5 887.5,1435.5 888.3,1434.5 889.1,1433.5 889.8,1432.5 890.7,1431.5 891.5,1430.5 892.3,1429.5 893.2,1428.6 894.1,1427.6 894.9,1426.6 895.8,1425.6 896.8,1424.7 897.7,1423.7 898.6,1422.8 899.6,1421.8 900.6,1420.9 901.6,1419.9 902.6,1419.0 903.6,1418.1 904.7,1417.2 905.7,1416.2 906.8,1415.3 907.9,1414.4 909.0,1413.5 910.1,1412.6 911.2,1411.7 912.3,1410.9 913.5,1410.0 914.6,1409.1 915.8,1408.2 917.0,1407.4 918.2,1406.5 919.4,1405.7 920.6,1404.8 921.9,1404.0 923.1,1403.2 924.4,1402.3 925.7,1401.5 927.0,1400.7 928.3,1399.9 929.6,1399.1 930.9,1398.3 932.3,1397.5 933.6,1396.7 935.0,1395.9 936.3,1395.1 937.7,1394.4 939.1,1393.6 940.5,1392.9 941.9,1392.1 943.4,1391.4 944.8,1390.6 946.2,1389.9 947.7,1389.2 949.2,1388.5 950.6,1387.7 952.1,1387.0 953.6,1386.3 955.1,1385.6 956.7,1385.0 958.2,1384.3 959.7,1383.6 961.3,1382.9 962.8,1382.3 964.4,1381.6 966.0,1381.0 967.5,1380.3 969.1,1379.7 970.7,1379.1 972.3,1378.4 974.0,1377.8 975.6,1377.2 977.2,1376.6 978.9,1376.0 980.5,1375.4 982.2,1374.8 983.8,1374.2 985.5,1373.7 987.2,1373.1 988.9,1372.5 990.6,1372.0 992.3,1371.4 994.0,1370.9 995.7,1370.4 997.4,1369.8 999.2,1369.3 1000.9,1368.8 1002.6,1368.3 1004.4,1367.8 1006.1,1367.3 1007.9,1366.8 1009.7,1366.3 1011.5,1365.9 1013.2,1365.4 1015.0,1364.9 1016.8,1364.5 1018.6,1364.1 1020.4,1363.6 1022.2,1363.2 1024.1,1362.8 1025.9,1362.3 1027.7,1361.9 1029.5,1361.5 1031.4,1361.1 1033.2,1360.7 1035.1,1360.3 1036.9,1360.0 1038.8,1359.6 1040.7,1359.2 1042.5,1358.9 1044.4,1358.5 1046.3,1358.2 1048.2,1357.8 1050.0,1357.5 1051.9,1357.2 1053.8,1356.9 1055.7,1356.5 1057.6,1356.2 1059.5,1355.9 1061.4,1355.6 1063.3,1355.4 1065.3,1355.1 1067.2,1354.8 1069.1,1354.6 1071.0,1354.3 1073.0,1354.0 1074.9,1353.8 1076.8,1353.6 1078.8,1353.3 1080.7,1353.1 1082.6,1352.9 1084.6,1352.7 1086.5,1352.5 1088.5,1352.3 1090.4,1352.1 1092.4,1351.9 1094.4,1351.7 1096.3,1351.6 1098.3,1351.4 1100.2,1351.3 1102.2,1351.1 1104.2,1351.0 1106.1,1350.8 1108.1,1350.7 1110.1,1350.6 1112.1,1350.5 1114.0,1350.4 1116.0,1350.3 1118.0,1350.2 1120.0,1350.1 1121.9,1350.0 1123.9,1349.9 1125.9,1349.9 1127.9,1349.8 1129.9,1349.8 1131.9,1349.7 1133.8,1349.7 1135.8,1349.7 1137.8,1349.6 1139.8,1349.6 1141.8,1349.6 1143.8,1349.6" fill="#F8BC00"/>
<polygon points="1143.8,1455.5 1128.7,1349.8 1132.6,1349.7 1136.6,1349.6 1140.6,1349.6 1144.5,1349.6 1148.5,1349.6" fill="#fff"/>
<polygon points="1143.8,1455.5 1128.7,1349.8 1133.3,1349.7 1137.9,1349.6 1142.6,1349.6" fill="#4BACC6" stroke="#fff" stroke-width="1.6" stroke-linejoin="round"/>
<line x1="1143.8" y1="1455.5" x2="1145.5" y2="1349.6" stroke="#4F81BD" stroke-width="1.3"/>
<polygon points="1143.8,1455.5 1148.5,1349.6 1154.2,1349.7 1159.9,1349.8 1165.6,1350.0 1171.3,1350.3 1177.0,1350.6 1182.7,1350.9 1188.4,1351.3 1194.0,1351.8 1199.6,1352.4 1205.3,1352.9 1210.8,1353.6 1216.4,1354.3 1221.9,1355.0 1227.5,1355.9 1232.9,1356.7 1238.4,1357.7 1243.8,1358.6 1249.2,1359.7 1254.5,1360.8 1259.8,1361.9" fill="#BCBCBC" stroke="#fff" stroke-width="1.6" stroke-linejoin="round"/>
<polyline points="1414.9,1484.6 1414.8,1485.8 1414.6,1486.9 1414.4,1488.1 1414.2,1489.2 1414.0,1490.4 1413.8,1491.5 1413.5,1492.7 1413.2,1493.8 1412.9,1495.0 1412.5,1496.2 1412.2,1497.3 1411.8,1498.5 1411.4,1499.6 1411.0,1500.8 1410.5,1501.9 1410.0,1503.1 1409.5,1504.2 1409.0,1505.4 1408.5,1506.5 1407.9,1507.7 1407.3,1508.8 1406.7,1510.0 1406.1,1511.2 1405.4,1512.3 1404.7,1513.4 1404.0,1514.6 1403.3,1515.7 1402.5,1516.9 1401.7,1518.0 1400.9,1519.2 1400.1,1520.3 1399.3,1521.4 1398.4,1522.6 1397.5,1523.7 1396.6,1524.8 1395.6,1526.0 1394.7,1527.1 1393.7,1528.2 1392.6,1529.3 1391.6,1530.4 1390.5,1531.5 1389.4,1532.7 1388.3,1533.8 1387.2,1534.9 1386.0,1536.0 1384.9,1537.0 1383.6,1538.1 1382.4,1539.2 1381.2,1540.3 1379.9,1541.4 1378.6,1542.5 1377.3,1543.5 1375.9,1544.6 1374.5,1545.6 1373.1,1546.7 1371.7,1547.8 1370.3,1548.8 1368.8,1549.8 1367.3,1550.9 1365.8,1551.9 1364.3,1552.9 1362.7,1553.9 1361.1,1554.9 1359.5,1555.9 1357.9,1556.9 1356.2,1557.9 1354.6,1558.9 1352.9,1559.9 1351.1,1560.9 1349.4,1561.8 1347.6,1562.8 1345.9,1563.7 1344.1,1564.7 1342.2,1565.6 1340.4,1566.5 1338.5,1567.5 1336.6,1568.4 1334.7,1569.3 1332.8,1570.2 1330.8,1571.1 1328.8,1571.9 1326.8,1572.8 1324.8,1573.7 1322.8,1574.5 1320.7,1575.4 1318.6,1576.2 1316.6,1577.0 1314.4,1577.9 1312.3,1578.7 1310.1,1579.5 1308.0,1580.3 1305.8,1581.0 1303.6,1581.8 1301.3,1582.6 1299.1,1583.3 1296.8,1584.1 1294.5,1584.8 1292.2,1585.5 1289.9,1586.2 1287.6,1586.9 1285.2,1587.6 1282.8,1588.3 1280.5,1588.9 1278.1,1589.6 1275.6,1590.2 1273.2,1590.9 1270.8,1591.5 1268.3,1592.1 1265.8,1592.7 1263.3,1593.3 1260.8,1593.9 1258.3,1594.4 1255.8,1595.0 1253.2,1595.5 1250.6,1596.0 1248.1,1596.5 1245.5,1597.0 1242.9,1597.5 1240.3,1598.0 1237.6,1598.5 1235.0,1598.9 1232.4,1599.4 1229.7,1599.8 1227.0,1600.2 1224.4,1600.6 1221.7,1601.0 1219.0,1601.4 1216.3,1601.7 1213.6,1602.1 1210.8,1602.4 1208.1,1602.7 1205.4,1603.1 1202.6,1603.3 1199.9,1603.6 1197.1,1603.9 1194.3,1604.2 1191.6,1604.4 1188.8,1604.6 1186.0,1604.8 1183.2,1605.0 1180.4,1605.2 1177.6,1605.4 1174.8,1605.6 1172.0,1605.7 1169.2,1605.8 1166.4,1606.0 1163.5,1606.1 1160.7,1606.1 1157.9,1606.2 1155.1,1606.3 1152.2,1606.3 1149.4,1606.4 1146.6,1606.4 1143.8,1606.4 1140.9,1606.4 1138.1,1606.4 1135.3,1606.3 1132.4,1606.3 1129.6,1606.2 1126.8,1606.1 1124.0,1606.1 1121.2,1606.0 1118.3,1605.8 1115.5,1605.7 1112.7,1605.6 1109.9,1605.4 1107.1,1605.2 1104.3,1605.0 1101.5,1604.8 1098.7,1604.6 1096.0,1604.4 1093.2,1604.2 1090.4,1603.9 1087.7,1603.6 1084.9,1603.3 1082.2,1603.1 1079.4,1602.7 1076.7,1602.4 1074.0,1602.1 1071.2,1601.7 1068.5,1601.4 1065.8,1601.0 1063.1,1600.6 1060.5,1600.2 1057.8,1599.8 1055.1,1599.4 1052.5,1598.9 1049.9,1598.5 1047.2,1598.0 1044.6,1597.5 1042.0,1597.0 1039.4,1596.5 1036.9,1596.0 1034.3,1595.5 1031.8,1595.0 1029.2,1594.4 1026.7,1593.9 1024.2,1593.3 1021.7,1592.7 1019.2,1592.1 1016.8,1591.5 1014.3,1590.9 1011.9,1590.2 1009.5,1589.6 1007.0,1588.9 1004.7,1588.3 1002.3,1587.6 999.9,1586.9 997.6,1586.2 995.3,1585.5 993.0,1584.8 990.7,1584.1 988.4,1583.3 986.2,1582.6 984.0,1581.8 981.7,1581.0 979.5,1580.3 977.4,1579.5 975.2,1578.7 973.1,1577.9 971.0,1577.0 968.9,1576.2 966.8,1575.4 964.7,1574.5 962.7,1573.7 960.7,1572.8 958.7,1571.9 956.7,1571.1 954.7,1570.2 952.8,1569.3 950.9,1568.4 949.0,1567.5 947.1,1566.5 945.3,1565.6 943.5,1564.7 941.6,1563.7 939.9,1562.8 938.1,1561.8 936.4,1560.9 934.6,1559.9 932.9,1558.9 931.3,1557.9 929.6,1556.9 928.0,1555.9 926.4,1554.9 924.8,1553.9 923.3,1552.9 921.7,1551.9 920.2,1550.9 918.7,1549.8 917.2,1548.8 915.8,1547.8 914.4,1546.7 913.0,1545.6 911.6,1544.6 910.3,1543.5 908.9,1542.5 907.6,1541.4 906.4,1540.3 905.1,1539.2 903.9,1538.1 902.7,1537.0 901.5,1536.0 900.3,1534.9 899.2,1533.8 898.1,1532.7 897.0,1531.5 895.9,1530.4 894.9,1529.3 893.9,1528.2 892.9,1527.1 891.9,1526.0 890.9,1524.8 890.0,1523.7 889.1,1522.6 888.2,1521.4 887.4,1520.3 886.6,1519.2 885.8,1518.0 885.0,1516.9 884.2,1515.7 883.5,1514.6 882.8,1513.4 882.1,1512.3 881.4,1511.2 880.8,1510.0 880.2,1508.8 879.6,1507.7 879.0,1506.5 878.5,1505.4 878.0,1504.2 877.5,1503.1 877.0,1501.9 876.5,1500.8 876.1,1499.6 875.7,1498.5 875.3,1497.3 875.0,1496.2 874.6,1495.0 874.3,1493.8 874.0,1492.7 873.8,1491.5 873.5,1490.4 873.3,1489.2 873.1,1488.1 872.9,1486.9 872.7,1485.8 872.6,1484.6" fill="none" stroke="#fff" stroke-width="2.6"/>
<polygon points="992.0,1265.7 1119.2,1265.7 1119.2,1335.1 1096.7,1335.1 1145.3,1352.2 1064.7,1335.1 992.0,1335.1" fill="#fff" stroke="#BFBFBF" stroke-width="2.2" stroke-linejoin="miter"/>
<text x="1055.0" y="1287.0" font-size="17.2" text-anchor="middle" fill="#f00">antisense</text><text x="1055.0" y="1307.1" font-size="17.2" text-anchor="middle" fill="#f00">lncRNA gene</text><text x="1055.0" y="1324.9" font-size="17.2" text-anchor="middle" fill="#f00">&lt;1%</text>
<polygon points="821.4,1323.2 942.0,1323.2 942.0,1351.0 1144.1,1352.6 942.0,1364.0 942.0,1371.8 821.4,1371.8" fill="#fff" stroke="#BFBFBF" stroke-width="2.2" stroke-linejoin="miter"/>
<text x="881.6" y="1343.9" font-size="17.2" text-anchor="middle" fill="#000">pseudogene</text><text x="881.6" y="1364.5" font-size="17.2" text-anchor="middle" fill="#000">1%</text>
<polygon points="1204.8,1290.5 1321.3,1290.5 1321.3,1339.2 1257.2,1339.2 1207.2,1352.1 1226.2,1339.2 1204.8,1339.2" fill="#fff" stroke="#BFBFBF" stroke-width="2.2" stroke-linejoin="miter"/>
<text x="1268.0" y="1311.7" font-size="17.2" text-anchor="middle" fill="#f00">lncRNA gene</text><text x="1268.0" y="1332.6" font-size="17.2" text-anchor="middle" fill="#f00">8%</text>
<polygon points="1320.6,1279.5 1443.6,1279.5 1443.6,1349.0 1320.6,1349.0 1320.6,1336.8 1251.1,1364.8 1320.6,1319.7" fill="#fff" stroke="#BFBFBF" stroke-width="2.2" stroke-linejoin="miter"/>
<text x="1382.0" y="1301.0" font-size="17.2" text-anchor="middle" fill="#000">polymorphic</text><text x="1382.0" y="1321.0" font-size="17.2" text-anchor="middle" fill="#000">pseudogene</text><text x="1382.0" y="1338.5" font-size="17.2" text-anchor="middle" fill="#000">&lt;1%</text>
<polygon points="957.0,1491.6 1076.8,1491.6 1076.8,1561.5 1059.4,1561.5 1074.3,1603.9 1029.4,1561.5 957.0,1561.5" fill="#fff" stroke="#BFBFBF" stroke-width="2.2" stroke-linejoin="miter"/>
<text x="1016.9" y="1514.0" font-size="17.2" text-anchor="middle" fill="#000">protein</text><text x="1016.9" y="1534.0" font-size="17.2" text-anchor="middle" fill="#000">coding gene</text><text x="1016.9" y="1551.5" font-size="17.2" text-anchor="middle" fill="#000">91%</text>
<polygon points="1412.3,2139.5 1412.2,2140.6 1412.0,2141.8 1411.8,2142.9 1411.6,2144.1 1411.4,2145.2 1411.2,2146.3 1410.9,2147.5 1410.6,2148.6 1410.3,2149.8 1410.0,2150.9 1409.6,2152.1 1409.2,2153.2 1408.8,2154.4 1408.4,2155.5 1407.9,2156.7 1407.5,2157.8 1407.0,2158.9 1406.5,2160.1 1405.9,2161.2 1405.4,2162.4 1404.8,2163.5 1404.2,2164.7 1403.5,2165.8 1402.9,2166.9 1402.2,2168.1 1401.5,2169.2 1400.8,2170.4 1400.0,2171.5 1399.2,2172.6 1398.4,2173.8 1397.6,2174.9 1396.8,2176.0 1395.9,2177.1 1395.0,2178.3 1394.1,2179.4 1393.2,2180.5 1392.2,2181.6 1391.2,2182.7 1390.2,2183.8 1389.2,2184.9 1388.1,2186.0 1387.0,2187.1 1385.9,2188.2 1384.8,2189.3 1383.6,2190.4 1382.5,2191.5 1381.3,2192.6 1380.0,2193.7 1378.8,2194.7 1377.5,2195.8 1376.2,2196.9 1374.9,2197.9 1373.6,2199.0 1372.2,2200.1 1370.8,2201.1 1369.4,2202.1 1368.0,2203.2 1366.5,2204.2 1365.1,2205.2 1363.6,2206.3 1362.0,2207.3 1360.5,2208.3 1358.9,2209.3 1357.3,2210.3 1355.7,2211.3 1354.1,2212.2 1352.4,2213.2 1350.7,2214.2 1349.0,2215.2 1347.3,2216.1 1345.5,2217.1 1343.8,2218.0 1342.0,2218.9 1340.2,2219.9 1338.3,2220.8 1336.5,2221.7 1334.6,2222.6 1332.7,2223.5 1330.8,2224.4 1328.8,2225.3 1326.9,2226.2 1324.9,2227.0 1322.9,2227.9 1320.9,2228.7 1318.8,2229.6 1316.8,2230.4 1314.7,2231.2 1312.6,2232.0 1310.4,2232.8 1308.3,2233.6 1306.2,2234.4 1304.0,2235.2 1301.8,2235.9 1299.6,2236.7 1297.3,2237.4 1295.1,2238.2 1292.8,2238.9 1290.5,2239.6 1288.2,2240.3 1285.9,2241.0 1283.6,2241.7 1281.2,2242.4 1278.9,2243.0 1276.5,2243.7 1274.1,2244.3 1271.7,2244.9 1269.2,2245.5 1266.8,2246.2 1264.3,2246.7 1261.8,2247.3 1259.3,2247.9 1256.8,2248.5 1254.3,2249.0 1251.8,2249.5 1249.3,2250.1 1246.7,2250.6 1244.1,2251.1 1241.6,2251.6 1239.0,2252.0 1236.4,2252.5 1233.7,2252.9 1231.1,2253.4 1228.5,2253.8 1225.8,2254.2 1223.2,2254.6 1220.5,2255.0 1217.8,2255.4 1215.1,2255.7 1212.4,2256.1 1209.7,2256.4 1207.0,2256.7 1204.3,2257.0 1201.6,2257.3 1198.8,2257.6 1196.1,2257.9 1193.4,2258.1 1190.6,2258.4 1187.8,2258.6 1185.1,2258.8 1182.3,2259.0 1179.5,2259.2 1176.7,2259.4 1174.0,2259.5 1171.2,2259.7 1168.4,2259.8 1165.6,2259.9 1162.8,2260.0 1160.0,2260.1 1157.2,2260.2 1154.4,2260.2 1151.6,2260.3 1148.8,2260.3 1146.0,2260.3 1143.2,2260.4 1140.3,2260.3 1137.5,2260.3 1134.7,2260.3 1131.9,2260.2 1129.1,2260.2 1126.3,2260.1 1123.5,2260.0 1120.7,2259.9 1117.9,2259.8 1115.1,2259.7 1112.4,2259.5 1109.6,2259.4 1106.8,2259.2 1104.0,2259.0 1101.2,2258.8 1098.5,2258.6 1095.7,2258.4 1093.0,2258.1 1090.2,2257.9 1087.5,2257.6 1084.7,2257.3 1082.0,2257.0 1079.3,2256.7 1076.6,2256.4 1073.9,2256.1 1071.2,2255.7 1068.5,2255.4 1065.8,2255.0 1063.1,2254.6 1060.5,2254.2 1057.8,2253.8 1055.2,2253.4 1052.6,2252.9 1050.0,2252.5 1047.4,2252.0 1044.8,2251.6 1042.2,2251.1 1039.6,2250.6 1037.1,2250.1 1034.5,2249.5 1032.0,2249.0 1029.5,2248.5 1027.0,2247.9 1024.5,2247.3 1022.0,2246.7 1019.5,2246.2 1017.1,2245.5 1014.7,2244.9 1012.2,2244.3 1009.8,2243.7 1007.5,2243.0 1005.1,2242.4 1002.7,2241.7 1000.4,2241.0 998.1,2240.3 995.8,2239.6 993.5,2238.9 991.2,2238.2 989.0,2237.4 986.7,2236.7 984.5,2235.9 982.3,2235.2 980.2,2234.4 978.0,2233.6 975.9,2232.8 973.7,2232.0 971.6,2231.2 969.6,2230.4 967.5,2229.6 965.5,2228.7 963.4,2227.9 961.4,2227.0 959.4,2226.2 957.5,2225.3 955.5,2224.4 953.6,2223.5 951.7,2222.6 949.8,2221.7 948.0,2220.8 946.2,2219.9 944.3,2218.9 942.5,2218.0 940.8,2217.1 939.0,2216.1 937.3,2215.2 935.6,2214.2 933.9,2213.2 932.2,2212.2 930.6,2211.3 929.0,2210.3 927.4,2209.3 925.8,2208.3 924.3,2207.3 922.8,2206.3 921.3,2205.2 919.8,2204.2 918.3,2203.2 916.9,2202.1 915.5,2201.1 914.1,2200.1 912.7,2199.0 911.4,2197.9 910.1,2196.9 908.8,2195.8 907.5,2194.7 906.3,2193.7 905.0,2192.6 903.8,2191.5 902.7,2190.4 901.5,2189.3 900.4,2188.2 899.3,2187.1 898.2,2186.0 897.1,2184.9 896.1,2183.8 895.1,2182.7 894.1,2181.6 893.2,2180.5 892.2,2179.4 891.3,2178.3 890.4,2177.1 889.5,2176.0 888.7,2174.9 887.9,2173.8 887.1,2172.6 886.3,2171.5 885.6,2170.4 884.8,2169.2 884.1,2168.1 883.4,2166.9 882.8,2165.8 882.2,2164.7 881.5,2163.5 881.0,2162.4 880.4,2161.2 879.9,2160.1 879.3,2158.9 878.8,2157.8 878.4,2156.7 877.9,2155.5 877.5,2154.4 877.1,2153.2 876.7,2152.1 876.4,2150.9 876.0,2149.8 875.7,2148.6 875.4,2147.5 875.2,2146.3 874.9,2145.2 874.7,2144.1 874.5,2142.9 874.3,2141.8 874.1,2140.6 874.0,2139.5 879.9,2194.3 880.0,2195.5 880.2,2196.7 880.4,2197.9 880.6,2199.1 880.8,2200.3 881.0,2201.5 881.3,2202.7 881.6,2203.9 881.9,2205.2 882.3,2206.4 882.6,2207.6 883.0,2208.8 883.4,2210.0 883.8,2211.2 884.3,2212.4 884.7,2213.6 885.2,2214.8 885.8,2216.0 886.3,2217.2 886.8,2218.4 887.4,2219.6 888.0,2220.8 888.7,2222.0 889.3,2223.2 890.0,2224.4 890.7,2225.6 891.4,2226.8 892.1,2228.0 892.9,2229.1 893.7,2230.3 894.5,2231.5 895.3,2232.7 896.2,2233.9 897.1,2235.1 898.0,2236.2 898.9,2237.4 899.8,2238.6 900.8,2239.7 901.8,2240.9 902.8,2242.1 903.9,2243.2 904.9,2244.4 906.0,2245.5 907.1,2246.7 908.3,2247.8 909.4,2249.0 910.6,2250.1 911.8,2251.2 913.0,2252.3 914.3,2253.5 915.5,2254.6 916.8,2255.7 918.1,2256.8 919.5,2257.9 920.8,2259.0 922.2,2260.1 923.6,2261.2 925.1,2262.2 926.5,2263.3 928.0,2264.4 929.5,2265.5 931.0,2266.5 932.5,2267.6 934.1,2268.6 935.7,2269.6 937.3,2270.7 938.9,2271.7 940.6,2272.7 942.2,2273.7 943.9,2274.7 945.6,2275.7 947.4,2276.7 949.1,2277.7 950.9,2278.6 952.7,2279.6 954.5,2280.6 956.4,2281.5 958.2,2282.5 960.1,2283.4 962.0,2284.3 963.9,2285.2 965.8,2286.1 967.8,2287.0 969.8,2287.9 971.8,2288.8 973.8,2289.6 975.8,2290.5 977.9,2291.4 980.0,2292.2 982.1,2293.0 984.2,2293.8 986.3,2294.7 988.4,2295.4 990.6,2296.2 992.8,2297.0 995.0,2297.8 997.2,2298.5 999.4,2299.3 1001.7,2300.0 1003.9,2300.7 1006.2,2301.5 1008.5,2302.2 1010.8,2302.8 1013.2,2303.5 1015.5,2304.2 1017.9,2304.8 1020.2,2305.5 1022.6,2306.1 1025.0,2306.7 1027.4,2307.4 1029.9,2307.9 1032.3,2308.5 1034.8,2309.1 1037.2,2309.7 1039.7,2310.2 1042.2,2310.7 1044.7,2311.3 1047.2,2311.8 1049.8,2312.3 1052.3,2312.7 1054.8,2313.2 1057.4,2313.7 1060.0,2314.1 1062.6,2314.5 1065.2,2315.0 1067.8,2315.4 1070.4,2315.7 1073.0,2316.1 1075.6,2316.5 1078.3,2316.8 1080.9,2317.2 1083.5,2317.5 1086.2,2317.8 1088.9,2318.1 1091.5,2318.4 1094.2,2318.6 1096.9,2318.9 1099.6,2319.1 1102.3,2319.3 1105.0,2319.5 1107.7,2319.7 1110.4,2319.9 1113.1,2320.1 1115.8,2320.2 1118.6,2320.4 1121.3,2320.5 1124.0,2320.6 1126.7,2320.7 1129.5,2320.8 1132.2,2320.8 1134.9,2320.9 1137.7,2320.9 1140.4,2320.9 1143.2,2321.0 1145.9,2320.9 1148.6,2320.9 1151.4,2320.9 1154.1,2320.8 1156.8,2320.8 1159.6,2320.7 1162.3,2320.6 1165.0,2320.5 1167.7,2320.4 1170.5,2320.2 1173.2,2320.1 1175.9,2319.9 1178.6,2319.7 1181.3,2319.5 1184.0,2319.3 1186.7,2319.1 1189.4,2318.9 1192.1,2318.6 1194.8,2318.4 1197.4,2318.1 1200.1,2317.8 1202.8,2317.5 1205.4,2317.2 1208.1,2316.8 1210.7,2316.5 1213.3,2316.1 1215.9,2315.7 1218.6,2315.4 1221.2,2315.0 1223.7,2314.5 1226.3,2314.1 1228.9,2313.7 1231.5,2313.2 1234.0,2312.7 1236.6,2312.3 1239.1,2311.8 1241.6,2311.3 1244.1,2310.7 1246.6,2310.2 1249.1,2309.7 1251.6,2309.1 1254.0,2308.5 1256.5,2307.9 1258.9,2307.4 1261.3,2306.7 1263.7,2306.1 1266.1,2305.5 1268.5,2304.8 1270.8,2304.2 1273.2,2303.5 1275.5,2302.8 1277.8,2302.2 1280.1,2301.5 1282.4,2300.7 1284.6,2300.0 1286.9,2299.3 1289.1,2298.5 1291.3,2297.8 1293.5,2297.0 1295.7,2296.2 1297.9,2295.4 1300.0,2294.7 1302.2,2293.8 1304.3,2293.0 1306.4,2292.2 1308.4,2291.4 1310.5,2290.5 1312.5,2289.6 1314.5,2288.8 1316.5,2287.9 1318.5,2287.0 1320.5,2286.1 1322.4,2285.2 1324.3,2284.3 1326.2,2283.4 1328.1,2282.5 1330.0,2281.5 1331.8,2280.6 1333.6,2279.6 1335.4,2278.6 1337.2,2277.7 1338.9,2276.7 1340.7,2275.7 1342.4,2274.7 1344.1,2273.7 1345.7,2272.7 1347.4,2271.7 1349.0,2270.7 1350.6,2269.6 1352.2,2268.6 1353.8,2267.6 1355.3,2266.5 1356.8,2265.5 1358.3,2264.4 1359.8,2263.3 1361.2,2262.2 1362.7,2261.2 1364.1,2260.1 1365.5,2259.0 1366.8,2257.9 1368.2,2256.8 1369.5,2255.7 1370.8,2254.6 1372.0,2253.5 1373.3,2252.3 1374.5,2251.2 1375.7,2250.1 1376.9,2249.0 1378.0,2247.8 1379.2,2246.7 1380.3,2245.5 1381.4,2244.4 1382.4,2243.2 1383.5,2242.1 1384.5,2240.9 1385.5,2239.7 1386.5,2238.6 1387.4,2237.4 1388.3,2236.2 1389.2,2235.1 1390.1,2233.9 1391.0,2232.7 1391.8,2231.5 1392.6,2230.3 1393.4,2229.1 1394.2,2228.0 1394.9,2226.8 1395.6,2225.6 1396.3,2224.4 1397.0,2223.2 1397.7,2222.0 1398.3,2220.8 1398.9,2219.6 1399.5,2218.4 1400.0,2217.2 1400.6,2216.0 1401.1,2214.8 1401.6,2213.6 1402.0,2212.4 1402.5,2211.2 1402.9,2210.0 1403.3,2208.8 1403.7,2207.6 1404.1,2206.4 1404.4,2205.2 1404.7,2203.9 1405.0,2202.7 1405.3,2201.5 1405.5,2200.3 1405.7,2199.1 1405.9,2197.9 1406.1,2196.7 1406.3,2195.5 1406.4,2194.3" fill="url(#gH)"/>
<polygon points="1143.2,2005.5 1145.1,2005.5 1147.1,2005.5 1149.1,2005.5 1151.0,2005.5 1153.0,2005.5 1155.0,2005.6 1156.9,2005.6 1158.9,2005.7 1160.9,2005.7 1162.8,2005.8 1164.8,2005.9 1166.8,2005.9 1168.7,2006.0 1170.7,2006.1 1172.7,2006.2 1174.6,2006.3 1176.6,2006.4 1178.5,2006.6 1180.5,2006.7 1182.4,2006.8 1184.4,2007.0 1186.4,2007.1 1188.3,2007.3 1190.2,2007.4 1192.2,2007.6 1194.1,2007.8 1196.1,2007.9 1198.0,2008.1 1200.0,2008.3 1201.9,2008.5 1203.8,2008.7 1205.7,2008.9 1207.7,2009.2 1209.6,2009.4 1211.5,2009.6 1213.4,2009.9 1215.3,2010.1 1217.3,2010.4 1219.2,2010.6 1221.1,2010.9 1223.0,2011.2 1224.9,2011.5 1226.8,2011.7 1228.7,2012.0 1230.5,2012.3 1232.4,2012.7 1234.3,2013.0 1236.2,2013.3 1238.1,2013.6 1239.9,2014.0 1241.8,2014.3 1243.6,2014.6 1245.5,2015.0 1247.3,2015.4 1249.2,2015.7 1251.0,2016.1 1252.9,2016.5 1254.7,2016.9 1256.5,2017.3 1258.3,2017.7 1260.2,2018.1 1262.0,2018.5 1263.8,2018.9 1265.6,2019.4 1267.4,2019.8 1269.1,2020.2 1270.9,2020.7 1272.7,2021.1 1274.5,2021.6 1276.2,2022.1 1278.0,2022.6 1279.7,2023.0 1281.5,2023.5 1283.2,2024.0 1285.0,2024.5 1286.7,2025.0 1288.4,2025.5 1290.1,2026.1 1291.8,2026.6 1293.5,2027.1 1295.2,2027.7 1296.9,2028.2 1298.6,2028.8 1300.2,2029.3 1301.9,2029.9 1303.5,2030.5 1305.2,2031.1 1306.8,2031.7 1308.5,2032.2 1310.1,2032.8 1311.7,2033.5 1313.3,2034.1 1314.9,2034.7 1316.5,2035.3 1318.1,2035.9 1319.6,2036.6 1321.2,2037.2 1322.8,2037.9 1324.3,2038.5 1325.8,2039.2 1327.4,2039.9 1328.9,2040.5 1330.4,2041.2 1331.9,2041.9 1333.4,2042.6 1334.8,2043.3 1336.3,2044.0 1337.8,2044.7 1339.2,2045.5 1340.6,2046.2 1342.1,2046.9 1343.5,2047.7 1344.9,2048.4 1346.3,2049.1 1347.7,2049.9 1349.0,2050.7 1350.4,2051.4 1351.8,2052.2 1353.1,2053.0 1354.4,2053.8 1355.7,2054.6 1357.0,2055.4 1358.3,2056.2 1359.6,2057.0 1360.9,2057.8 1362.1,2058.6 1363.4,2059.4 1364.6,2060.3 1365.8,2061.1 1367.0,2062.0 1368.2,2062.8 1369.4,2063.7 1370.6,2064.5 1371.7,2065.4 1372.9,2066.3 1374.0,2067.1 1375.1,2068.0 1376.2,2068.9 1377.3,2069.8 1378.4,2070.7 1379.4,2071.6 1380.5,2072.5 1381.5,2073.4 1382.5,2074.4 1383.5,2075.3 1384.5,2076.2 1385.5,2077.1 1386.5,2078.1 1387.4,2079.0 1388.3,2080.0 1389.2,2080.9 1390.1,2081.9 1391.0,2082.9 1391.9,2083.8 1392.7,2084.8 1393.6,2085.8 1394.4,2086.8 1395.2,2087.8 1396.0,2088.7 1396.7,2089.7 1397.5,2090.7 1398.2,2091.8 1398.9,2092.8 1399.6,2093.8 1400.3,2094.8 1401.0,2095.8 1401.7,2096.9 1402.3,2097.9 1402.9,2098.9 1403.5,2100.0 1404.1,2101.0 1404.6,2102.1 1405.2,2103.1 1405.7,2104.2 1406.2,2105.2 1406.7,2106.3 1407.2,2107.3 1407.6,2108.4 1408.1,2109.5 1408.5,2110.6 1408.9,2111.6 1409.3,2112.7 1409.6,2113.8 1410.0,2114.9 1410.3,2116.0 1410.6,2117.1 1410.9,2118.2 1411.1,2119.3 1411.4,2120.4 1411.6,2121.5 1411.8,2122.6 1412.0,2123.7 1412.1,2124.8 1412.3,2125.9 1412.4,2127.1 1412.5,2128.2 1412.6,2129.3 1412.6,2130.4 1412.6,2131.6 1412.7,2132.7 1412.7,2133.8 1412.6,2135.0 1412.6,2136.1 1412.5,2137.2 1412.4,2138.4 1412.3,2139.5 1412.2,2140.6 1412.0,2141.8 1411.8,2142.9 1411.6,2144.1 1411.4,2145.2 1411.2,2146.3 1410.9,2147.5 1410.6,2148.6 1410.3,2149.8 1410.0,2150.9 1409.6,2152.1 1409.2,2153.2 1408.8,2154.4 1408.4,2155.5 1407.9,2156.7 1407.5,2157.8 1407.0,2158.9 1406.5,2160.1 1405.9,2161.2 1405.4,2162.4 1404.8,2163.5 1404.2,2164.7 1403.5,2165.8 1402.9,2166.9 1402.2,2168.1 1401.5,2169.2 1400.8,2170.4 1400.0,2171.5 1399.2,2172.6 1398.4,2173.8 1397.6,2174.9 1396.8,2176.0 1395.9,2177.1 1395.0,2178.3 1394.1,2179.4 1393.2,2180.5 1392.2,2181.6 1391.2,2182.7 1390.2,2183.8 1389.2,2184.9 1388.1,2186.0 1387.0,2187.1 1385.9,2188.2 1384.8,2189.3 1383.6,2190.4 1382.5,2191.5 1381.3,2192.6 1380.0,2193.7 1378.8,2194.7 1377.5,2195.8 1376.2,2196.9 1374.9,2197.9 1373.6,2199.0 1372.2,2200.1 1370.8,2201.1 1369.4,2202.1 1368.0,2203.2 1366.5,2204.2 1365.1,2205.2 1363.6,2206.3 1362.0,2207.3 1360.5,2208.3 1358.9,2209.3 1357.3,2210.3 1355.7,2211.3 1354.1,2212.2 1352.4,2213.2 1350.7,2214.2 1349.0,2215.2 1347.3,2216.1 1345.5,2217.1 1343.8,2218.0 1342.0,2218.9 1340.2,2219.9 1338.3,2220.8 1336.5,2221.7 1334.6,2222.6 1332.7,2223.5 1330.8,2224.4 1328.8,2225.3 1326.9,2226.2 1324.9,2227.0 1322.9,2227.9 1320.9,2228.7 1318.8,2229.6 1316.8,2230.4 1314.7,2231.2 1312.6,2232.0 1310.4,2232.8 1308.3,2233.6 1306.2,2234.4 1304.0,2235.2 1301.8,2235.9 1299.6,2236.7 1297.3,2237.4 1295.1,2238.2 1292.8,2238.9 1290.5,2239.6 1288.2,2240.3 1285.9,2241.0 1283.6,2241.7 1281.2,2242.4 1278.9,2243.0 1276.5,2243.7 1274.1,2244.3 1271.7,2244.9 1269.2,2245.5 1266.8,2246.2 1264.3,2246.7 1261.8,2247.3 1259.3,2247.9 1256.8,2248.5 1254.3,2249.0 1251.8,2249.5 1249.3,2250.1 1246.7,2250.6 1244.1,2251.1 1241.6,2251.6 1239.0,2252.0 1236.4,2252.5 1233.7,2252.9 1231.1,2253.4 1228.5,2253.8 1225.8,2254.2 1223.2,2254.6 1220.5,2255.0 1217.8,2255.4 1215.1,2255.7 1212.4,2256.1 1209.7,2256.4 1207.0,2256.7 1204.3,2257.0 1201.6,2257.3 1198.8,2257.6 1196.1,2257.9 1193.4,2258.1 1190.6,2258.4 1187.8,2258.6 1185.1,2258.8 1182.3,2259.0 1179.5,2259.2 1176.7,2259.4 1174.0,2259.5 1171.2,2259.7 1168.4,2259.8 1165.6,2259.9 1162.8,2260.0 1160.0,2260.1 1157.2,2260.2 1154.4,2260.2 1151.6,2260.3 1148.8,2260.3 1146.0,2260.3 1143.2,2260.4 1140.3,2260.3 1137.5,2260.3 1134.7,2260.3 1131.9,2260.2 1129.1,2260.2 1126.3,2260.1 1123.5,2260.0 1120.7,2259.9 1117.9,2259.8 1115.1,2259.7 1112.4,2259.5 1109.6,2259.4 1106.8,2259.2 1104.0,2259.0 1101.2,2258.8 1098.5,2258.6 1095.7,2258.4 1093.0,2258.1 1090.2,2257.9 1087.5,2257.6 1084.7,2257.3 1082.0,2257.0 1079.3,2256.7 1076.6,2256.4 1073.9,2256.1 1071.2,2255.7 1068.5,2255.4 1065.8,2255.0 1063.1,2254.6 1060.5,2254.2 1057.8,2253.8 1055.2,2253.4 1052.6,2252.9 1050.0,2252.5 1047.4,2252.0 1044.8,2251.6 1042.2,2251.1 1039.6,2250.6 1037.1,2250.1 1034.5,2249.5 1032.0,2249.0 1029.5,2248.5 1027.0,2247.9 1024.5,2247.3 1022.0,2246.7 1019.5,2246.2 1017.1,2245.5 1014.7,2244.9 1012.2,2244.3 1009.8,2243.7 1007.5,2243.0 1005.1,2242.4 1002.7,2241.7 1000.4,2241.0 998.1,2240.3 995.8,2239.6 993.5,2238.9 991.2,2238.2 989.0,2237.4 986.7,2236.7 984.5,2235.9 982.3,2235.2 980.2,2234.4 978.0,2233.6 975.9,2232.8 973.7,2232.0 971.6,2231.2 969.6,2230.4 967.5,2229.6 965.5,2228.7 963.4,2227.9 961.4,2227.0 959.4,2226.2 957.5,2225.3 955.5,2224.4 953.6,2223.5 951.7,2222.6 949.8,2221.7 948.0,2220.8 946.2,2219.9 944.3,2218.9 942.5,2218.0 940.8,2217.1 939.0,2216.1 937.3,2215.2 935.6,2214.2 933.9,2213.2 932.2,2212.2 930.6,2211.3 929.0,2210.3 927.4,2209.3 925.8,2208.3 924.3,2207.3 922.8,2206.3 921.3,2205.2 919.8,2204.2 918.3,2203.2 916.9,2202.1 915.5,2201.1 914.1,2200.1 912.7,2199.0 911.4,2197.9 910.1,2196.9 908.8,2195.8 907.5,2194.7 906.3,2193.7 905.0,2192.6 903.8,2191.5 902.7,2190.4 901.5,2189.3 900.4,2188.2 899.3,2187.1 898.2,2186.0 897.1,2184.9 896.1,2183.8 895.1,2182.7 894.1,2181.6 893.2,2180.5 892.2,2179.4 891.3,2178.3 890.4,2177.1 889.5,2176.0 888.7,2174.9 887.9,2173.8 887.1,2172.6 886.3,2171.5 885.6,2170.4 884.8,2169.2 884.1,2168.1 883.4,2166.9 882.8,2165.8 882.2,2164.7 881.5,2163.5 881.0,2162.4 880.4,2161.2 879.9,2160.1 879.3,2158.9 878.8,2157.8 878.4,2156.7 877.9,2155.5 877.5,2154.4 877.1,2153.2 876.7,2152.1 876.4,2150.9 876.0,2149.8 875.7,2148.6 875.4,2147.5 875.2,2146.3 874.9,2145.2 874.7,2144.1 874.5,2142.9 874.3,2141.8 874.1,2140.6 874.0,2139.5 873.9,2138.4 873.8,2137.2 873.7,2136.1 873.7,2135.0 873.7,2133.8 873.7,2132.7 873.7,2131.6 873.7,2130.4 873.8,2129.3 873.8,2128.2 873.9,2127.1 874.1,2125.9 874.2,2124.8 874.4,2123.7 874.5,2122.6 874.7,2121.5 875.0,2120.4 875.2,2119.3 875.5,2118.2 875.7,2117.1 876.0,2116.0 876.4,2114.9 876.7,2113.8 877.1,2112.7 877.4,2111.6 877.8,2110.6 878.2,2109.5 878.7,2108.4 879.1,2107.3 879.6,2106.3 880.1,2105.2 880.6,2104.2 881.1,2103.1 881.7,2102.1 882.2,2101.0 882.8,2100.0 883.4,2098.9 884.0,2097.9 884.7,2096.9 885.3,2095.8 886.0,2094.8 886.7,2093.8 887.4,2092.8 888.1,2091.8 888.8,2090.7 889.6,2089.7 890.3,2088.7 891.1,2087.8 891.9,2086.8 892.7,2085.8 893.6,2084.8 894.4,2083.8 895.3,2082.9 896.2,2081.9 897.1,2080.9 898.0,2080.0 898.9,2079.0 899.9,2078.1 900.8,2077.1 901.8,2076.2 902.8,2075.3 903.8,2074.4 904.8,2073.4 905.8,2072.5 906.9,2071.6 907.9,2070.7 909.0,2069.8 910.1,2068.9 911.2,2068.0 912.3,2067.1 913.4,2066.3 914.6,2065.4 915.7,2064.5 916.9,2063.7 918.1,2062.8 919.3,2062.0 920.5,2061.1 921.7,2060.3 922.9,2059.4 924.2,2058.6 925.4,2057.8 926.7,2057.0 928.0,2056.2 929.3,2055.4 930.6,2054.6 931.9,2053.8 933.2,2053.0 934.6,2052.2 935.9,2051.4 937.3,2050.7 938.6,2049.9 940.0,2049.1 941.4,2048.4 942.8,2047.7 944.2,2046.9 945.7,2046.2 947.1,2045.5 948.5,2044.7 950.0,2044.0 951.5,2043.3 953.0,2042.6 954.4,2041.9 955.9,2041.2 957.4,2040.5 959.0,2039.9 960.5,2039.2 962.0,2038.5 963.6,2037.9 965.1,2037.2 966.7,2036.6 968.2,2035.9 969.8,2035.3 971.4,2034.7 973.0,2034.1 974.6,2033.5 976.2,2032.8 977.8,2032.2 979.5,2031.7 981.1,2031.1 982.8,2030.5 984.4,2029.9 986.1,2029.3 987.7,2028.8 989.4,2028.2 991.1,2027.7 992.8,2027.1 994.5,2026.6 996.2,2026.1 997.9,2025.5 999.6,2025.0 1001.4,2024.5 1003.1,2024.0 1004.8,2023.5 1006.6,2023.0 1008.3,2022.6 1010.1,2022.1 1011.8,2021.6 1013.6,2021.1 1015.4,2020.7 1017.2,2020.2 1019.0,2019.8 1020.7,2019.4 1022.5,2018.9 1024.4,2018.5 1026.2,2018.1 1028.0,2017.7 1029.8,2017.3 1031.6,2016.9 1033.5,2016.5 1035.3,2016.1 1037.1,2015.7 1039.0,2015.4 1040.8,2015.0 1042.7,2014.6 1044.5,2014.3 1046.4,2014.0 1048.3,2013.6 1050.1,2013.3 1052.0,2013.0 1053.9,2012.7 1055.8,2012.3 1057.7,2012.0 1059.5,2011.7 1061.4,2011.5 1063.3,2011.2 1065.2,2010.9 1067.1,2010.6 1069.1,2010.4 1071.0,2010.1 1072.9,2009.9 1074.8,2009.6 1076.7,2009.4 1078.6,2009.2 1080.6,2008.9 1082.5,2008.7 1084.4,2008.5 1086.4,2008.3 1088.3,2008.1 1090.2,2007.9 1092.2,2007.8 1094.1,2007.6 1096.1,2007.4 1098.0,2007.3 1100.0,2007.1 1101.9,2007.0 1103.9,2006.8 1105.8,2006.7 1107.8,2006.6 1109.7,2006.4 1111.7,2006.3 1113.7,2006.2 1115.6,2006.1 1117.6,2006.0 1119.5,2005.9 1121.5,2005.9 1123.5,2005.8 1125.4,2005.7 1127.4,2005.7 1129.4,2005.6 1131.3,2005.6 1133.3,2005.5 1135.3,2005.5 1137.2,2005.5 1139.2,2005.5 1141.2,2005.5 1143.2,2005.5" fill="#F8BC00"/>
<polygon points="1143.2,2110.6 1120.3,2005.9 1128.1,2005.7 1135.9,2005.5 1143.7,2005.5 1151.5,2005.5 1159.3,2005.7" fill="#fff"/>
<polygon points="1143.2,2110.6 1120.3,2005.9 1125.8,2005.7 1131.3,2005.6 1136.9,2005.5" fill="#4BACC6" stroke="#fff" stroke-width="1.6" stroke-linejoin="round"/>
<line x1="1143.2" y1="2110.6" x2="1139.0" y2="2005.5" stroke="#ED7D31" stroke-width="1.3"/>
<polygon points="1143.2,2110.6 1143.9,2005.5 1147.9,2005.5 1151.8,2005.5 1155.8,2005.6" fill="#4F81BD" stroke="#fff" stroke-width="1.6" stroke-linejoin="round"/>
<polygon points="1143.2,2110.6 1159.3,2005.7 1165.2,2005.9 1171.0,2006.1 1176.8,2006.5 1182.6,2006.8 1188.4,2007.3 1194.2,2007.8 1200.0,2008.3 1205.7,2008.9 1211.4,2009.6 1217.1,2010.4 1222.8,2011.1 1228.4,2012.0 1234.0,2012.9 1239.6,2013.9 1245.1,2014.9 1250.6,2016.0 1256.1,2017.2 1261.5,2018.4 1266.8,2019.7 1272.1,2021.0 1277.4,2022.4 1282.6,2023.8 1287.7,2025.3 1292.8,2026.9 1297.8,2028.5 1302.8,2030.2 1307.6,2031.9 1312.5,2033.7 1317.2,2035.6 1321.8,2037.5 1326.4,2039.5 1330.9,2041.5 1335.3,2043.6 1339.7,2045.7 1343.9,2047.9 1348.0,2050.1 1352.1,2052.4 1356.0,2054.7 1359.8,2057.1 1363.6,2059.6 1367.2,2062.1 1370.7,2064.6 1374.1,2067.2 1377.4,2069.9 1380.5,2072.5 1383.5,2075.3" fill="#9BBB59" stroke="#fff" stroke-width="1.6" stroke-linejoin="round"/>
<polyline points="1412.3,2139.5 1412.2,2140.6 1412.0,2141.8 1411.8,2142.9 1411.6,2144.1 1411.4,2145.2 1411.2,2146.3 1410.9,2147.5 1410.6,2148.6 1410.3,2149.8 1410.0,2150.9 1409.6,2152.1 1409.2,2153.2 1408.8,2154.4 1408.4,2155.5 1407.9,2156.7 1407.5,2157.8 1407.0,2158.9 1406.5,2160.1 1405.9,2161.2 1405.4,2162.4 1404.8,2163.5 1404.2,2164.7 1403.5,2165.8 1402.9,2166.9 1402.2,2168.1 1401.5,2169.2 1400.8,2170.4 1400.0,2171.5 1399.2,2172.6 1398.4,2173.8 1397.6,2174.9 1396.8,2176.0 1395.9,2177.1 1395.0,2178.3 1394.1,2179.4 1393.2,2180.5 1392.2,2181.6 1391.2,2182.7 1390.2,2183.8 1389.2,2184.9 1388.1,2186.0 1387.0,2187.1 1385.9,2188.2 1384.8,2189.3 1383.6,2190.4 1382.5,2191.5 1381.3,2192.6 1380.0,2193.7 1378.8,2194.7 1377.5,2195.8 1376.2,2196.9 1374.9,2197.9 1373.6,2199.0 1372.2,2200.1 1370.8,2201.1 1369.4,2202.1 1368.0,2203.2 1366.5,2204.2 1365.1,2205.2 1363.6,2206.3 1362.0,2207.3 1360.5,2208.3 1358.9,2209.3 1357.3,2210.3 1355.7,2211.3 1354.1,2212.2 1352.4,2213.2 1350.7,2214.2 1349.0,2215.2 1347.3,2216.1 1345.5,2217.1 1343.8,2218.0 1342.0,2218.9 1340.2,2219.9 1338.3,2220.8 1336.5,2221.7 1334.6,2222.6 1332.7,2223.5 1330.8,2224.4 1328.8,2225.3 1326.9,2226.2 1324.9,2227.0 1322.9,2227.9 1320.9,2228.7 1318.8,2229.6 1316.8,2230.4 1314.7,2231.2 1312.6,2232.0 1310.4,2232.8 1308.3,2233.6 1306.2,2234.4 1304.0,2235.2 1301.8,2235.9 1299.6,2236.7 1297.3,2237.4 1295.1,2238.2 1292.8,2238.9 1290.5,2239.6 1288.2,2240.3 1285.9,2241.0 1283.6,2241.7 1281.2,2242.4 1278.9,2243.0 1276.5,2243.7 1274.1,2244.3 1271.7,2244.9 1269.2,2245.5 1266.8,2246.2 1264.3,2246.7 1261.8,2247.3 1259.3,2247.9 1256.8,2248.5 1254.3,2249.0 1251.8,2249.5 1249.3,2250.1 1246.7,2250.6 1244.1,2251.1 1241.6,2251.6 1239.0,2252.0 1236.4,2252.5 1233.7,2252.9 1231.1,2253.4 1228.5,2253.8 1225.8,2254.2 1223.2,2254.6 1220.5,2255.0 1217.8,2255.4 1215.1,2255.7 1212.4,2256.1 1209.7,2256.4 1207.0,2256.7 1204.3,2257.0 1201.6,2257.3 1198.8,2257.6 1196.1,2257.9 1193.4,2258.1 1190.6,2258.4 1187.8,2258.6 1185.1,2258.8 1182.3,2259.0 1179.5,2259.2 1176.7,2259.4 1174.0,2259.5 1171.2,2259.7 1168.4,2259.8 1165.6,2259.9 1162.8,2260.0 1160.0,2260.1 1157.2,2260.2 1154.4,2260.2 1151.6,2260.3 1148.8,2260.3 1146.0,2260.3 1143.2,2260.4 1140.3,2260.3 1137.5,2260.3 1134.7,2260.3 1131.9,2260.2 1129.1,2260.2 1126.3,2260.1 1123.5,2260.0 1120.7,2259.9 1117.9,2259.8 1115.1,2259.7 1112.4,2259.5 1109.6,2259.4 1106.8,2259.2 1104.0,2259.0 1101.2,2258.8 1098.5,2258.6 1095.7,2258.4 1093.0,2258.1 1090.2,2257.9 1087.5,2257.6 1084.7,2257.3 1082.0,2257.0 1079.3,2256.7 1076.6,2256.4 1073.9,2256.1 1071.2,2255.7 1068.5,2255.4 1065.8,2255.0 1063.1,2254.6 1060.5,2254.2 1057.8,2253.8 1055.2,2253.4 1052.6,2252.9 1050.0,2252.5 1047.4,2252.0 1044.8,2251.6 1042.2,2251.1 1039.6,2250.6 1037.1,2250.1 1034.5,2249.5 1032.0,2249.0 1029.5,2248.5 1027.0,2247.9 1024.5,2247.3 1022.0,2246.7 1019.5,2246.2 1017.1,2245.5 1014.7,2244.9 1012.2,2244.3 1009.8,2243.7 1007.5,2243.0 1005.1,2242.4 1002.7,2241.7 1000.4,2241.0 998.1,2240.3 995.8,2239.6 993.5,2238.9 991.2,2238.2 989.0,2237.4 986.7,2236.7 984.5,2235.9 982.3,2235.2 980.2,2234.4 978.0,2233.6 975.9,2232.8 973.7,2232.0 971.6,2231.2 969.6,2230.4 967.5,2229.6 965.5,2228.7 963.4,2227.9 961.4,2227.0 959.4,2226.2 957.5,2225.3 955.5,2224.4 953.6,2223.5 951.7,2222.6 949.8,2221.7 948.0,2220.8 946.2,2219.9 944.3,2218.9 942.5,2218.0 940.8,2217.1 939.0,2216.1 937.3,2215.2 935.6,2214.2 933.9,2213.2 932.2,2212.2 930.6,2211.3 929.0,2210.3 927.4,2209.3 925.8,2208.3 924.3,2207.3 922.8,2206.3 921.3,2205.2 919.8,2204.2 918.3,2203.2 916.9,2202.1 915.5,2201.1 914.1,2200.1 912.7,2199.0 911.4,2197.9 910.1,2196.9 908.8,2195.8 907.5,2194.7 906.3,2193.7 905.0,2192.6 903.8,2191.5 902.7,2190.4 901.5,2189.3 900.4,2188.2 899.3,2187.1 898.2,2186.0 897.1,2184.9 896.1,2183.8 895.1,2182.7 894.1,2181.6 893.2,2180.5 892.2,2179.4 891.3,2178.3 890.4,2177.1 889.5,2176.0 888.7,2174.9 887.9,2173.8 887.1,2172.6 886.3,2171.5 885.6,2170.4 884.8,2169.2 884.1,2168.1 883.4,2166.9 882.8,2165.8 882.2,2164.7 881.5,2163.5 881.0,2162.4 880.4,2161.2 879.9,2160.1 879.3,2158.9 878.8,2157.8 878.4,2156.7 877.9,2155.5 877.5,2154.4 877.1,2153.2 876.7,2152.1 876.4,2150.9 876.0,2149.8 875.7,2148.6 875.4,2147.5 875.2,2146.3 874.9,2145.2 874.7,2144.1 874.5,2142.9 874.3,2141.8 874.1,2140.6 874.0,2139.5" fill="none" stroke="#fff" stroke-width="2.6"/>
<polygon points="866.6,1904.2 985.4,1904.2 985.4,1955.7 1141.2,2006.4 985.4,1979.0 985.4,1992.7 866.6,1992.7" fill="#fff" stroke="#BFBFBF" stroke-width="2.2" stroke-linejoin="miter"/>
<text x="926.0" y="1925.9" font-size="17.2" text-anchor="middle" fill="#000">unclassified</text><text x="926.0" y="1945.2" font-size="17.2" text-anchor="middle" fill="#000">non-coding</text><text x="926.0" y="1963.1" font-size="17.2" text-anchor="middle" fill="#000">RNA gene</text><text x="926.0" y="1983.5" font-size="17.2" text-anchor="middle" fill="#000">&lt;1%</text>
<polygon points="1023.7,1938.6 1143.8,1938.6 1143.8,1987.4 1124.0,1987.4 1128.5,2004.6 1093.7,1987.4 1023.7,1987.4" fill="#fff" stroke="#BFBFBF" stroke-width="2.2" stroke-linejoin="miter"/>
<text x="1083.8" y="1961.0" font-size="17.2" text-anchor="middle" fill="#000">pseudogene</text><text x="1083.8" y="1980.8" font-size="17.2" text-anchor="middle" fill="#000">1%</text>
<polygon points="800.0,2020.4 932.6,2020.4 932.6,2028.4 1141.2,2007.2 932.6,2039.7 932.6,2069.3 800.0,2069.3" fill="#fff" stroke="#BFBFBF" stroke-width="2.2" stroke-linejoin="miter"/>
<text x="871.6" y="2041.6" font-size="17.2" text-anchor="middle" fill="#000">snoRNA gene</text><text x="871.6" y="2062.7" font-size="17.2" text-anchor="middle" fill="#000">&lt;1%</text>
<polygon points="1161.7,1926.9 1288.6,1926.9 1288.6,1995.8 1184.0,1995.8 1148.8,2006.3 1166.0,1995.8 1161.7,1995.8" fill="#fff" stroke="#BFBFBF" stroke-width="2.2" stroke-linejoin="miter"/>
<text x="1225.2" y="1948.8" font-size="17.2" text-anchor="middle" fill="#f00">antisense</text><text x="1225.2" y="1968.7" font-size="17.2" text-anchor="middle" fill="#f00">lncRNA gene</text><text x="1225.2" y="1986.4" font-size="17.2" text-anchor="middle" fill="#f00">1%</text>
<polygon points="1334.4,1922.9 1461.8,1922.9 1461.8,2012.2 1334.4,2012.2 1334.4,1996.9 1153.5,2006.3 1334.4,1974.6" fill="#fff" stroke="#BFBFBF" stroke-width="2.2" stroke-linejoin="miter"/>
<text x="1398.4" y="1944.8" font-size="17.2" text-anchor="middle" fill="#f00">bidirectional</text><text x="1398.4" y="1964.5" font-size="17.2" text-anchor="middle" fill="#f00">promoter</text><text x="1398.4" y="1981.7" font-size="17.2" text-anchor="middle" fill="#f00">lncRNA gene</text><text x="1398.4" y="2001.6" font-size="17.2" text-anchor="middle" fill="#f00">&lt;1%</text>
<polygon points="1343.8,2022.8 1471.2,2022.8 1471.2,2071.7 1343.8,2071.7 1343.8,2045.8 1283.9,2025.1 1343.8,2031.0" fill="#fff" stroke="#BFBFBF" stroke-width="2.2" stroke-linejoin="miter"/>
<text x="1407.9" y="2044.4" font-size="17.2" text-anchor="middle" fill="#f00">lncRNA gene</text><text x="1407.9" y="2064.6" font-size="17.2" text-anchor="middle" fill="#f00">19%</text>
<polygon points="887.7,2124.6 1020.9,2124.6 1020.9,2195.9 998.9,2195.9 978.2,2234.3 965.5,2195.9 887.7,2195.9" fill="#fff" stroke="#BFBFBF" stroke-width="2.2" stroke-linejoin="miter"/>
<text x="954.6" y="2147.4" font-size="17.2" text-anchor="middle" fill="#000">protein</text><text x="954.6" y="2167.0" font-size="17.2" text-anchor="middle" fill="#000">coding gene</text><text x="954.6" y="2185.4" font-size="17.2" text-anchor="middle" fill="#000">79%</text>
</svg></body></html>
